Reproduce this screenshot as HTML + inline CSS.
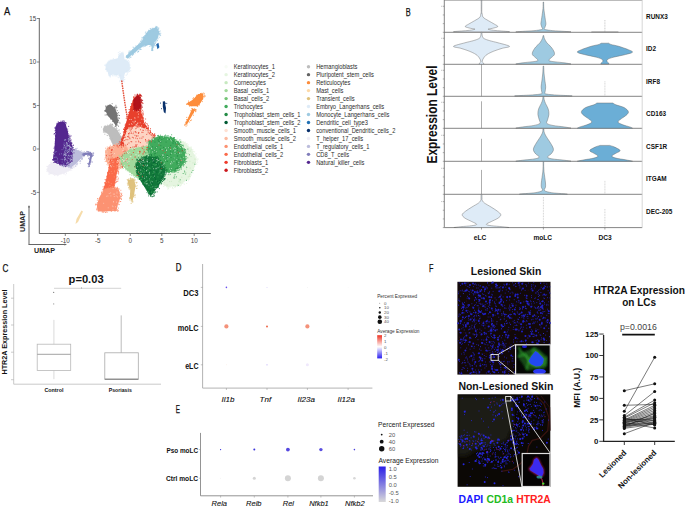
<!DOCTYPE html>
<html><head><meta charset="utf-8"><style>
html,body{margin:0;padding:0;background:#fff;}
body{width:685px;height:507px;overflow:hidden;}
svg{display:block;font-family:"Liberation Sans",sans-serif;}
</style></head><body>
<svg width="685" height="507" viewBox="0 0 685 507">
<rect width="685" height="507" fill="#fff"/>
<text x="3.9" y="14.8" font-size="10" fill="#111" font-weight="normal" text-anchor="start"  textLength="6.2" lengthAdjust="spacingAndGlyphs" stroke="#111" stroke-width="0.25">A</text>
<line x1="39.3" y1="18" x2="39.3" y2="233.5" stroke="#555" stroke-width="0.9" />
<line x1="39.3" y1="233.5" x2="210.8" y2="233.5" stroke="#555" stroke-width="0.9" />
<line x1="36.8" y1="18.5" x2="39.3" y2="18.5" stroke="#555" stroke-width="0.7" />
<text x="36.3" y="20.7" font-size="6.3" fill="#444" font-weight="normal" text-anchor="end"  >15</text>
<line x1="36.8" y1="62" x2="39.3" y2="62" stroke="#555" stroke-width="0.7" />
<text x="36.3" y="64.2" font-size="6.3" fill="#444" font-weight="normal" text-anchor="end"  >10</text>
<line x1="36.8" y1="105.5" x2="39.3" y2="105.5" stroke="#555" stroke-width="0.7" />
<text x="36.3" y="107.7" font-size="6.3" fill="#444" font-weight="normal" text-anchor="end"  >5</text>
<line x1="36.8" y1="149" x2="39.3" y2="149" stroke="#555" stroke-width="0.7" />
<text x="36.3" y="151.2" font-size="6.3" fill="#444" font-weight="normal" text-anchor="end"  >0</text>
<line x1="36.8" y1="192.4" x2="39.3" y2="192.4" stroke="#555" stroke-width="0.7" />
<text x="36.3" y="194.6" font-size="6.3" fill="#444" font-weight="normal" text-anchor="end"  >-5</text>
<line x1="65.3" y1="233.5" x2="65.3" y2="236" stroke="#555" stroke-width="0.7" />
<text x="65.3" y="242.6" font-size="6.3" fill="#444" font-weight="normal" text-anchor="middle"  >-10</text>
<line x1="97.7" y1="233.5" x2="97.7" y2="236" stroke="#555" stroke-width="0.7" />
<text x="97.7" y="242.6" font-size="6.3" fill="#444" font-weight="normal" text-anchor="middle"  >-5</text>
<line x1="130.3" y1="233.5" x2="130.3" y2="236" stroke="#555" stroke-width="0.7" />
<text x="130.3" y="242.6" font-size="6.3" fill="#444" font-weight="normal" text-anchor="middle"  >0</text>
<line x1="161.8" y1="233.5" x2="161.8" y2="236" stroke="#555" stroke-width="0.7" />
<text x="161.8" y="242.6" font-size="6.3" fill="#444" font-weight="normal" text-anchor="middle"  >5</text>
<line x1="194.2" y1="233.5" x2="194.2" y2="236" stroke="#555" stroke-width="0.7" />
<text x="194.2" y="242.6" font-size="6.3" fill="#444" font-weight="normal" text-anchor="middle"  >10</text>
<line x1="29" y1="206" x2="29" y2="244.5" stroke="#666" stroke-width="1" />
<line x1="28.5" y1="244.5" x2="66" y2="244.5" stroke="#666" stroke-width="1" />
<polygon points="29,205 28,207.6 30,207.6" fill="#666"/>
<polygon points="67,244.5 64.4,243.5 64.4,245.5" fill="#666"/>
<text x="0" y="0" font-size="7" font-weight="bold" fill="#222" transform="translate(25.3,232) rotate(-90)" textLength="21" lengthAdjust="spacingAndGlyphs">UMAP</text>
<text x="34" y="253" font-size="7" fill="#222" font-weight="bold" text-anchor="start"  textLength="21" lengthAdjust="spacingAndGlyphs" >UMAP</text>
<polygon points="47.7,166.3 51.5,162.4 59.2,161.2 69.5,162.4 74.6,163.7 72.1,168.8 65.6,172.7 57.9,175.3 50.3,174.0 47.1,170.1" fill="#efedf5" />
<path d="M52.3,172.9h0.9M53.6,174.3h0.9M48.3,171.8h0.9M57.0,175.8h0.9M49.2,164.6h0.9M46.3,166.4h0.9M52.2,163.0h0.9M50.1,164.4h0.9M71.5,162.3h0.9M54.5,164.9h0.9M56.7,162.1h0.9M74.1,163.7h0.9M56.3,162.8h0.9M48.8,165.3h0.9M57.8,175.4h0.9M73.4,163.8h0.9M70.2,170.0h0.9M62.0,161.7h0.9M55.7,174.7h0.9M74.7,162.8h0.9M64.2,173.3h0.9M73.6,168.0h0.9M47.1,166.6h0.9M47.7,169.7h0.9M73.3,162.7h0.9M66.1,173.5h0.9M68.7,163.4h0.9M67.9,162.5h0.9M65.3,174.8h0.9M47.8,170.5h0.9M51.4,172.6h0.9M47.5,170.0h0.9M47.3,171.7h0.9M74.4,165.3h0.9M49.6,173.0h0.9M71.2,162.0h0.9M54.2,161.8h0.9M47.4,166.4h0.9M47.6,166.5h0.9M60.8,162.0h0.9M67.4,170.3h0.9M66.2,161.4h0.9M67.7,171.5h0.9M55.2,161.0h0.9M50.7,161.9h0.9M68.1,161.7h0.9M51.7,173.4h0.9M49.9,162.4h0.9M63.1,173.7h0.9M58.3,161.5h0.9M69.4,169.2h0.9M53.3,174.4h0.9M49.3,173.2h0.9M75.6,164.7h0.9M56.7,175.0h0.9M48.1,171.1h0.9M54.2,175.5h0.9M72.6,165.4h0.9M73.1,164.4h0.9M71.3,170.3h0.9M51.1,163.3h0.9M58.4,161.7h0.9M61.4,173.5h0.9M47.5,168.5h0.9M46.8,168.8h0.9M71.8,166.5h0.9M63.8,174.1h0.9M74.2,161.0h0.9M54.1,160.9h0.9M65.7,172.0h0.9M55.6,173.5h0.9M48.3,171.9h0.9M69.6,170.6h0.9M63.8,159.8h0.9M55.4,161.4h0.9M53.1,173.3h0.9M60.8,173.2h0.9M68.7,170.1h0.9M55.2,160.7h0.9M73.4,165.7h0.9M49.9,165.4h0.9M48.6,174.3h0.9M75.1,164.1h0.9M63.9,160.0h0.9M55.4,174.9h0.9M48.5,174.1h0.9M56.3,161.9h0.9M46.5,171.3h0.9M48.4,171.0h0.9M48.6,167.4h0.9M48.5,172.9h0.9M55.2,161.7h0.9M48.4,165.2h0.9M47.6,170.0h0.9M50.2,171.4h0.9M63.1,173.5h0.9M60.6,174.2h0.9M49.7,173.9h0.9M74.3,164.2h0.9M71.0,162.7h0.9M69.4,169.8h0.9M46.4,169.6h0.9M73.2,163.2h0.9M58.5,174.1h0.9M46.5,171.2h0.9M48.7,169.4h0.9M66.0,173.0h0.9" stroke="#efedf5" stroke-width="0.9" fill="none"/>
<polygon points="63.1,157.3 69.5,149.6 75.9,149.6 82.3,152.2 84.2,154.7 81.0,158.6 75.9,163.7 70.8,167.6 63.1,166.3 59.2,162.4" fill="#bcbddc" />
<path d="M84.6,152.7h0.9M81.9,152.2h0.9M75.9,163.3h0.9M76.1,149.0h0.9M70.0,147.8h0.9M78.9,159.1h0.9M60.0,161.0h0.9M71.1,167.7h0.9M59.0,162.9h0.9M72.3,147.3h0.9M74.1,150.6h0.9M73.9,150.5h0.9M61.9,165.8h0.9M68.9,151.7h0.9M79.1,161.2h0.9M59.9,163.6h0.9M73.4,167.0h0.9M76.8,164.7h0.9M79.5,152.8h0.9M60.6,162.1h0.9M75.5,166.0h0.9M83.6,156.6h0.9M59.1,164.5h0.9M82.5,155.1h0.9M61.7,165.9h0.9M83.8,151.5h0.9M64.3,156.8h0.9M68.2,167.2h0.9M75.8,164.5h0.9M75.9,161.3h0.9M63.3,158.7h0.9M71.9,147.7h0.9M71.7,168.2h0.9M80.2,151.5h0.9M70.1,167.9h0.9M59.4,160.6h0.9M82.1,158.3h0.9M84.3,153.7h0.9M78.4,150.4h0.9M79.8,163.3h0.9M81.4,158.4h0.9M68.8,167.0h0.9M75.3,148.6h0.9M84.4,154.6h0.9M70.4,166.8h0.9M75.4,150.4h0.9M65.3,165.7h0.9M74.0,162.0h0.9M81.9,158.0h0.9M81.1,157.2h0.9M82.1,155.7h0.9M83.5,153.2h0.9M82.9,153.0h0.9M67.8,152.5h0.9M68.0,153.2h0.9M74.8,149.3h0.9M82.8,154.5h0.9M82.5,153.1h0.9M73.0,150.2h0.9M83.1,152.4h0.9M76.7,148.3h0.9M79.6,158.4h0.9M78.4,151.0h0.9M81.6,159.6h0.9M62.9,166.9h0.9M63.9,158.0h0.9M72.4,149.7h0.9M80.1,160.7h0.9M80.2,161.4h0.9M62.6,158.6h0.9M83.1,155.7h0.9M81.3,159.4h0.9M61.6,166.0h0.9M76.2,161.2h0.9M60.2,160.9h0.9M62.1,160.9h0.9M81.7,158.2h0.9M80.8,150.8h0.9M74.1,163.5h0.9M71.6,150.0h0.9M80.3,158.6h0.9M74.9,166.2h0.9M61.0,165.2h0.9M76.5,162.1h0.9M74.8,149.1h0.9M77.2,161.4h0.9M62.7,165.5h0.9M67.4,151.6h0.9M78.1,151.3h0.9M77.1,151.1h0.9M81.8,158.8h0.9M72.6,151.3h0.9M68.9,151.6h0.9M65.4,155.7h0.9M59.9,160.0h0.9M83.9,152.8h0.9M83.3,156.7h0.9M80.8,157.9h0.9M61.6,164.3h0.9M77.2,163.4h0.9M71.3,166.0h0.9M67.3,152.4h0.9M63.2,166.6h0.9" stroke="#bcbddc" stroke-width="0.9" fill="none"/>
<polygon points="82.3,153.5 86.2,152.4 90.6,152.2 92.6,153.5 91.9,157.3 90.6,162.4 89.4,165.6 88.1,165.0 89.4,159.9 90.0,156.0 87.4,154.7 83.6,155.4" fill="#807dba" />
<path d="M88.9,165.7h0.9M91.8,162.0h0.9M92.6,153.0h0.9M88.9,159.4h0.9M93.0,155.2h0.9M86.9,151.6h0.9M90.3,162.2h0.9M89.4,158.1h0.9M88.5,164.1h0.9M87.3,163.6h0.9M93.2,153.2h0.9M88.9,166.5h0.9M83.9,155.5h0.9M83.6,155.6h0.9M90.0,152.3h0.9M82.9,154.9h0.9M86.4,151.4h0.9M88.1,154.3h0.9M82.7,155.6h0.9M87.4,155.6h0.9M88.7,152.0h0.9M81.9,154.4h0.9M87.9,153.2h0.9M83.4,155.3h0.9M89.4,162.3h0.9M91.1,154.1h0.9M88.5,165.9h0.9M87.5,156.0h0.9M88.4,163.4h0.9M87.9,166.7h0.9M92.0,155.9h0.9M90.1,164.0h0.9M88.0,158.3h0.9M89.7,153.6h0.9M90.6,161.0h0.9M92.4,154.9h0.9M83.8,153.6h0.9M84.8,153.2h0.9M91.6,155.7h0.9M89.7,153.0h0.9M88.1,151.7h0.9M87.5,154.9h0.9M91.7,156.3h0.9" stroke="#807dba" stroke-width="0.9" fill="none"/>
<polygon points="56.7,124.0 59.2,122.1 63.7,121.4 65.6,124.0 67.6,130.4 68.8,136.8 70.8,141.9 72.7,147.1 72.1,152.2 71.4,157.3 69.5,162.4 65.6,165.0 60.5,164.4 55.4,162.4 52.8,159.9 54.1,153.5 54.7,144.5 55.4,134.2 55.4,127.8" fill="#54278f" />
<path d="M68.4,165.1h0.9M69.1,162.0h0.9M61.8,165.5h0.9M63.3,123.5h0.9M67.3,131.1h0.9M56.4,162.0h0.9M68.7,137.9h0.9M59.2,164.6h0.9M67.2,131.7h0.9M62.7,120.7h0.9M53.6,148.3h0.9M56.4,123.9h0.9M54.5,153.8h0.9M56.7,163.5h0.9M65.7,164.6h0.9M65.6,166.0h0.9M52.3,159.7h0.9M70.2,161.4h0.9M54.8,156.6h0.9M53.9,147.1h0.9M71.9,160.0h0.9M59.8,165.2h0.9M71.9,150.6h0.9M64.0,121.2h0.9M54.7,130.8h0.9M71.8,158.3h0.9M53.2,155.2h0.9M55.3,127.9h0.9M66.2,163.2h0.9M55.2,147.3h0.9M60.5,121.2h0.9M53.2,152.3h0.9M55.0,132.5h0.9M61.6,123.2h0.9M71.4,156.2h0.9M54.2,158.8h0.9M67.2,129.1h0.9M72.2,150.3h0.9M54.8,135.1h0.9M70.0,162.5h0.9M70.6,135.9h0.9M55.8,154.9h0.9M58.1,123.5h0.9M55.2,129.0h0.9M72.6,147.8h0.9M69.8,136.9h0.9M56.8,125.9h0.9M69.3,135.2h0.9M67.2,163.1h0.9M53.6,134.1h0.9M55.5,132.6h0.9M53.3,162.4h0.9M70.8,147.9h0.9M55.0,153.4h0.9M62.2,121.3h0.9M67.1,133.3h0.9M54.9,141.6h0.9M64.5,122.9h0.9M56.4,125.3h0.9M70.0,157.9h0.9M55.3,135.4h0.9M54.8,143.3h0.9M52.2,159.9h0.9M72.6,145.4h0.9M66.3,131.7h0.9M58.3,122.6h0.9M64.2,123.3h0.9M65.0,122.6h0.9M73.8,149.8h0.9M55.0,160.9h0.9M66.4,164.6h0.9M69.4,138.6h0.9M68.9,162.9h0.9M68.4,140.2h0.9M59.5,163.9h0.9M72.1,147.8h0.9M70.3,143.1h0.9M55.7,149.4h0.9M54.0,151.9h0.9M71.8,154.2h0.9M69.1,140.5h0.9M71.0,143.7h0.9M65.0,166.6h0.9M65.3,124.9h0.9M64.9,124.1h0.9M54.8,138.8h0.9M54.8,154.1h0.9M59.3,122.5h0.9M67.5,133.5h0.9M54.0,156.1h0.9M71.2,155.1h0.9M55.4,136.3h0.9M63.6,166.0h0.9M55.4,146.1h0.9M71.7,161.4h0.9M54.3,127.9h0.9M64.2,164.6h0.9M54.0,162.2h0.9M68.2,162.6h0.9M59.6,163.1h0.9M72.3,147.8h0.9M68.1,135.2h0.9M71.0,161.0h0.9M61.6,164.0h0.9M57.1,162.9h0.9M66.3,164.8h0.9M65.4,164.4h0.9M69.5,140.6h0.9M65.3,164.4h0.9M64.3,122.4h0.9M56.1,162.7h0.9M53.5,157.3h0.9M68.3,135.8h0.9M55.1,145.2h0.9M72.7,149.4h0.9M56.5,128.0h0.9M56.2,132.1h0.9M68.6,163.2h0.9M71.2,143.4h0.9M68.4,136.9h0.9M55.0,127.1h0.9M54.9,130.4h0.9M70.5,139.7h0.9M65.9,123.0h0.9M53.4,156.4h0.9M53.8,160.4h0.9M55.0,136.3h0.9M71.6,153.5h0.9M72.9,145.2h0.9M54.8,161.8h0.9M72.2,156.9h0.9M71.0,158.6h0.9M56.8,123.2h0.9M70.5,156.3h0.9M58.3,163.2h0.9M70.4,140.6h0.9M69.2,158.7h0.9M59.9,163.9h0.9M55.1,152.3h0.9M70.8,157.5h0.9M67.8,137.6h0.9M56.0,131.7h0.9M68.2,126.4h0.9M55.0,162.3h0.9M56.0,126.5h0.9M67.8,163.1h0.9M71.8,155.1h0.9M70.9,160.8h0.9M69.4,138.5h0.9M53.4,154.1h0.9M54.1,133.5h0.9M73.5,152.9h0.9M53.8,156.1h0.9M57.8,121.8h0.9M71.8,153.2h0.9M55.3,139.5h0.9M64.0,164.7h0.9M54.9,148.3h0.9M65.7,130.2h0.9M54.9,161.7h0.9M54.9,128.6h0.9M55.5,137.0h0.9M52.9,159.5h0.9M67.1,164.6h0.9M69.2,136.7h0.9M71.5,143.1h0.9M65.6,165.0h0.9M60.6,122.8h0.9M71.0,142.3h0.9" stroke="#54278f" stroke-width="0.9" fill="none"/>
<path d="M68.7,153.1h0.9M66.2,150.1h0.9M72.1,150.9h0.9M66.8,162.8h0.9M70.1,155.5h0.9M69.0,146.5h0.9M67.3,156.9h0.9M70.2,157.8h0.9M67.3,150.0h0.9M71.1,150.9h0.9M66.7,152.1h0.9M68.2,149.5h0.9M63.6,146.0h0.9M68.2,146.1h0.9M65.5,154.4h0.9M64.9,150.0h0.9M68.4,138.3h0.9M65.5,144.2h0.9M66.4,151.4h0.9M66.4,142.6h0.9M63.2,148.8h0.9M65.4,139.8h0.9M67.3,158.1h0.9M67.9,138.4h0.9M66.3,163.0h0.9M65.9,148.5h0.9M69.0,137.7h0.9M69.6,149.9h0.9M67.8,139.3h0.9M69.3,151.8h0.9M66.1,163.8h0.9M72.6,147.5h0.9M70.9,156.5h0.9M69.4,142.7h0.9M65.1,158.4h0.9M64.7,153.2h0.9M63.5,144.6h0.9M65.6,146.5h0.9M69.1,145.5h0.9M65.1,157.0h0.9M65.6,147.4h0.9M69.0,144.7h0.9M64.4,140.3h0.9M64.0,151.3h0.9M67.1,150.7h0.9M64.2,140.3h0.9M63.8,155.1h0.9M65.2,150.3h0.9M65.0,148.5h0.9M65.2,154.8h0.9M66.6,146.2h0.9M68.7,155.4h0.9M65.7,155.5h0.9M63.2,154.0h0.9M63.2,147.4h0.9M68.8,161.2h0.9M66.8,144.6h0.9M69.4,149.6h0.9M65.1,159.1h0.9M68.8,156.5h0.9M71.5,155.6h0.9M64.7,151.1h0.9M67.7,155.2h0.9M63.7,143.1h0.9M67.2,143.3h0.9M68.3,139.9h0.9M69.4,159.1h0.9M72.0,151.4h0.9M68.7,150.8h0.9M71.1,151.3h0.9" stroke="#807dba" stroke-width="0.9" fill="none"/>
<path d="M64.0,159.2h0.9M69.8,159.0h0.9M71.6,149.0h0.9M64.6,147.3h0.9M66.6,160.3h0.9M67.0,152.6h0.9M68.5,138.7h0.9M65.4,155.5h0.9M68.0,145.5h0.9M66.5,143.7h0.9M68.8,149.9h0.9M64.7,139.7h0.9M70.9,151.0h0.9M64.5,152.7h0.9M64.7,154.2h0.9M64.2,160.0h0.9M65.3,159.3h0.9M64.1,157.6h0.9M66.7,145.1h0.9M69.0,148.2h0.9M67.8,162.5h0.9M68.3,158.3h0.9M70.5,147.8h0.9M66.0,142.8h0.9M68.2,155.3h0.9M67.1,162.1h0.9M68.5,140.7h0.9M64.0,154.4h0.9M65.6,153.7h0.9M70.7,147.6h0.9M69.3,146.2h0.9M64.2,145.6h0.9M68.2,141.4h0.9M66.8,145.9h0.9M70.9,155.8h0.9M66.5,163.6h0.9M68.1,151.7h0.9M70.1,147.3h0.9M68.8,139.8h0.9M69.7,146.9h0.9" stroke="#bcbddc" stroke-width="0.9" fill="none"/>
<path d="M61.7,162.1h0.9M55.5,160.7h0.9M54.3,160.7h0.9M57.2,162.4h0.9M55.6,157.6h0.9M63.2,164.0h0.9M61.1,153.8h0.9M54.0,157.3h0.9M54.1,154.2h0.9M55.7,151.5h0.9M54.8,152.2h0.9M59.1,154.1h0.9M57.2,159.9h0.9M60.7,159.3h0.9M55.5,156.9h0.9M63.4,155.7h0.9M57.1,158.3h0.9M64.5,161.8h0.9M61.6,149.6h0.9M62.5,159.2h0.9M63.1,155.0h0.9M64.3,160.1h0.9M63.5,164.2h0.9M57.4,162.0h0.9M61.9,159.7h0.9" stroke="#807dba" stroke-width="0.9" fill="none"/>
<polygon points="121.2,52.3 123.6,52.8 124.6,59.7 127.6,60.7 129.6,63.6 130.0,68.6 128.6,71.5 125.1,72.5 124.1,76.5 123.2,81.4 121.2,81.4 119.7,77.4 118.7,74.5 116.7,75.5 112.8,74.5 108.9,76.5 107.9,72.5 105.9,69.6 105.4,65.6 107.9,61.7 111.8,59.7 117.7,58.2 119.2,54.8" fill="#deebf7" />
<path d="M119.2,74.5h0.9M128.0,72.0h0.9M127.8,62.1h0.9M113.5,75.9h0.9M108.1,73.7h0.9M108.8,75.5h0.9M107.9,64.5h0.9M112.9,58.6h0.9M116.9,74.4h0.9M105.5,64.2h0.9M126.8,61.1h0.9M114.4,75.3h0.9M123.6,77.4h0.9M108.6,62.4h0.9M106.3,71.2h0.9M107.7,63.1h0.9M124.3,60.1h0.9M109.8,77.0h0.9M120.2,76.0h0.9M126.1,71.4h0.9M119.7,75.9h0.9M117.6,77.1h0.9M119.5,51.7h0.9M123.7,77.5h0.9M123.2,80.9h0.9M123.6,79.6h0.9M123.8,81.9h0.9M104.6,65.5h0.9M128.2,68.4h0.9M115.3,60.0h0.9M118.1,75.2h0.9M118.0,54.8h0.9M107.1,69.9h0.9M129.1,62.0h0.9M118.8,55.7h0.9M108.1,62.7h0.9M120.1,75.4h0.9M124.6,60.1h0.9M121.2,54.6h0.9M105.3,69.2h0.9M105.0,69.2h0.9M119.8,55.0h0.9M117.9,52.7h0.9M106.4,68.8h0.9M126.7,74.4h0.9M130.1,67.8h0.9M109.3,73.3h0.9M109.9,62.4h0.9M129.1,71.5h0.9M121.5,81.4h0.9M127.9,70.4h0.9M119.2,55.5h0.9M125.6,71.7h0.9M119.4,81.7h0.9M123.9,73.0h0.9M119.6,80.4h0.9M116.4,75.9h0.9M109.2,75.3h0.9M118.6,57.1h0.9M124.4,79.4h0.9M124.8,61.3h0.9M117.8,58.5h0.9M118.9,56.2h0.9M115.4,76.0h0.9M128.2,60.6h0.9M129.5,65.1h0.9M127.0,73.1h0.9M126.1,60.0h0.9M109.8,76.1h0.9M130.3,70.8h0.9M123.0,78.0h0.9M129.8,67.9h0.9M124.2,71.4h0.9M118.1,57.0h0.9M125.7,75.3h0.9M119.6,76.0h0.9M104.6,64.9h0.9M106.7,63.2h0.9M124.9,60.1h0.9M122.5,80.9h0.9M129.2,70.1h0.9M123.2,80.6h0.9M119.7,74.8h0.9M126.8,71.9h0.9M109.6,76.2h0.9M128.6,69.7h0.9M119.2,53.4h0.9M109.9,60.5h0.9M122.4,52.2h0.9M109.8,59.9h0.9M121.7,81.7h0.9M108.6,60.6h0.9M118.4,77.7h0.9M111.6,59.6h0.9M108.1,70.1h0.9M120.4,80.2h0.9M121.9,81.0h0.9M120.4,77.0h0.9M106.1,69.4h0.9M117.0,74.2h0.9M112.0,75.8h0.9M125.0,57.1h0.9M112.5,74.9h0.9M107.7,61.7h0.9M113.7,59.5h0.9M125.3,60.3h0.9M118.1,57.0h0.9M125.5,72.4h0.9" stroke="#deebf7" stroke-width="0.9" fill="none"/>
<polygon points="155.7,27.3 158.1,29.2 159.2,32.4 158.4,36.3 156.5,40.2 154.6,42.1 153.7,45.0 153.1,48.9 151.8,50.5 151.5,45.0 148.6,45.0 143.9,45.8 139.2,48.9 134.4,52.9 130.5,55.7 127.3,58.4 125.8,56.8 128.1,53.7 132.9,48.9 137.6,45.0 141.5,41.8 143.9,37.1 146.3,33.1 149.4,30.0" fill="#9ecae1" />
<path d="M145.4,32.0h0.9M146.6,34.1h0.9M156.7,40.2h0.9M157.5,28.3h0.9M144.8,37.8h0.9M144.1,37.6h0.9M152.0,44.5h0.9M154.2,43.2h0.9M149.3,32.2h0.9M157.8,31.1h0.9M158.3,27.9h0.9M126.9,57.8h0.9M154.8,43.5h0.9M140.3,41.5h0.9M146.4,45.2h0.9M152.3,46.4h0.9M158.6,34.2h0.9M138.5,44.1h0.9M156.9,37.3h0.9M158.1,29.2h0.9M152.3,30.6h0.9M142.6,46.8h0.9M158.7,33.9h0.9M143.2,41.3h0.9M126.7,57.4h0.9M126.4,56.2h0.9M141.6,37.4h0.9M136.5,46.8h0.9M154.8,45.6h0.9M153.9,45.1h0.9M155.2,29.1h0.9M158.0,31.7h0.9M156.9,40.7h0.9M159.7,31.0h0.9M140.0,44.3h0.9M136.6,47.5h0.9M152.0,49.8h0.9M148.1,32.5h0.9M139.9,49.4h0.9M128.7,58.0h0.9M151.8,28.3h0.9M141.6,41.9h0.9M151.9,29.1h0.9M153.9,44.6h0.9M129.5,55.7h0.9M132.5,53.1h0.9M151.0,45.8h0.9M142.8,37.9h0.9M128.3,52.8h0.9M144.2,37.4h0.9M140.6,40.9h0.9M133.2,54.6h0.9M159.6,34.4h0.9M148.0,31.2h0.9M132.9,53.2h0.9M139.2,49.7h0.9M132.8,52.2h0.9M141.3,39.2h0.9M144.5,45.2h0.9M148.0,31.3h0.9M156.2,26.8h0.9M154.2,28.8h0.9M145.6,45.4h0.9M142.4,38.1h0.9M132.0,55.0h0.9M130.0,57.1h0.9M150.5,44.6h0.9M150.4,45.7h0.9M153.3,47.3h0.9M129.7,51.0h0.9M137.8,51.2h0.9M138.8,44.6h0.9M159.3,35.0h0.9M156.8,28.0h0.9M149.4,46.3h0.9M148.0,30.3h0.9M128.2,57.6h0.9M133.4,47.8h0.9M128.8,52.3h0.9M145.3,45.2h0.9M153.5,44.2h0.9M140.2,48.9h0.9M144.6,46.5h0.9M151.6,48.2h0.9M150.4,28.9h0.9M132.4,49.9h0.9M126.6,57.2h0.9M158.7,37.3h0.9M128.7,51.2h0.9M148.5,44.4h0.9M156.2,28.5h0.9M151.5,45.1h0.9M132.1,55.0h0.9M156.8,38.1h0.9M139.4,42.9h0.9M151.7,50.3h0.9M126.3,55.5h0.9M152.5,50.2h0.9M142.9,37.5h0.9M154.5,45.9h0.9M128.3,56.6h0.9M137.0,52.1h0.9M143.9,37.2h0.9M151.9,50.6h0.9M130.3,51.4h0.9M160.2,35.6h0.9M135.8,50.8h0.9M131.8,54.5h0.9M144.9,33.0h0.9M146.3,34.6h0.9M145.1,45.2h0.9M155.9,27.2h0.9M158.8,33.8h0.9M131.2,51.1h0.9M152.9,46.7h0.9M158.3,28.9h0.9M153.2,45.6h0.9M143.5,37.9h0.9M149.8,28.6h0.9M143.2,36.6h0.9M144.4,35.5h0.9M127.5,57.6h0.9M151.4,45.1h0.9M152.4,45.5h0.9M146.9,34.2h0.9M143.9,38.2h0.9M155.0,27.5h0.9M127.0,56.6h0.9M138.8,44.3h0.9M135.4,46.0h0.9M157.0,27.1h0.9M152.2,49.7h0.9M132.8,49.7h0.9M129.0,56.7h0.9M153.9,44.0h0.9M159.2,33.2h0.9M156.0,27.4h0.9M147.1,32.0h0.9M158.8,31.6h0.9M130.5,57.2h0.9M155.3,40.9h0.9M132.9,52.8h0.9M138.2,51.4h0.9M156.1,27.8h0.9M136.7,46.3h0.9M143.2,37.5h0.9M140.6,49.5h0.9M151.3,50.4h0.9M157.6,38.8h0.9M134.7,52.9h0.9M132.7,47.2h0.9M140.6,46.6h0.9M137.0,46.1h0.9M126.8,57.2h0.9M138.1,51.7h0.9M141.2,41.0h0.9M143.6,46.2h0.9M146.6,33.7h0.9M140.6,46.7h0.9M151.0,49.1h0.9M155.5,26.4h0.9M143.5,40.5h0.9M160.3,33.3h0.9M155.3,42.5h0.9M132.8,53.4h0.9M152.8,28.3h0.9M153.5,40.1h0.9M155.5,41.6h0.9M130.5,55.1h0.9" stroke="#9ecae1" stroke-width="0.9" fill="none"/>
<polygon points="156.2,44.2 158.4,42.8 159.4,47.3 157.5,49.2" fill="#2166ac" />
<polygon points="103.9,126.6 110.6,124.8 117.3,130.1 121.3,136.8 123.1,143.9 119.4,149.8 114.6,150.9 111.9,142.6 107.9,133.8 102.9,130.6" fill="#bdbdbd" />
<path d="M115.1,151.0h0.9M104.6,125.8h0.9M121.6,146.5h0.9M110.4,124.2h0.9M111.0,125.2h0.9M107.3,133.5h0.9M114.1,151.7h0.9M114.0,150.4h0.9M109.2,125.2h0.9M120.6,147.7h0.9M106.6,135.3h0.9M119.8,133.7h0.9M105.1,130.5h0.9M122.1,143.8h0.9M122.6,145.8h0.9M113.0,144.9h0.9M110.6,125.2h0.9M118.7,132.9h0.9M122.0,142.5h0.9M118.8,149.5h0.9M109.4,125.0h0.9M118.8,129.8h0.9M103.8,128.9h0.9M103.9,127.0h0.9M120.0,133.4h0.9M118.4,149.4h0.9M123.3,142.4h0.9M111.3,139.7h0.9M114.0,127.8h0.9M118.2,130.3h0.9M109.5,126.8h0.9M103.6,130.3h0.9M106.2,131.3h0.9M119.8,149.2h0.9M122.4,140.4h0.9M116.7,132.5h0.9M110.1,139.8h0.9M104.5,129.2h0.9M105.1,128.3h0.9M113.0,146.8h0.9M113.0,144.9h0.9M111.5,138.2h0.9M119.7,136.6h0.9M119.5,145.2h0.9M120.7,137.1h0.9M116.4,128.4h0.9M114.3,126.6h0.9M115.8,130.3h0.9M124.2,141.8h0.9M121.7,148.5h0.9M118.0,150.4h0.9M115.8,128.9h0.9M109.3,138.6h0.9M104.4,134.4h0.9M116.5,149.1h0.9M111.6,125.1h0.9M104.1,131.7h0.9M104.2,129.9h0.9M119.6,148.3h0.9M111.2,141.9h0.9M104.3,132.7h0.9M103.9,126.7h0.9M116.0,127.3h0.9M123.1,145.0h0.9M103.3,128.7h0.9M116.7,150.7h0.9M116.8,130.4h0.9M104.0,128.3h0.9M122.4,139.9h0.9M111.9,142.1h0.9M102.9,132.2h0.9M122.4,143.1h0.9M111.3,139.4h0.9M103.5,130.2h0.9M123.0,143.4h0.9M121.5,136.5h0.9M103.1,131.7h0.9M109.1,134.8h0.9M114.6,150.4h0.9M105.8,132.8h0.9M116.3,129.0h0.9M118.9,150.6h0.9M121.5,149.0h0.9M103.5,129.5h0.9M107.0,125.2h0.9M111.2,126.5h0.9M115.2,129.6h0.9M120.9,151.3h0.9M114.9,128.3h0.9M112.4,125.6h0.9M121.2,138.5h0.9M104.2,129.7h0.9M107.2,135.6h0.9M115.1,148.4h0.9M114.5,151.7h0.9M115.7,150.3h0.9M120.7,146.1h0.9M102.8,129.2h0.9M105.3,126.1h0.9M122.3,147.7h0.9M118.7,131.0h0.9M108.9,125.3h0.9M105.7,132.2h0.9M105.4,132.2h0.9M121.7,145.2h0.9M118.9,134.8h0.9M101.1,127.0h0.9M110.0,124.1h0.9M104.3,131.2h0.9M112.9,149.9h0.9M122.6,143.8h0.9M119.3,149.1h0.9M112.4,142.9h0.9" stroke="#bdbdbd" stroke-width="0.9" fill="none"/>
<polygon points="106.1,106.6 110.6,104.5 114.6,108.0 117.3,114.6 118.1,122.6 115.9,125.8 111.9,120.0 107.9,116.0 105.3,110.6" fill="#737373" />
<path d="M110.2,106.4h0.9M104.7,110.6h0.9M116.5,107.3h0.9M114.6,108.1h0.9M104.9,111.0h0.9M107.1,113.8h0.9M111.7,103.7h0.9M118.5,122.2h0.9M104.7,115.0h0.9M118.1,126.2h0.9M109.4,105.5h0.9M114.2,108.0h0.9M115.8,124.7h0.9M112.2,121.3h0.9M105.3,106.8h0.9M115.6,108.8h0.9M118.1,120.8h0.9M109.1,115.5h0.9M115.5,107.0h0.9M107.6,107.1h0.9M106.6,115.0h0.9M117.5,119.1h0.9M112.6,108.1h0.9M110.4,119.1h0.9M107.3,110.0h0.9M119.5,123.1h0.9M118.2,112.7h0.9M115.9,112.3h0.9M111.8,124.3h0.9M105.4,105.9h0.9M115.5,105.3h0.9M104.9,111.1h0.9M116.3,113.2h0.9M108.5,106.2h0.9M107.3,111.6h0.9M118.4,117.8h0.9M108.9,105.3h0.9M112.4,119.4h0.9M116.5,124.6h0.9M105.9,108.2h0.9M117.5,120.0h0.9M106.1,109.0h0.9M104.6,110.5h0.9M115.2,126.0h0.9M116.9,113.4h0.9M116.7,110.6h0.9M106.5,108.5h0.9M107.9,114.5h0.9M107.0,107.1h0.9M113.9,107.1h0.9M114.8,109.5h0.9M107.6,105.4h0.9M115.4,126.5h0.9M111.2,106.1h0.9M117.8,120.4h0.9M116.0,107.3h0.9M104.7,111.4h0.9M116.0,122.4h0.9M112.3,106.5h0.9M115.0,110.6h0.9M116.5,125.2h0.9M110.5,118.5h0.9M114.8,107.0h0.9M109.4,104.9h0.9M114.2,122.0h0.9M119.1,115.5h0.9M115.2,111.7h0.9M115.1,124.9h0.9M106.4,114.7h0.9M107.7,106.7h0.9M118.8,118.5h0.9M114.0,107.6h0.9M112.7,121.4h0.9M107.7,105.7h0.9M116.4,125.3h0.9M117.0,115.3h0.9M107.6,114.5h0.9M110.3,106.4h0.9M108.1,106.0h0.9M105.2,110.3h0.9M117.7,115.1h0.9M111.7,107.8h0.9M107.0,109.5h0.9" stroke="#737373" stroke-width="0.9" fill="none"/>
<polygon points="162.8,101.3 164.7,101.8 166.0,108.0 165.5,113.6 163.9,112.2 162.8,106.6" fill="#08306b" />
<path d="M163.4,104.5h0.9M160.1,103.1h0.9M166.3,103.4h0.9M161.1,108.7h0.9M163.9,102.3h0.9M164.0,101.8h0.9M164.2,111.4h0.9M165.0,103.2h0.9M164.3,103.1h0.9M163.0,103.2h0.9" stroke="#08306b" stroke-width="0.9" fill="none"/>
<polygon points="186.1,104.1 192.3,100.1 198.5,93.9 202.9,93.7 203.4,98.3 199.4,104.5 196.7,106.3 190.5,106.3" fill="#fd8d3c" />
<path d="M187.9,102.5h0.9M198.1,94.6h0.9M201.8,101.6h0.9M199.6,99.3h0.9M200.1,93.6h0.9M196.4,95.5h0.9M196.6,95.0h0.9M192.8,101.2h0.9M201.4,93.3h0.9M196.7,96.3h0.9M196.8,95.4h0.9M203.2,93.1h0.9M186.0,104.3h0.9M201.1,94.0h0.9M198.8,105.0h0.9M202.7,94.9h0.9M196.9,106.4h0.9M203.8,96.9h0.9M199.8,102.6h0.9M204.0,93.9h0.9M198.7,104.7h0.9M188.2,103.0h0.9M204.3,95.7h0.9M201.9,93.8h0.9M192.5,98.6h0.9M202.5,96.2h0.9M192.4,109.0h0.9M191.2,105.7h0.9M187.9,103.4h0.9M200.4,100.8h0.9M200.3,93.6h0.9M195.7,96.9h0.9M201.6,99.7h0.9M189.8,105.5h0.9M203.3,96.7h0.9M193.1,97.8h0.9M189.1,106.1h0.9M204.7,96.2h0.9M199.4,101.7h0.9M202.2,99.2h0.9M200.7,94.7h0.9M197.4,105.9h0.9M188.1,101.1h0.9M201.9,97.9h0.9M197.2,105.6h0.9M189.7,102.2h0.9" stroke="#fd8d3c" stroke-width="0.9" fill="none"/>
<polygon points="192.3,108.2 195.1,110.0 190.9,117.8 186.2,125.1 185.4,124.0 188.9,116.1" fill="#fd8d3c" />
<path d="M192.9,112.6h0.9M195.4,111.1h0.9M192.9,115.2h0.9M194.3,109.4h0.9M186.7,122.7h0.9M188.8,122.1h0.9M186.2,119.9h0.9M186.5,121.3h0.9M187.2,119.5h0.9M185.0,122.8h0.9M188.0,121.6h0.9M192.8,112.9h0.9M186.3,117.4h0.9M195.2,111.7h0.9M186.8,121.5h0.9M185.6,126.2h0.9M190.0,120.6h0.9M184.6,124.3h0.9M186.6,122.7h0.9M186.6,125.0h0.9M186.9,122.9h0.9M195.2,109.8h0.9M193.4,110.1h0.9M188.4,117.9h0.9M194.2,110.3h0.9M184.8,124.8h0.9M192.6,111.7h0.9M191.0,120.0h0.9M191.4,108.5h0.9M195.7,109.8h0.9M194.2,108.8h0.9M187.6,120.5h0.9M194.9,109.9h0.9M192.7,110.1h0.9M184.2,125.2h0.9M186.5,119.5h0.9M190.4,110.7h0.9M194.9,109.9h0.9M185.7,121.8h0.9" stroke="#fd8d3c" stroke-width="0.9" fill="none"/>
<polygon points="81.5,210.5 83.0,211.5 78.0,222.0 75.5,224.0 76.5,219.0" fill="#f6dcaa" />
<polygon points="171.9,138.1 183.9,141.8 191.9,149.8 196.4,159.9 194.0,168.5 188.4,179.1 178.6,185.8 167.9,187.1 160.4,182.9 164.7,175.4 175.9,170.1 183.4,162.6 180.7,149.8" fill="#e5f5e0" />
<path d="M181.7,142.3h0.9M179.4,165.6h0.9M174.5,187.0h0.9M181.2,184.7h0.9M180.2,185.6h0.9M175.9,144.1h0.9M181.9,155.0h0.9M181.3,183.7h0.9M172.0,187.5h0.9M164.2,185.8h0.9M170.0,172.3h0.9M181.3,164.4h0.9M185.2,161.0h0.9M181.3,182.9h0.9M192.1,149.9h0.9M194.7,160.1h0.9M164.5,183.8h0.9M162.9,180.5h0.9M190.3,173.5h0.9M179.7,164.8h0.9M159.8,183.2h0.9M190.7,147.1h0.9M162.4,178.7h0.9M191.8,170.4h0.9M169.1,173.2h0.9M184.0,163.3h0.9M161.2,180.1h0.9M178.7,148.9h0.9M174.6,170.5h0.9M178.2,168.6h0.9M194.2,164.6h0.9M181.0,140.2h0.9M181.5,146.8h0.9M175.1,140.6h0.9M191.6,152.5h0.9M178.2,164.6h0.9M164.3,175.5h0.9M180.0,185.9h0.9M194.2,151.8h0.9M171.0,171.4h0.9M169.2,186.0h0.9M194.2,154.8h0.9M183.8,184.3h0.9M166.9,185.3h0.9M195.1,158.2h0.9M167.2,186.4h0.9M177.0,186.4h0.9M178.2,140.9h0.9M194.2,155.4h0.9M180.9,183.5h0.9M171.9,188.0h0.9M192.8,153.4h0.9M192.5,173.1h0.9M186.4,143.5h0.9M195.6,153.8h0.9M181.9,157.1h0.9M164.5,185.2h0.9M182.1,183.4h0.9M176.4,144.0h0.9M180.8,151.5h0.9M178.1,167.2h0.9M174.7,170.5h0.9M188.8,178.2h0.9M177.3,138.2h0.9M189.4,147.2h0.9M182.2,152.4h0.9M177.0,169.3h0.9M189.2,176.8h0.9M174.2,141.3h0.9M180.7,156.1h0.9M193.5,151.8h0.9M161.5,181.9h0.9M176.8,139.2h0.9M173.9,185.5h0.9M164.9,181.5h0.9M161.0,182.4h0.9M184.6,142.4h0.9M181.0,166.1h0.9M173.2,141.0h0.9M177.9,145.3h0.9M168.1,187.2h0.9M170.9,138.9h0.9M164.7,176.0h0.9M174.2,143.4h0.9M183.2,180.6h0.9M164.4,185.2h0.9M192.9,164.5h0.9M175.2,141.1h0.9M181.1,158.6h0.9M181.1,142.3h0.9M182.1,152.4h0.9M182.3,156.6h0.9M174.2,142.7h0.9M168.2,188.8h0.9M165.3,185.2h0.9M172.6,188.7h0.9M196.1,159.1h0.9M166.1,186.5h0.9M183.3,141.7h0.9M179.9,150.9h0.9M187.6,147.3h0.9M181.9,152.1h0.9M189.5,147.5h0.9M183.9,159.1h0.9M195.5,156.6h0.9M181.2,154.7h0.9M190.3,148.2h0.9M190.6,147.3h0.9M178.9,147.3h0.9M197.8,159.1h0.9M182.8,159.0h0.9M192.8,170.3h0.9M188.6,178.0h0.9M179.8,152.3h0.9M165.1,184.8h0.9M167.4,186.2h0.9M160.6,185.0h0.9M180.5,185.2h0.9M179.8,164.4h0.9M195.8,157.7h0.9M189.2,178.4h0.9M187.9,144.9h0.9M173.6,140.2h0.9M177.3,168.1h0.9M194.3,166.1h0.9M195.4,159.4h0.9M163.7,175.5h0.9M186.4,144.8h0.9M163.2,186.3h0.9M192.1,170.9h0.9M193.3,167.9h0.9M182.1,164.7h0.9M178.7,146.1h0.9M192.6,151.5h0.9M183.1,161.9h0.9M160.6,181.1h0.9M196.7,160.3h0.9M176.7,140.8h0.9M195.7,163.7h0.9M167.0,189.0h0.9M186.5,178.9h0.9M183.6,159.4h0.9M177.3,144.4h0.9M161.0,183.3h0.9M193.8,155.4h0.9M175.7,186.1h0.9M180.6,148.9h0.9M175.2,185.4h0.9M177.2,184.9h0.9M186.8,179.4h0.9M186.0,146.9h0.9M169.3,173.4h0.9M182.4,156.2h0.9M162.5,177.1h0.9M177.9,145.9h0.9M170.1,173.7h0.9M175.6,169.0h0.9M183.1,157.8h0.9M167.3,175.4h0.9M180.5,165.3h0.9M197.2,162.2h0.9M189.9,176.6h0.9M189.2,175.3h0.9M191.0,175.0h0.9M185.7,144.8h0.9M182.9,163.4h0.9M164.0,178.2h0.9M186.8,178.6h0.9M166.8,187.4h0.9M194.1,166.3h0.9M177.4,144.1h0.9M186.6,143.8h0.9M194.9,158.4h0.9M173.3,139.1h0.9M171.2,173.2h0.9M161.6,182.1h0.9M174.7,170.6h0.9M179.0,185.9h0.9M163.1,179.4h0.9M168.2,188.3h0.9M173.1,185.6h0.9M181.8,158.6h0.9M162.5,183.8h0.9M160.8,179.0h0.9M188.7,175.7h0.9M192.6,149.9h0.9M175.2,171.5h0.9M193.5,156.1h0.9M177.3,169.2h0.9M163.9,175.3h0.9M189.6,175.7h0.9M190.4,149.2h0.9M163.5,177.8h0.9M192.6,151.6h0.9M188.1,180.8h0.9M193.6,160.8h0.9M187.4,179.3h0.9M181.2,150.0h0.9M187.9,179.5h0.9M159.4,180.5h0.9M194.6,155.3h0.9M194.9,164.5h0.9M195.6,161.9h0.9M185.2,144.2h0.9M167.8,175.1h0.9M181.5,165.5h0.9M183.1,156.9h0.9M174.9,172.0h0.9M196.4,164.3h0.9M197.1,159.0h0.9M169.6,187.5h0.9M163.5,180.2h0.9M191.5,150.0h0.9M160.6,183.1h0.9M162.9,178.8h0.9M178.0,147.1h0.9M188.8,179.5h0.9M160.1,184.2h0.9M167.4,184.9h0.9M163.3,184.5h0.9M193.6,169.7h0.9M183.4,183.1h0.9M190.2,175.2h0.9M173.8,139.3h0.9M162.9,181.7h0.9M184.8,142.1h0.9M174.5,187.3h0.9M182.6,142.1h0.9M194.2,156.6h0.9M186.3,183.5h0.9M182.5,158.2h0.9M171.9,172.3h0.9M160.8,182.6h0.9M182.1,166.6h0.9" stroke="#e5f5e0" stroke-width="0.9" fill="none"/>
<polyline points="121.7,80.5 123,90 125,104 127,116 128.5,126" fill="none" stroke="#e34a33" stroke-width="1.4" stroke-dasharray="1.6,0.8"/>
<polygon points="133.3,98.7 137.3,95.2 140.2,97.1 141.0,109.3 144.2,122.6 149.5,130.6 155.1,137.3 149.2,141.8 141.3,142.9 133.3,141.8 125.3,144.5 119.4,147.1 122.6,136.0 125.3,125.3 129.3,112.0" fill="#e8402c" />
<path d="M133.6,141.2h0.9M124.0,129.9h0.9M131.4,104.3h0.9M143.4,142.0h0.9M124.8,124.8h0.9M130.5,107.6h0.9M151.2,139.2h0.9M124.5,131.1h0.9M125.6,126.1h0.9M126.6,143.5h0.9M151.4,137.1h0.9M146.3,127.9h0.9M147.9,128.5h0.9M128.7,109.5h0.9M131.0,105.8h0.9M128.3,142.6h0.9M154.2,135.7h0.9M132.0,142.7h0.9M140.1,95.5h0.9M154.3,134.0h0.9M139.1,95.6h0.9M153.5,134.4h0.9M153.9,136.4h0.9M126.8,143.5h0.9M153.6,135.1h0.9M154.8,135.6h0.9M140.5,102.0h0.9M139.4,142.9h0.9M140.7,102.6h0.9M120.7,142.9h0.9M142.6,114.6h0.9M142.9,113.8h0.9M138.1,97.5h0.9M139.9,96.4h0.9M120.2,147.4h0.9M138.4,96.4h0.9M122.0,142.2h0.9M129.4,112.2h0.9M145.7,123.6h0.9M122.4,136.1h0.9M127.8,114.4h0.9M141.3,96.5h0.9M122.0,145.3h0.9M137.0,94.7h0.9M123.5,144.9h0.9M139.1,144.2h0.9M143.2,140.7h0.9M140.4,108.2h0.9M126.9,144.6h0.9M136.7,95.8h0.9M120.9,139.6h0.9M130.3,144.5h0.9M130.0,108.6h0.9M137.2,96.9h0.9M127.9,143.0h0.9M141.4,141.3h0.9M126.3,124.3h0.9M148.4,141.8h0.9M139.0,95.2h0.9M141.3,103.8h0.9M118.5,143.6h0.9M131.7,105.0h0.9M135.7,140.5h0.9M124.1,129.4h0.9M125.2,129.3h0.9M133.3,96.7h0.9M148.1,125.9h0.9M145.2,119.0h0.9M140.2,143.5h0.9M133.3,97.8h0.9M121.8,145.0h0.9M132.5,101.1h0.9M134.7,139.3h0.9M125.8,118.4h0.9M126.6,116.8h0.9M128.8,120.5h0.9M122.7,139.6h0.9M123.1,129.3h0.9M154.1,136.4h0.9M142.5,115.8h0.9M149.1,139.8h0.9M144.7,140.6h0.9M138.4,95.7h0.9M129.2,112.5h0.9M133.8,97.0h0.9M137.3,96.5h0.9M150.1,131.4h0.9M125.3,124.0h0.9M139.4,94.4h0.9M142.4,118.2h0.9M152.2,140.7h0.9M151.1,141.3h0.9M150.1,133.1h0.9M122.8,145.6h0.9M142.6,123.2h0.9M142.6,143.7h0.9M133.5,141.3h0.9M127.6,115.8h0.9M130.5,142.1h0.9M129.6,109.7h0.9M146.6,143.9h0.9M143.3,120.7h0.9M151.9,133.7h0.9M125.0,130.7h0.9M140.2,99.9h0.9M130.0,106.6h0.9M124.4,145.2h0.9M138.4,142.1h0.9M123.2,129.2h0.9M153.5,135.0h0.9M143.2,118.8h0.9M134.4,95.0h0.9M133.3,97.7h0.9M138.9,103.8h0.9M147.9,141.4h0.9M124.3,144.9h0.9M138.4,95.8h0.9M125.9,143.3h0.9M149.8,130.3h0.9M154.2,134.1h0.9M138.0,142.2h0.9M125.7,128.8h0.9M121.7,145.6h0.9M149.8,140.4h0.9M130.4,108.9h0.9M139.2,96.2h0.9M135.1,142.3h0.9M138.9,143.3h0.9M127.0,144.0h0.9M134.4,142.7h0.9M126.0,144.8h0.9M138.6,96.4h0.9M142.8,117.7h0.9M144.3,123.4h0.9M134.1,142.8h0.9M119.7,142.4h0.9M147.9,128.0h0.9M150.3,142.7h0.9M129.9,142.6h0.9M141.5,112.6h0.9M148.8,132.0h0.9M122.1,145.3h0.9M130.2,106.8h0.9M134.4,98.8h0.9M144.3,140.8h0.9M141.2,143.1h0.9M145.0,122.3h0.9M141.0,113.5h0.9M142.0,102.7h0.9M140.2,106.3h0.9M139.3,94.2h0.9M140.8,99.1h0.9M141.1,142.8h0.9M140.0,110.7h0.9M130.0,111.1h0.9M134.4,97.9h0.9M146.1,142.9h0.9M128.6,115.1h0.9M126.6,122.0h0.9M122.5,142.6h0.9M125.9,124.7h0.9M140.2,142.8h0.9M133.6,142.1h0.9M121.4,138.0h0.9M142.1,113.5h0.9M147.1,124.1h0.9M144.7,126.2h0.9M133.0,103.8h0.9M131.7,142.3h0.9M150.1,131.2h0.9M123.6,137.0h0.9M150.6,132.9h0.9M138.2,141.6h0.9M121.1,145.1h0.9M142.2,117.3h0.9M123.1,146.0h0.9M124.9,130.0h0.9M136.9,95.7h0.9M126.1,145.0h0.9M118.9,141.8h0.9M127.4,142.0h0.9M153.1,135.7h0.9M147.5,127.7h0.9M139.5,104.0h0.9M143.9,125.1h0.9M142.7,112.0h0.9M138.3,142.4h0.9M120.5,141.9h0.9M150.1,128.7h0.9M147.4,125.8h0.9M138.5,98.0h0.9M121.7,147.3h0.9M146.1,126.3h0.9M124.7,125.9h0.9M120.3,146.5h0.9M135.9,140.9h0.9M147.7,127.4h0.9M140.0,94.5h0.9M153.9,136.8h0.9M124.2,129.1h0.9M135.3,142.1h0.9M119.1,145.4h0.9M121.7,138.4h0.9M123.8,132.3h0.9M134.1,99.2h0.9M121.6,138.8h0.9M139.8,141.9h0.9M149.0,141.9h0.9M131.9,104.5h0.9M125.6,145.6h0.9M124.3,134.1h0.9M121.6,147.0h0.9M131.5,106.7h0.9M130.7,141.9h0.9M128.2,112.4h0.9M136.5,98.5h0.9M152.1,134.0h0.9M140.8,108.6h0.9M123.3,144.9h0.9M142.2,110.3h0.9M121.3,139.5h0.9M122.9,131.9h0.9M124.1,127.6h0.9M129.5,111.6h0.9M150.5,142.2h0.9M126.6,126.4h0.9M151.9,133.6h0.9" stroke="#e8402c" stroke-width="0.9" fill="none"/>
<polygon points="133.3,100.0 137.3,95.2 140.5,97.1 141.0,105.3 138.9,109.8 133.5,109.8" fill="#b2121b" />
<path d="M134.4,110.7h0.9M134.2,103.8h0.9M139.5,106.8h0.9M139.8,108.2h0.9M139.4,105.0h0.9M135.6,110.2h0.9M138.4,106.1h0.9M134.8,108.9h0.9M133.4,100.6h0.9M140.0,105.8h0.9M138.3,110.6h0.9M135.4,96.9h0.9M140.7,105.0h0.9M136.1,110.9h0.9M134.9,108.0h0.9M135.7,95.2h0.9M141.7,107.4h0.9M138.3,95.2h0.9M133.4,104.0h0.9M139.4,107.6h0.9M139.4,98.9h0.9M141.5,100.4h0.9M138.5,109.7h0.9M140.9,95.4h0.9M134.9,104.6h0.9M140.1,95.6h0.9M133.9,103.9h0.9M139.3,108.4h0.9M142.5,103.4h0.9M141.3,105.3h0.9M140.7,100.3h0.9M138.4,109.7h0.9M140.9,102.4h0.9M130.9,103.7h0.9M141.3,101.1h0.9M139.4,103.0h0.9M140.0,100.1h0.9M136.0,110.6h0.9M140.8,107.1h0.9M132.8,109.8h0.9M140.1,97.6h0.9M136.9,94.2h0.9M138.0,110.5h0.9M140.2,106.3h0.9M140.4,107.0h0.9M133.5,105.4h0.9M142.2,100.4h0.9M138.7,95.3h0.9M137.6,96.0h0.9M141.2,99.8h0.9M137.6,97.2h0.9M134.3,98.5h0.9M136.9,94.7h0.9M141.0,101.3h0.9M134.4,99.8h0.9M134.0,107.7h0.9M141.5,106.7h0.9M136.6,110.0h0.9M136.1,109.8h0.9M139.5,110.4h0.9M140.5,109.3h0.9" stroke="#b2121b" stroke-width="0.9" fill="none"/>
<polygon points="127.4,129.3 135.9,126.4 145.5,129.0 151.1,136.0 152.4,143.9 147.1,152.5 135.9,153.8 125.3,149.8 123.4,140.0" fill="#fdd5c4" />
<path d="M151.9,139.1h0.9M130.7,151.1h0.9M152.0,137.9h0.9M149.0,149.5h0.9M139.3,152.8h0.9M145.3,154.3h0.9M150.2,133.5h0.9M151.1,136.7h0.9M125.0,145.0h0.9M140.4,127.4h0.9M128.5,127.6h0.9M150.0,148.4h0.9M150.5,134.3h0.9M149.1,150.0h0.9M139.3,127.8h0.9M142.7,152.5h0.9M144.4,128.9h0.9M153.8,140.4h0.9M144.5,128.6h0.9M129.4,151.3h0.9M126.5,133.0h0.9M151.4,136.7h0.9M145.2,152.1h0.9M151.8,136.2h0.9M125.8,135.6h0.9M124.7,141.4h0.9M149.0,131.4h0.9M149.6,136.2h0.9M151.2,133.8h0.9M124.7,139.9h0.9M151.1,147.5h0.9M133.0,127.7h0.9M151.6,134.9h0.9M147.5,151.7h0.9M148.4,149.9h0.9M133.0,153.3h0.9M145.8,129.5h0.9M145.1,128.3h0.9M145.3,129.5h0.9M152.5,136.1h0.9M151.5,138.4h0.9M146.0,129.9h0.9M152.6,144.1h0.9M139.7,127.2h0.9M134.2,152.3h0.9M140.2,129.0h0.9M139.9,128.3h0.9M149.3,147.9h0.9M124.6,146.6h0.9M124.4,138.5h0.9M123.7,136.4h0.9M127.1,130.9h0.9M123.6,141.6h0.9M147.6,132.7h0.9M128.7,128.9h0.9M136.6,127.4h0.9M152.9,143.8h0.9M140.3,152.0h0.9M135.6,125.6h0.9M122.5,141.5h0.9M149.4,134.1h0.9M137.7,126.9h0.9M151.7,139.7h0.9M145.9,129.8h0.9M152.4,142.2h0.9M131.0,129.3h0.9M151.0,138.0h0.9M126.3,150.2h0.9M152.1,139.5h0.9M134.6,153.6h0.9M143.6,153.9h0.9M131.9,153.2h0.9M146.6,130.1h0.9M149.2,135.0h0.9M123.9,142.4h0.9M123.7,142.2h0.9M134.6,127.3h0.9M149.9,135.2h0.9M133.0,153.7h0.9M129.9,151.3h0.9M147.4,131.1h0.9M148.4,130.2h0.9M135.0,154.0h0.9M134.4,126.9h0.9M123.6,133.7h0.9M147.2,129.8h0.9M123.4,139.8h0.9M124.1,146.9h0.9M150.4,149.7h0.9M139.7,127.7h0.9M130.4,128.8h0.9M129.4,152.3h0.9M149.4,150.2h0.9M148.7,152.7h0.9M125.3,148.7h0.9M125.2,149.6h0.9M124.0,146.5h0.9M146.9,151.2h0.9M125.6,148.7h0.9M146.7,131.4h0.9M126.9,130.4h0.9M138.6,127.3h0.9M125.1,145.9h0.9M149.2,132.3h0.9M145.5,130.4h0.9M125.4,140.4h0.9M151.6,135.2h0.9M127.5,132.1h0.9M134.4,153.6h0.9M141.5,127.4h0.9M130.7,127.3h0.9M138.3,155.6h0.9M126.1,132.8h0.9M151.2,139.1h0.9M143.3,154.0h0.9M147.8,152.5h0.9M147.8,151.4h0.9M136.3,154.0h0.9M145.0,128.2h0.9M147.3,133.0h0.9M148.6,133.3h0.9M150.6,138.2h0.9M133.2,154.2h0.9M124.1,138.3h0.9M135.3,126.8h0.9M129.7,127.6h0.9M149.1,131.5h0.9M138.6,126.0h0.9M149.5,148.7h0.9M138.3,152.5h0.9M126.0,136.1h0.9M124.1,147.3h0.9M151.1,136.4h0.9M123.9,147.4h0.9M134.0,126.4h0.9M133.7,152.7h0.9M151.5,142.1h0.9M129.4,150.6h0.9M147.4,153.2h0.9M141.8,153.4h0.9M132.5,152.7h0.9M151.6,149.3h0.9M125.3,151.1h0.9M124.7,144.2h0.9" stroke="#fdd5c4" stroke-width="0.9" fill="none"/>
<polygon points="107.1,147.9 115.9,144.7 125.8,146.6 131.1,153.8 128.5,163.1 120.5,168.5 111.4,168.5 106.1,161.5 105.5,153.3" fill="#fcae91" />
<path d="M109.9,148.4h0.9M106.2,161.1h0.9M107.0,150.3h0.9M125.7,146.2h0.9M106.1,156.7h0.9M107.2,163.5h0.9M106.6,160.4h0.9M104.8,157.5h0.9M114.1,144.7h0.9M107.9,147.4h0.9M126.4,163.8h0.9M104.8,161.5h0.9M106.7,160.2h0.9M124.4,148.6h0.9M125.7,147.2h0.9M115.6,144.2h0.9M132.9,153.1h0.9M109.4,167.0h0.9M108.5,166.8h0.9M105.8,159.6h0.9M105.5,161.0h0.9M106.7,152.2h0.9M129.4,161.7h0.9M129.2,149.7h0.9M124.2,166.5h0.9M104.1,159.2h0.9M117.9,144.9h0.9M128.0,158.2h0.9M111.9,146.9h0.9M130.6,154.2h0.9M107.1,149.1h0.9M129.0,163.0h0.9M126.9,163.5h0.9M127.4,164.5h0.9M106.8,147.0h0.9M105.3,150.3h0.9M106.6,154.4h0.9M106.6,148.8h0.9M112.4,146.0h0.9M106.4,155.0h0.9M106.8,154.9h0.9M107.5,159.9h0.9M117.9,145.8h0.9M113.6,145.1h0.9M118.7,169.3h0.9M106.1,151.4h0.9M130.0,150.6h0.9M113.4,168.0h0.9M115.0,147.2h0.9M125.3,146.7h0.9M129.3,151.9h0.9M109.8,164.3h0.9M119.4,146.0h0.9M129.9,153.3h0.9M105.0,152.3h0.9M106.9,154.0h0.9M126.4,147.7h0.9M107.3,148.4h0.9M109.9,145.3h0.9M117.9,169.8h0.9M128.2,160.7h0.9M122.0,167.2h0.9M111.5,146.9h0.9M113.8,145.0h0.9M116.7,145.8h0.9M121.2,167.1h0.9M106.1,155.7h0.9M117.2,144.1h0.9M124.5,144.8h0.9M128.7,148.1h0.9M105.2,158.2h0.9M106.6,164.6h0.9M105.1,151.4h0.9M110.7,163.7h0.9M114.6,145.2h0.9M126.6,162.9h0.9M118.0,168.6h0.9M124.6,165.9h0.9M105.4,150.9h0.9M122.4,144.7h0.9M106.1,158.9h0.9M132.0,154.1h0.9M105.8,153.6h0.9M109.5,146.5h0.9M111.3,147.2h0.9M110.5,170.8h0.9M108.4,165.0h0.9M126.8,148.2h0.9M112.6,168.7h0.9M110.3,166.0h0.9M131.7,157.9h0.9M131.9,152.9h0.9M120.0,168.3h0.9M123.7,146.5h0.9M107.4,149.7h0.9M122.1,167.2h0.9M124.7,166.0h0.9M107.7,165.3h0.9M124.7,166.6h0.9M124.2,165.2h0.9M115.0,167.6h0.9M106.6,150.0h0.9M114.0,169.3h0.9M131.5,155.1h0.9M122.4,165.5h0.9M105.1,152.3h0.9M113.8,147.1h0.9M128.9,160.7h0.9M105.1,148.2h0.9M124.7,166.0h0.9M106.7,152.5h0.9M131.6,154.9h0.9M105.1,156.9h0.9M131.3,154.0h0.9M121.9,166.2h0.9M122.2,145.1h0.9M108.6,147.4h0.9M116.1,143.5h0.9M121.5,168.7h0.9M109.5,146.6h0.9M120.0,145.4h0.9M105.2,154.2h0.9M104.9,155.3h0.9M113.7,145.8h0.9M106.8,149.9h0.9M106.1,151.9h0.9" stroke="#fcae91" stroke-width="0.9" fill="none"/>
<polygon points="110.1,159.4 116.5,157.8 117.8,167.9 115.4,181.3 113.8,189.8 107.9,192.4 103.4,189.8 106.3,178.6 108.7,167.9" fill="#fb6a4a" />
<path d="M109.4,163.3h0.9M113.4,190.8h0.9M117.0,163.9h0.9M106.9,176.3h0.9M106.4,193.3h0.9M113.8,181.7h0.9M108.1,190.8h0.9M106.2,184.1h0.9M107.1,174.0h0.9M117.5,179.8h0.9M111.8,190.8h0.9M117.5,163.4h0.9M109.3,168.5h0.9M117.5,157.9h0.9M111.4,191.9h0.9M118.1,163.2h0.9M110.1,166.8h0.9M109.6,191.5h0.9M108.2,167.7h0.9M105.3,180.0h0.9M108.9,168.3h0.9M115.9,160.7h0.9M103.8,191.0h0.9M112.1,158.0h0.9M116.4,173.5h0.9M115.3,176.6h0.9M111.4,191.2h0.9M110.7,192.0h0.9M113.5,185.2h0.9M107.2,172.6h0.9M110.4,191.1h0.9M107.4,193.1h0.9M113.8,190.0h0.9M107.2,192.3h0.9M112.5,160.5h0.9M117.2,171.9h0.9M110.3,192.4h0.9M110.3,159.7h0.9M117.9,159.3h0.9M113.7,189.0h0.9M116.0,158.2h0.9M108.1,192.2h0.9M104.1,190.4h0.9M104.7,179.6h0.9M104.1,186.5h0.9M108.5,190.0h0.9M104.9,187.7h0.9M117.2,169.9h0.9M113.0,187.3h0.9M104.7,189.6h0.9M114.2,189.9h0.9M107.8,172.0h0.9M118.1,171.4h0.9M104.2,188.0h0.9M117.2,166.6h0.9M109.0,191.6h0.9M105.8,192.1h0.9M114.1,189.1h0.9M115.7,179.8h0.9M104.9,186.7h0.9M115.4,178.1h0.9M116.4,159.2h0.9M116.1,163.5h0.9M110.3,159.9h0.9M108.1,191.6h0.9M117.9,157.9h0.9M117.3,181.4h0.9M105.5,190.3h0.9M102.7,186.8h0.9M117.3,170.7h0.9M104.8,191.6h0.9M106.6,184.1h0.9M108.3,190.2h0.9M108.4,162.0h0.9M110.6,193.8h0.9M104.6,183.1h0.9M109.5,190.1h0.9M106.4,191.7h0.9M107.3,172.7h0.9M104.8,188.2h0.9M115.9,181.7h0.9M114.1,188.2h0.9M114.6,189.8h0.9M118.0,173.9h0.9M107.9,176.1h0.9M118.2,172.7h0.9M102.6,189.4h0.9M107.3,173.6h0.9M113.5,159.7h0.9M109.8,166.9h0.9M108.2,192.0h0.9M113.0,159.3h0.9M110.3,191.8h0.9M117.1,161.6h0.9M103.6,188.2h0.9M105.1,182.8h0.9M115.1,158.0h0.9M104.6,182.7h0.9M115.8,177.8h0.9M102.9,190.9h0.9M108.0,173.3h0.9M115.7,182.2h0.9M115.0,182.7h0.9M105.3,183.7h0.9M104.4,190.4h0.9M114.8,180.1h0.9M109.6,162.4h0.9M106.4,176.2h0.9M104.9,190.8h0.9M108.5,171.8h0.9M107.5,192.8h0.9M116.6,176.7h0.9M117.9,166.1h0.9M106.5,176.9h0.9M108.8,192.2h0.9M108.4,174.6h0.9M110.2,162.2h0.9M117.2,167.2h0.9M114.0,185.3h0.9M109.4,168.9h0.9M110.0,190.8h0.9M102.8,189.8h0.9M117.2,157.5h0.9M104.7,191.8h0.9M104.2,182.9h0.9M108.9,167.0h0.9M117.8,178.2h0.9M116.8,170.5h0.9M109.2,162.0h0.9M118.2,162.8h0.9" stroke="#fb6a4a" stroke-width="0.9" fill="none"/>
<polygon points="104.7,188.7 113.3,187.4 119.1,190.3 120.5,197.2 117.8,205.2 116.5,211.1 98.1,211.4 96.8,205.2 99.4,197.2" fill="#fc9272" />
<path d="M98.3,208.2h0.9M120.7,199.1h0.9M98.5,198.8h0.9M120.5,196.6h0.9M103.0,189.9h0.9M118.8,195.0h0.9M103.4,193.3h0.9M115.3,187.9h0.9M118.8,204.6h0.9M112.5,188.0h0.9M119.3,192.4h0.9M98.3,201.0h0.9M121.3,193.3h0.9M108.5,188.4h0.9M97.0,198.5h0.9M110.9,211.4h0.9M107.2,188.4h0.9M120.9,196.6h0.9M120.4,190.3h0.9M121.7,195.5h0.9M116.0,189.0h0.9M109.4,210.1h0.9M120.1,196.4h0.9M103.4,188.3h0.9M115.6,188.6h0.9M114.5,211.2h0.9M116.7,210.5h0.9M117.5,189.6h0.9M96.5,209.8h0.9M114.4,187.5h0.9M97.2,207.7h0.9M115.9,205.6h0.9M101.5,193.2h0.9M95.2,204.9h0.9M103.6,189.6h0.9M97.2,206.5h0.9M115.3,207.7h0.9M114.1,209.1h0.9M111.8,186.5h0.9M105.5,188.2h0.9M99.1,198.4h0.9M106.7,212.3h0.9M105.6,190.1h0.9M119.6,195.8h0.9M100.6,195.3h0.9M110.7,187.2h0.9M119.6,198.3h0.9M120.6,198.4h0.9M117.2,209.7h0.9M107.5,189.4h0.9M97.9,209.4h0.9M101.0,192.5h0.9M101.6,191.4h0.9M116.7,189.4h0.9M96.0,204.3h0.9M118.0,208.1h0.9M102.7,212.2h0.9M116.4,190.8h0.9M117.4,211.5h0.9M116.7,188.2h0.9M103.0,211.9h0.9M114.3,187.0h0.9M110.2,187.5h0.9M120.9,194.4h0.9M107.1,210.6h0.9M105.1,212.2h0.9M96.9,200.1h0.9M96.6,209.8h0.9M112.3,188.0h0.9M97.7,202.5h0.9M98.9,202.1h0.9M107.0,209.6h0.9M96.5,209.2h0.9M118.1,190.5h0.9M116.6,188.9h0.9M120.9,194.2h0.9M100.0,202.3h0.9M120.3,201.5h0.9M101.9,211.8h0.9M116.4,188.3h0.9M117.9,188.8h0.9M117.2,205.3h0.9M96.9,202.9h0.9M95.2,204.2h0.9M117.4,202.6h0.9M113.4,186.8h0.9M119.7,198.2h0.9M96.9,208.0h0.9M101.2,195.4h0.9M99.6,199.9h0.9M111.1,188.8h0.9M114.5,189.1h0.9M114.3,187.3h0.9M115.7,189.1h0.9M98.3,209.5h0.9M121.1,199.4h0.9M118.4,191.6h0.9M105.9,211.8h0.9M101.7,211.8h0.9M116.9,187.3h0.9M119.0,196.1h0.9M97.7,210.8h0.9M98.2,207.8h0.9M117.8,210.5h0.9M118.0,190.0h0.9M98.7,208.6h0.9M104.8,212.5h0.9M119.7,193.4h0.9M118.8,189.0h0.9M98.0,202.6h0.9M98.9,205.3h0.9M120.8,195.0h0.9M108.1,189.4h0.9M103.8,211.4h0.9M96.6,208.3h0.9M101.0,193.8h0.9M118.9,195.2h0.9M119.3,201.8h0.9M117.1,188.5h0.9M115.5,210.6h0.9M120.1,201.5h0.9M111.1,188.6h0.9M103.5,189.9h0.9M108.0,188.8h0.9M99.6,198.0h0.9M116.8,187.9h0.9M118.3,204.3h0.9" stroke="#fc9272" stroke-width="0.9" fill="none"/>
<polygon points="119.4,157.3 130.6,148.7 147.1,146.1 152.4,151.4 149.8,162.6 143.4,171.1 147.1,181.8 138.6,179.1 130.1,172.5 122.1,165.8" fill="#a1d99b" />
<path d="M149.5,148.5h0.9M145.3,177.8h0.9M126.7,153.5h0.9M130.4,171.5h0.9M120.2,163.1h0.9M145.9,181.4h0.9M145.0,148.3h0.9M121.5,163.9h0.9M145.6,146.5h0.9M151.2,154.4h0.9M122.8,165.2h0.9M133.8,175.2h0.9M143.6,176.2h0.9M128.9,172.3h0.9M125.8,169.3h0.9M150.8,156.2h0.9M132.6,175.2h0.9M143.8,180.8h0.9M150.5,148.5h0.9M141.4,170.0h0.9M138.4,179.3h0.9M148.9,165.4h0.9M136.5,176.5h0.9M147.5,146.4h0.9M131.0,175.1h0.9M143.0,182.4h0.9M151.7,152.1h0.9M150.9,151.0h0.9M131.6,147.4h0.9M150.5,154.4h0.9M125.2,168.5h0.9M143.1,147.0h0.9M139.0,147.7h0.9M149.7,148.4h0.9M132.6,173.0h0.9M134.1,148.1h0.9M122.6,164.3h0.9M143.6,170.9h0.9M149.3,164.5h0.9M128.6,171.4h0.9M119.9,159.8h0.9M125.3,169.8h0.9M120.8,158.3h0.9M137.3,178.9h0.9M149.1,147.1h0.9M145.8,145.6h0.9M148.2,146.6h0.9M133.6,175.8h0.9M150.9,151.3h0.9M124.5,166.6h0.9M124.2,152.9h0.9M119.7,158.8h0.9M148.2,147.5h0.9M143.9,181.2h0.9M150.4,160.1h0.9M129.8,170.7h0.9M149.5,162.9h0.9M146.8,180.5h0.9M153.0,152.8h0.9M142.1,180.0h0.9M120.1,164.1h0.9M131.2,173.5h0.9M145.3,181.2h0.9M147.3,147.1h0.9M121.0,163.3h0.9M146.6,177.9h0.9M149.0,149.4h0.9M138.6,178.9h0.9M124.2,152.6h0.9M147.3,167.5h0.9M151.6,149.0h0.9M141.2,148.0h0.9M141.0,147.3h0.9M148.7,163.1h0.9M122.8,153.7h0.9M148.1,146.3h0.9M145.5,181.0h0.9M123.9,167.5h0.9M127.4,169.3h0.9M119.5,156.6h0.9M147.0,146.7h0.9M121.9,155.3h0.9M137.8,146.9h0.9M152.2,158.1h0.9M146.4,180.1h0.9M145.1,177.6h0.9M149.7,157.9h0.9M148.5,180.2h0.9M145.1,175.1h0.9M127.5,151.2h0.9M120.6,161.6h0.9M143.9,170.6h0.9M122.8,168.5h0.9M123.0,164.2h0.9M149.5,160.8h0.9M144.8,146.9h0.9M126.8,169.3h0.9M131.1,173.5h0.9M142.3,147.4h0.9M146.7,148.9h0.9M118.6,155.4h0.9M152.4,150.2h0.9M145.0,178.9h0.9M153.6,150.0h0.9M151.8,151.5h0.9M137.9,175.5h0.9M135.1,176.4h0.9M149.7,163.8h0.9M149.3,147.8h0.9M143.9,176.7h0.9M145.7,176.1h0.9M149.0,162.9h0.9M146.9,178.3h0.9M136.0,176.7h0.9M128.0,151.3h0.9M131.6,173.6h0.9M150.4,161.4h0.9M146.8,146.3h0.9M128.9,150.1h0.9M152.7,155.0h0.9M143.7,172.7h0.9M120.2,166.3h0.9M149.5,148.6h0.9M143.2,170.8h0.9M146.8,146.2h0.9M122.8,156.4h0.9M151.7,154.1h0.9M144.8,169.3h0.9M142.5,175.3h0.9M126.9,170.5h0.9M149.6,166.2h0.9M144.7,168.1h0.9M144.7,175.3h0.9M146.7,178.1h0.9M144.3,169.1h0.9M121.8,154.9h0.9M143.8,146.5h0.9M126.8,169.4h0.9M121.8,166.2h0.9M120.3,156.5h0.9M120.0,158.5h0.9M120.1,156.6h0.9M135.7,177.3h0.9M141.3,180.0h0.9M141.9,180.8h0.9M139.6,179.7h0.9M120.4,164.2h0.9M125.0,151.4h0.9M129.5,174.7h0.9M151.5,159.6h0.9M118.6,158.8h0.9M149.0,163.0h0.9M140.4,179.6h0.9M143.9,170.0h0.9M141.4,179.6h0.9M145.2,168.3h0.9M122.6,166.4h0.9M130.3,148.1h0.9M134.2,177.7h0.9M133.0,173.7h0.9M137.8,148.3h0.9M130.0,150.4h0.9M119.4,157.0h0.9M142.7,179.7h0.9M135.9,147.0h0.9M152.1,152.5h0.9M148.8,165.3h0.9M151.9,153.2h0.9M126.9,170.8h0.9M144.5,171.6h0.9M133.4,175.9h0.9M142.9,147.0h0.9M127.0,167.9h0.9M143.9,172.6h0.9M149.0,149.3h0.9M126.9,154.1h0.9M136.2,175.6h0.9" stroke="#a1d99b" stroke-width="0.9" fill="none"/>
<polygon points="148.7,141.3 158.6,136.0 171.1,136.8 179.1,142.1 184.4,150.6 185.8,159.9 181.8,165.8 176.4,171.1 167.9,172.5 159.4,168.5 151.4,160.5 147.4,150.6" fill="#41ab5d" />
<path d="M182.5,145.1h0.9M184.5,158.6h0.9M175.6,171.8h0.9M173.6,138.8h0.9M164.5,135.6h0.9M162.4,171.5h0.9M149.6,158.5h0.9M169.7,171.5h0.9M173.6,171.8h0.9M162.3,137.1h0.9M161.8,136.3h0.9M163.6,170.6h0.9M148.0,152.3h0.9M182.0,145.6h0.9M173.8,138.1h0.9M185.7,158.6h0.9M184.0,152.3h0.9M152.3,161.6h0.9M150.1,157.0h0.9M168.1,172.8h0.9M180.1,167.5h0.9M168.6,172.4h0.9M184.3,149.6h0.9M173.6,171.5h0.9M185.2,149.7h0.9M171.7,172.1h0.9M148.1,146.9h0.9M180.6,148.0h0.9M184.7,151.6h0.9M180.3,166.3h0.9M177.2,170.1h0.9M165.8,172.4h0.9M148.6,153.8h0.9M180.3,166.3h0.9M157.3,135.5h0.9M174.4,171.4h0.9M147.6,147.0h0.9M185.2,162.0h0.9M157.6,135.9h0.9M183.2,148.3h0.9M153.5,163.1h0.9M183.8,164.7h0.9M163.4,171.4h0.9M166.4,135.9h0.9M157.3,164.9h0.9M149.1,154.3h0.9M182.9,166.0h0.9M160.4,169.3h0.9M168.2,172.1h0.9M156.0,164.7h0.9M147.6,152.8h0.9M178.2,170.4h0.9M177.6,172.4h0.9M182.5,163.1h0.9M148.6,156.0h0.9M172.4,172.2h0.9M149.0,153.0h0.9M158.3,165.6h0.9M152.1,161.2h0.9M156.1,165.1h0.9M151.6,158.9h0.9M183.9,153.6h0.9M180.5,144.7h0.9M181.2,144.9h0.9M176.0,140.2h0.9M171.1,171.6h0.9M161.6,168.4h0.9M152.6,161.6h0.9M146.6,142.9h0.9M183.0,163.0h0.9M167.8,174.6h0.9M180.4,142.4h0.9M149.6,149.2h0.9M165.1,135.1h0.9M157.1,167.8h0.9M161.2,137.1h0.9M151.7,138.8h0.9M166.9,171.6h0.9M176.6,170.1h0.9M148.5,151.7h0.9M181.4,165.4h0.9M183.2,152.0h0.9M183.1,146.0h0.9M151.2,139.9h0.9M151.2,140.2h0.9M156.1,168.7h0.9M149.0,141.2h0.9M171.2,134.8h0.9M153.4,138.5h0.9M170.6,171.2h0.9M184.9,161.6h0.9M172.7,138.6h0.9M181.0,169.0h0.9M172.7,138.1h0.9M171.7,171.2h0.9M158.0,135.4h0.9M149.2,142.5h0.9M149.3,140.4h0.9M159.6,136.0h0.9M147.8,148.0h0.9M171.1,171.9h0.9M170.2,136.9h0.9M148.0,145.0h0.9M184.9,156.6h0.9M184.8,152.8h0.9M151.9,160.3h0.9M184.6,152.7h0.9M160.6,136.7h0.9M175.7,140.4h0.9M179.7,144.4h0.9M181.0,167.2h0.9M151.3,161.0h0.9M184.7,152.6h0.9M185.4,159.4h0.9M182.7,162.1h0.9M179.7,168.9h0.9M184.2,161.0h0.9M151.6,157.3h0.9M155.4,163.1h0.9M185.6,153.3h0.9M159.0,169.3h0.9M180.7,146.0h0.9M150.9,158.5h0.9M184.3,149.5h0.9M179.5,139.9h0.9M185.9,156.4h0.9M155.4,165.4h0.9M170.1,136.9h0.9M152.9,137.5h0.9M161.5,170.7h0.9M178.6,169.0h0.9M184.4,149.7h0.9M162.8,170.4h0.9M147.9,141.7h0.9M164.2,136.3h0.9M175.5,171.4h0.9M160.9,137.1h0.9M160.6,137.0h0.9M179.0,170.0h0.9M172.7,138.6h0.9M160.0,135.2h0.9M149.3,154.5h0.9M179.2,146.0h0.9M173.7,137.5h0.9M162.6,169.0h0.9M182.9,162.4h0.9M167.6,135.5h0.9M161.5,136.3h0.9M154.2,139.5h0.9M185.3,151.1h0.9M157.9,169.6h0.9M159.2,167.6h0.9M184.8,149.9h0.9M177.0,141.6h0.9M169.2,172.5h0.9M182.7,165.1h0.9M174.1,172.1h0.9M150.8,159.6h0.9M147.9,149.1h0.9M179.7,166.8h0.9M146.6,148.1h0.9M173.7,139.0h0.9M165.8,174.0h0.9M174.8,171.7h0.9M182.7,163.9h0.9M180.2,141.8h0.9M148.2,152.0h0.9M177.4,170.5h0.9M166.9,171.8h0.9M174.8,139.9h0.9M177.7,141.5h0.9M184.1,162.5h0.9M170.9,137.4h0.9M154.1,138.6h0.9M155.4,137.3h0.9M159.0,169.1h0.9M153.5,162.7h0.9M152.2,162.1h0.9M185.1,163.1h0.9M173.0,172.1h0.9M148.2,150.9h0.9M146.5,149.8h0.9M182.8,164.7h0.9M146.8,150.1h0.9M154.4,137.1h0.9M158.2,138.1h0.9M173.8,137.5h0.9" stroke="#41ab5d" stroke-width="0.9" fill="none"/>
<polygon points="138.1,159.9 146.6,155.7 155.1,157.0 161.8,162.6 165.8,170.6 163.1,179.1 157.8,187.1 150.6,196.4 146.0,189.2 140.7,181.3 136.7,173.3 135.4,165.3" fill="#11773a" />
<path d="M148.6,194.2h0.9M164.2,174.3h0.9M142.2,184.1h0.9M148.2,195.9h0.9M165.0,178.8h0.9M139.3,179.2h0.9M142.8,159.1h0.9M150.3,196.4h0.9M154.9,157.1h0.9M135.3,164.0h0.9M136.2,159.1h0.9M158.9,188.6h0.9M157.6,159.8h0.9M142.8,183.5h0.9M162.1,164.3h0.9M164.1,166.3h0.9M155.4,158.1h0.9M136.9,175.2h0.9M162.1,181.4h0.9M137.3,160.7h0.9M136.8,158.9h0.9M154.9,192.6h0.9M163.9,172.3h0.9M156.7,157.8h0.9M155.9,158.3h0.9M156.8,158.8h0.9M144.8,187.1h0.9M148.1,193.2h0.9M138.4,159.1h0.9M136.1,170.5h0.9M147.9,193.8h0.9M135.6,171.0h0.9M137.4,173.3h0.9M143.8,156.4h0.9M151.1,155.6h0.9M139.5,159.9h0.9M142.1,157.5h0.9M162.5,178.3h0.9M156.7,191.9h0.9M138.9,177.1h0.9M153.6,192.6h0.9M160.2,160.3h0.9M141.6,159.0h0.9M148.4,155.5h0.9M162.1,178.4h0.9M136.2,165.0h0.9M147.1,191.4h0.9M165.3,167.6h0.9M157.1,156.4h0.9M153.6,195.0h0.9M157.7,159.2h0.9M156.6,159.8h0.9M163.5,178.5h0.9M136.2,160.1h0.9M136.1,172.8h0.9M158.4,158.8h0.9M166.5,170.8h0.9M160.0,182.2h0.9M151.7,196.6h0.9M152.0,157.7h0.9M150.2,193.7h0.9M154.1,195.9h0.9M148.7,156.6h0.9M139.6,159.2h0.9M145.8,188.5h0.9M145.3,156.8h0.9M134.2,166.7h0.9M137.4,172.9h0.9M155.6,156.6h0.9M163.0,177.8h0.9M166.2,171.9h0.9M136.8,173.5h0.9M140.8,157.9h0.9M154.7,158.1h0.9M153.9,193.2h0.9M145.6,189.0h0.9M161.3,161.6h0.9M135.8,162.7h0.9M166.4,169.5h0.9M143.0,158.0h0.9M160.8,182.3h0.9M151.7,196.7h0.9M155.4,156.9h0.9M164.3,172.1h0.9M161.8,163.5h0.9M152.9,194.9h0.9M136.1,166.0h0.9M136.6,172.3h0.9M135.5,164.0h0.9M157.8,157.6h0.9M162.9,180.4h0.9M162.6,162.8h0.9M144.0,184.1h0.9M141.3,181.2h0.9M154.7,191.6h0.9M148.0,191.1h0.9M144.7,185.7h0.9M137.9,157.8h0.9M139.1,176.3h0.9M156.8,157.8h0.9M142.8,156.8h0.9M146.0,190.1h0.9M164.7,174.8h0.9M164.6,175.8h0.9M166.4,170.2h0.9M145.4,152.9h0.9M151.7,194.0h0.9M164.1,178.5h0.9M162.2,181.1h0.9M153.0,192.7h0.9M137.1,159.6h0.9M149.2,156.2h0.9M150.9,154.6h0.9M136.9,168.2h0.9M158.2,158.7h0.9M157.6,186.8h0.9M136.8,172.5h0.9M165.4,172.9h0.9M156.1,157.7h0.9M153.9,158.5h0.9M165.0,174.9h0.9M163.6,179.9h0.9M162.5,163.9h0.9M155.6,186.2h0.9M141.4,159.6h0.9M157.7,187.3h0.9M152.4,192.7h0.9M164.0,175.9h0.9M152.8,196.5h0.9M138.9,175.6h0.9M163.7,174.0h0.9M143.5,185.2h0.9M159.5,180.6h0.9M163.7,179.6h0.9M139.6,179.4h0.9M162.6,165.4h0.9M164.0,179.4h0.9M146.6,192.6h0.9M145.7,157.6h0.9M141.1,180.2h0.9M160.3,160.8h0.9M160.9,183.8h0.9M161.9,162.7h0.9M156.1,159.3h0.9M157.8,186.6h0.9M145.9,155.5h0.9M139.0,178.9h0.9M160.7,183.7h0.9M135.9,165.4h0.9M147.0,156.7h0.9M139.3,178.8h0.9M160.4,164.5h0.9M165.5,173.0h0.9M148.4,154.9h0.9M151.0,194.3h0.9M138.6,175.3h0.9M136.6,169.2h0.9M141.1,156.9h0.9M163.8,169.0h0.9M147.5,155.4h0.9M154.8,158.2h0.9M147.6,190.6h0.9M151.6,157.6h0.9M157.6,186.7h0.9M136.3,175.0h0.9M161.6,163.9h0.9M163.7,176.7h0.9M137.9,172.0h0.9M163.9,167.5h0.9M156.7,187.7h0.9M152.2,193.0h0.9" stroke="#11773a" stroke-width="0.9" fill="none"/>
<polygon points="127.7,179.9 133.5,178.9 135.7,185.2 134.1,194.6 132.2,201.8 129.8,197.5 130.3,189.2 128.2,183.9" fill="#dfc27d" />
<path d="M130.9,180.6h0.9M132.8,179.2h0.9M130.4,198.2h0.9M133.5,194.8h0.9M129.6,181.0h0.9M128.1,179.1h0.9M134.5,179.6h0.9M129.6,178.8h0.9M129.0,198.0h0.9M130.3,179.8h0.9M129.5,186.8h0.9M134.4,182.0h0.9M128.5,187.9h0.9M130.7,203.5h0.9M129.8,189.8h0.9M128.3,187.6h0.9M136.2,188.5h0.9M126.8,179.5h0.9M131.9,178.8h0.9M130.0,187.6h0.9M129.0,186.3h0.9M135.0,195.0h0.9M129.6,184.0h0.9M134.2,195.6h0.9M134.3,180.2h0.9M130.7,178.7h0.9M136.5,182.3h0.9M129.3,181.9h0.9M133.4,194.0h0.9M133.4,179.0h0.9M127.6,183.9h0.9M127.3,180.3h0.9M133.2,196.4h0.9M133.0,194.6h0.9M130.0,194.0h0.9M134.3,180.4h0.9M128.2,181.5h0.9M128.1,182.0h0.9M131.9,178.9h0.9M130.7,179.0h0.9M131.5,198.1h0.9M136.7,185.7h0.9M129.4,198.0h0.9M133.0,196.8h0.9M132.3,193.0h0.9M132.2,201.9h0.9M134.0,184.0h0.9M135.5,186.5h0.9M130.9,201.8h0.9M129.2,187.9h0.9M133.7,182.1h0.9M128.1,180.1h0.9M129.9,186.4h0.9M128.8,189.2h0.9M127.0,185.0h0.9M127.7,182.1h0.9M130.3,188.3h0.9M128.1,182.9h0.9M136.5,188.3h0.9M130.8,200.2h0.9M130.2,177.8h0.9M129.7,198.5h0.9M130.2,194.0h0.9M131.7,179.9h0.9M136.2,183.0h0.9M129.5,200.0h0.9M131.1,190.9h0.9M131.1,197.1h0.9M132.4,201.9h0.9M130.1,178.7h0.9M129.7,188.3h0.9M129.1,185.2h0.9M131.9,199.3h0.9M128.7,186.0h0.9M132.2,200.8h0.9M131.0,191.4h0.9M135.7,182.6h0.9M134.4,186.5h0.9M126.9,183.2h0.9M128.1,185.0h0.9M130.3,194.9h0.9M130.4,197.2h0.9M130.5,188.3h0.9M134.6,197.2h0.9" stroke="#dfc27d" stroke-width="0.9" fill="none"/>
<path d="M148.8,133.7h0.9M135.9,145.9h0.9M135.0,128.7h0.9M135.2,145.0h0.9M135.6,146.1h0.9M128.4,136.1h0.9M146.3,149.5h0.9M131.7,128.4h0.9M130.1,147.5h0.9M145.1,130.3h0.9M133.1,137.9h0.9M137.6,135.9h0.9M124.7,137.1h0.9M139.2,151.5h0.9M135.3,132.0h0.9M129.5,138.8h0.9M132.5,147.0h0.9M124.3,140.6h0.9M129.6,129.2h0.9M127.0,136.6h0.9M130.7,133.0h0.9M134.8,131.6h0.9M145.0,139.5h0.9M141.4,138.2h0.9M129.7,130.2h0.9M128.1,137.0h0.9M137.4,127.3h0.9M135.6,132.7h0.9M143.4,152.1h0.9M135.9,128.1h0.9M140.0,142.6h0.9M135.5,141.8h0.9M147.7,132.9h0.9M133.9,146.9h0.9M125.3,145.2h0.9M128.4,134.1h0.9M146.8,147.5h0.9M135.4,146.7h0.9M128.5,143.0h0.9M139.7,152.0h0.9M148.4,140.7h0.9M130.4,131.2h0.9M131.3,141.8h0.9M143.5,149.9h0.9M136.5,144.7h0.9M148.3,139.9h0.9M142.5,132.4h0.9M131.9,137.3h0.9M142.9,130.2h0.9M146.3,134.4h0.9M124.4,137.5h0.9M129.0,133.0h0.9M125.6,139.6h0.9M138.2,132.7h0.9M144.1,151.8h0.9M128.0,133.5h0.9M129.2,137.9h0.9M135.9,136.0h0.9M139.5,151.3h0.9M140.0,129.7h0.9M138.0,141.1h0.9M137.9,133.4h0.9M134.5,135.3h0.9M136.3,136.0h0.9M130.6,141.6h0.9M141.9,137.0h0.9M133.8,149.6h0.9M138.4,132.8h0.9M127.4,139.7h0.9M143.0,136.8h0.9M142.7,146.1h0.9M141.9,148.5h0.9M127.1,144.3h0.9M132.9,152.5h0.9M139.2,153.1h0.9M146.6,141.0h0.9M132.7,133.7h0.9M131.1,129.2h0.9M142.5,130.2h0.9M150.9,140.6h0.9M141.4,132.3h0.9M135.3,138.1h0.9M150.9,141.8h0.9M139.4,138.2h0.9M136.9,138.7h0.9M138.5,142.0h0.9M146.7,147.6h0.9M133.5,132.2h0.9M145.2,140.9h0.9M130.8,133.2h0.9" stroke="#e8402c" stroke-width="0.9" fill="none"/>
<path d="M129.5,129.9h0.9M141.5,112.6h0.9M141.6,113.5h0.9M132.3,132.3h0.9M138.0,114.1h0.9M143.5,136.6h0.9M129.5,136.0h0.9M138.7,139.6h0.9M153.4,136.6h0.9M126.9,130.1h0.9M140.8,130.1h0.9M141.9,137.2h0.9M136.2,124.7h0.9M137.7,117.0h0.9M149.3,131.4h0.9M133.6,122.8h0.9M134.8,121.4h0.9M135.3,129.0h0.9M134.2,132.4h0.9M138.1,137.8h0.9M128.4,128.4h0.9M140.2,136.1h0.9M132.0,132.5h0.9M141.5,139.9h0.9M151.5,137.9h0.9M141.4,119.2h0.9M134.7,121.2h0.9M151.0,133.2h0.9M148.2,131.8h0.9M140.6,134.3h0.9M134.0,141.4h0.9M128.8,124.3h0.9M130.1,132.2h0.9M137.4,123.0h0.9M147.8,133.6h0.9M126.3,130.5h0.9M129.4,119.5h0.9M151.5,139.3h0.9M142.8,129.2h0.9M141.1,125.9h0.9" stroke="#fdd5c4" stroke-width="0.9" fill="none"/>
<path d="M145.1,130.5h0.7M133.2,110.7h0.7M140.9,112.8h0.7M137.4,125.2h0.7M146.7,127.4h0.7M137.3,130.0h0.7M142.2,128.6h0.7M140.1,127.5h0.7M139.8,122.8h0.7M136.8,112.0h0.7M143.5,123.4h0.7M143.1,128.8h0.7M134.6,118.6h0.7M135.7,124.4h0.7M131.0,123.6h0.7M131.1,119.6h0.7M139.5,109.7h0.7M140.0,132.1h0.7M132.6,121.6h0.7M138.1,111.4h0.7M131.7,124.4h0.7M136.9,123.5h0.7M134.5,117.5h0.7M132.9,127.0h0.7M147.8,131.1h0.7" stroke="#ffffff" stroke-width="0.7" fill="none"/>
<path d="M113.4,147.6h0.9M115.7,162.3h0.9M122.1,167.3h0.9M123.0,146.1h0.9M116.7,145.1h0.9M127.0,162.6h0.9M108.5,155.6h0.9M125.8,153.1h0.9M119.3,145.6h0.9M119.2,145.4h0.9M117.2,168.1h0.9M122.2,155.1h0.9M124.6,151.1h0.9M119.0,158.6h0.9M114.9,159.9h0.9M112.2,163.1h0.9M121.3,164.0h0.9M116.2,159.9h0.9M112.6,154.4h0.9M110.7,155.8h0.9M116.7,146.0h0.9M105.9,155.6h0.9M121.0,147.1h0.9M110.7,152.4h0.9M117.7,147.0h0.9M125.2,160.9h0.9M126.8,159.0h0.9M117.2,157.4h0.9M110.5,165.5h0.9M107.8,157.7h0.9M117.0,164.2h0.9M116.9,157.7h0.9M123.3,151.1h0.9M110.4,160.6h0.9M111.4,149.5h0.9M111.2,150.4h0.9M117.3,159.2h0.9M110.6,158.2h0.9M113.0,159.7h0.9M123.2,161.6h0.9M121.2,156.5h0.9M109.1,148.1h0.9M112.7,165.3h0.9M111.8,149.9h0.9M113.5,145.7h0.9M125.7,159.8h0.9M111.6,154.4h0.9M121.7,166.4h0.9M122.0,157.9h0.9M108.4,159.2h0.9" stroke="#e8402c" stroke-width="0.9" fill="none"/>
<path d="M113.2,146.9h0.9M110.8,166.8h0.9M122.5,150.6h0.9M119.9,160.9h0.9M119.3,166.8h0.9M111.8,154.0h0.9M128.0,153.4h0.9M116.4,162.1h0.9M112.4,162.8h0.9M121.1,165.7h0.9M122.7,150.6h0.9M129.7,156.7h0.9M106.4,153.4h0.9M106.8,157.6h0.9M123.1,161.2h0.9M108.2,161.4h0.9M129.3,152.5h0.9M114.1,153.6h0.9M125.8,158.8h0.9M110.2,165.7h0.9M119.2,162.8h0.9M118.4,166.3h0.9M126.3,158.8h0.9M106.6,151.9h0.9M112.9,154.3h0.9M116.9,160.6h0.9M118.9,166.3h0.9M107.6,155.5h0.9M107.9,157.2h0.9M120.5,157.0h0.9M110.4,165.8h0.9M122.1,159.5h0.9M109.3,163.3h0.9M124.1,165.6h0.9M113.7,147.4h0.9M126.3,160.7h0.9M111.3,160.4h0.9M113.3,149.0h0.9M128.5,158.8h0.9M123.0,148.7h0.9" stroke="#fdd5c4" stroke-width="0.9" fill="none"/>
<path d="M170.0,170.0h0.9M154.5,151.0h0.9M176.4,161.1h0.9M154.3,155.9h0.9M172.4,140.5h0.9M176.6,168.4h0.9M159.9,142.0h0.9M156.1,164.6h0.9M161.7,161.9h0.9M165.9,158.1h0.9M158.7,141.7h0.9M154.9,153.3h0.9M173.1,138.1h0.9M169.2,139.5h0.9M153.3,150.7h0.9M180.9,157.2h0.9M149.6,154.0h0.9M173.4,158.5h0.9M176.0,146.7h0.9M167.0,155.8h0.9M154.5,153.7h0.9M180.2,162.1h0.9M182.1,150.5h0.9M160.8,141.9h0.9M179.1,167.4h0.9M174.5,170.2h0.9M161.4,139.5h0.9M176.8,156.0h0.9M160.8,164.1h0.9M167.3,155.6h0.9M174.9,142.3h0.9M151.9,146.9h0.9M171.7,152.1h0.9M173.2,141.3h0.9M177.6,159.2h0.9M168.8,147.7h0.9M160.4,145.7h0.9M177.0,150.3h0.9M151.7,150.7h0.9M159.7,149.2h0.9M161.1,155.1h0.9M163.0,147.4h0.9M159.3,138.6h0.9M161.2,166.1h0.9M165.6,142.1h0.9M169.9,151.2h0.9M164.5,160.6h0.9M176.4,162.7h0.9M170.6,157.5h0.9M155.8,159.5h0.9M181.9,159.9h0.9M175.2,168.7h0.9M172.5,142.3h0.9M175.3,143.8h0.9M179.3,146.4h0.9M176.4,169.3h0.9M180.1,166.6h0.9M177.9,165.2h0.9M178.1,153.2h0.9M176.7,164.2h0.9M154.5,142.1h0.9M182.0,160.1h0.9M158.4,163.6h0.9M166.4,161.2h0.9M165.1,168.8h0.9M177.3,155.9h0.9M149.5,148.3h0.9M178.9,152.1h0.9M153.8,154.1h0.9M151.4,139.9h0.9M164.8,165.4h0.9M176.5,162.1h0.9M160.0,156.8h0.9M172.6,143.6h0.9M173.3,150.8h0.9M154.9,147.9h0.9M172.1,162.3h0.9M158.2,141.9h0.9M162.2,169.3h0.9M167.0,161.4h0.9M167.5,157.7h0.9M157.5,162.2h0.9M152.5,158.8h0.9M178.5,159.6h0.9M156.3,152.6h0.9M184.1,150.5h0.9M156.4,146.6h0.9M159.1,137.3h0.9M170.1,154.4h0.9M155.3,162.4h0.9M157.2,161.5h0.9M161.7,154.2h0.9M157.7,140.1h0.9M178.2,144.9h0.9M157.8,139.9h0.9M170.3,145.4h0.9M162.8,157.2h0.9M160.3,149.2h0.9M167.8,157.7h0.9M165.0,149.6h0.9M163.4,154.5h0.9M166.3,155.2h0.9M158.8,155.9h0.9M175.7,153.5h0.9M176.9,164.1h0.9M163.0,157.3h0.9M176.9,148.4h0.9M176.9,167.8h0.9M163.4,138.0h0.9M157.7,159.6h0.9" stroke="#238b45" stroke-width="0.9" fill="none"/>
<path d="M181.2,160.3h0.7M173.8,158.0h0.7M162.8,164.2h0.7M180.5,158.2h0.7M170.4,149.5h0.7M173.6,161.3h0.7M161.8,154.7h0.7M167.0,139.2h0.7M174.1,151.0h0.7M171.8,162.9h0.7M158.1,160.5h0.7M171.0,153.3h0.7M170.2,170.4h0.7M160.4,141.5h0.7M174.3,147.9h0.7M179.2,166.7h0.7M152.1,151.9h0.7M168.8,137.6h0.7M179.4,153.1h0.7M161.7,149.5h0.7M151.3,148.7h0.7M176.5,159.6h0.7M152.9,139.5h0.7M169.4,168.9h0.7M168.2,147.7h0.7M157.0,160.1h0.7M168.7,157.6h0.7M167.1,156.6h0.7M175.4,148.4h0.7M162.5,155.4h0.7M165.1,160.4h0.7M162.9,154.9h0.7M153.9,150.5h0.7M177.8,164.7h0.7M178.5,145.4h0.7M167.6,158.9h0.7M171.0,161.8h0.7M163.4,167.2h0.7M175.1,150.8h0.7M180.7,153.1h0.7M163.2,137.1h0.7M153.3,138.9h0.7M170.2,163.5h0.7M170.1,139.8h0.7M166.0,150.2h0.7M182.6,160.1h0.7M152.2,158.6h0.7M178.5,162.4h0.7M156.0,151.8h0.7M148.8,145.2h0.7M171.3,140.8h0.7M151.1,148.2h0.7M165.4,147.7h0.7M151.0,140.1h0.7M173.0,148.9h0.7M163.9,163.2h0.7M156.0,147.4h0.7M179.0,153.2h0.7M171.2,168.5h0.7M174.7,153.6h0.7M149.6,146.9h0.7M157.0,159.3h0.7M177.1,169.8h0.7M148.9,151.0h0.7M170.5,164.1h0.7M176.1,142.7h0.7M163.0,157.5h0.7M160.7,161.5h0.7M158.5,143.0h0.7M166.0,150.2h0.7" stroke="#ffffff" stroke-width="0.7" fill="none"/>
<path d="M160.9,168.5h0.8M176.6,144.6h0.8M181.8,150.8h0.8M160.8,162.8h0.8M170.2,148.0h0.8M162.6,150.6h0.8M164.9,152.6h0.8M180.7,160.4h0.8M177.8,152.2h0.8M158.7,145.1h0.8" stroke="#e8402c" stroke-width="0.8" fill="none"/>
<path d="M142.7,165.6h0.9M151.0,195.6h0.9M152.8,177.3h0.9M143.8,171.8h0.9M140.0,174.6h0.9M154.7,186.4h0.9M141.9,171.1h0.9M159.1,166.3h0.9M153.7,172.0h0.9M138.0,169.9h0.9M147.5,191.4h0.9M153.6,192.2h0.9M158.7,167.8h0.9M158.9,172.7h0.9M151.1,184.4h0.9M151.2,192.1h0.9M149.0,162.7h0.9M147.2,181.2h0.9M146.9,180.8h0.9M160.7,174.7h0.9M141.2,179.5h0.9M148.8,168.4h0.9M144.2,158.9h0.9M149.7,168.3h0.9M158.8,160.3h0.9M150.2,161.8h0.9M145.2,181.5h0.9M143.0,161.9h0.9M158.0,164.1h0.9M158.3,173.9h0.9M155.2,164.8h0.9M140.9,173.1h0.9M142.0,160.8h0.9M146.5,161.1h0.9M155.9,164.8h0.9M140.0,172.9h0.9M157.5,176.9h0.9M148.6,167.6h0.9M150.6,176.5h0.9M147.6,170.2h0.9M160.2,163.0h0.9M144.0,166.4h0.9M148.4,173.4h0.9M154.3,172.7h0.9M153.5,191.7h0.9M143.1,168.5h0.9M148.7,180.6h0.9M141.5,176.9h0.9M159.8,172.7h0.9M159.2,181.7h0.9M162.6,172.9h0.9M152.0,166.8h0.9M139.1,177.5h0.9M138.8,170.9h0.9M147.8,191.5h0.9M139.8,165.9h0.9M147.9,156.4h0.9M147.4,169.5h0.9M150.7,181.0h0.9M146.1,171.4h0.9M140.6,164.6h0.9M149.9,182.0h0.9M149.9,177.3h0.9M153.9,164.0h0.9M153.1,171.8h0.9M157.1,161.3h0.9M147.8,156.1h0.9M146.4,183.4h0.9M150.5,187.4h0.9M152.5,173.6h0.9M154.5,165.3h0.9M153.6,188.2h0.9M143.8,176.2h0.9M161.1,170.7h0.9M159.5,161.9h0.9M146.9,164.8h0.9M140.2,179.8h0.9M157.6,186.0h0.9M161.8,178.7h0.9M155.8,180.8h0.9M140.8,167.1h0.9M159.6,169.6h0.9M144.1,169.6h0.9M160.4,170.6h0.9M155.9,186.2h0.9M154.3,158.7h0.9M138.7,175.7h0.9M152.7,164.5h0.9M158.4,182.4h0.9M158.5,167.7h0.9" stroke="#41ab5d" stroke-width="0.9" fill="none"/>
<path d="M139.4,162.3h0.7M146.4,181.2h0.7M138.6,161.2h0.7M149.3,172.4h0.7M144.6,183.0h0.7M141.8,165.2h0.7M146.8,183.8h0.7M146.7,161.6h0.7M146.0,170.2h0.7M155.6,168.8h0.7M157.6,167.8h0.7M149.9,182.8h0.7M140.8,174.0h0.7M152.6,186.8h0.7M156.8,159.6h0.7M149.3,173.9h0.7M146.1,176.8h0.7M144.5,162.1h0.7M154.1,172.3h0.7M161.8,165.6h0.7M146.5,166.2h0.7M145.4,165.1h0.7M142.6,158.3h0.7M149.1,178.8h0.7M155.5,188.6h0.7M147.3,157.0h0.7M148.6,185.1h0.7M145.9,183.9h0.7M141.2,159.2h0.7M161.3,179.3h0.7M156.6,159.6h0.7M154.0,176.2h0.7M151.8,181.7h0.7M159.7,171.0h0.7M152.7,161.1h0.7M137.3,166.7h0.7M146.8,159.9h0.7M153.4,160.3h0.7M146.4,170.1h0.7M150.9,195.4h0.7M154.7,188.7h0.7M142.6,162.3h0.7M156.0,162.2h0.7M153.0,168.7h0.7M140.1,163.7h0.7M138.3,171.9h0.7M142.1,177.1h0.7M155.8,168.3h0.7M143.4,173.4h0.7M144.2,178.3h0.7" stroke="#ffffff" stroke-width="0.7" fill="none"/>
<path d="M148.8,191.2h0.9M159.0,180.7h0.9M162.4,179.7h0.9M153.2,189.9h0.9M152.1,183.8h0.9M142.9,163.4h0.9M138.7,170.9h0.9M159.1,182.7h0.9M159.8,167.3h0.9M160.4,168.9h0.9M153.0,187.2h0.9M158.3,185.3h0.9M142.8,180.5h0.9M141.6,166.4h0.9M152.9,174.8h0.9M146.8,181.4h0.9M153.3,161.1h0.9M155.1,179.1h0.9M161.2,179.8h0.9M156.4,172.0h0.9M157.5,159.3h0.9M145.2,169.3h0.9M150.0,193.6h0.9M153.2,162.3h0.9M147.4,189.3h0.9M154.0,162.8h0.9M151.4,165.1h0.9M141.8,160.8h0.9M157.0,181.4h0.9M148.3,181.0h0.9M154.2,177.2h0.9M150.6,182.4h0.9M147.7,161.4h0.9M150.0,190.9h0.9M161.0,178.4h0.9M161.8,169.6h0.9M146.7,175.7h0.9M149.4,161.6h0.9M141.8,177.0h0.9M145.8,172.5h0.9M154.0,172.3h0.9M150.4,170.7h0.9M160.6,172.9h0.9M145.8,169.5h0.9M162.7,172.3h0.9M137.6,168.5h0.9M157.3,164.2h0.9M152.5,159.9h0.9M148.7,182.7h0.9M142.5,173.5h0.9M148.9,177.9h0.9M161.8,176.8h0.9M139.9,167.1h0.9M148.7,184.8h0.9M156.8,187.1h0.9M141.5,161.3h0.9M144.3,186.0h0.9M158.4,169.0h0.9M143.3,176.2h0.9M157.7,184.7h0.9" stroke="#005a32" stroke-width="0.9" fill="none"/>
<path d="M141.5,147.0h0.8M142.6,153.9h0.8M136.8,175.5h0.8M128.5,165.7h0.8M138.7,161.5h0.8M131.9,159.6h0.8M130.9,154.8h0.8M134.6,157.1h0.8M141.6,159.8h0.8M134.8,157.0h0.8M137.9,172.2h0.8M134.7,167.0h0.8M137.7,175.5h0.8M139.3,173.5h0.8M142.1,176.3h0.8M124.2,153.6h0.8M142.7,153.9h0.8M143.1,165.7h0.8" stroke="#e8402c" stroke-width="0.8" fill="none"/>
<path d="M136.7,158.3h0.8M148.7,153.0h0.8M124.9,160.2h0.8M127.0,162.4h0.8M140.7,161.8h0.8M138.0,159.2h0.8M142.6,160.5h0.8M128.6,161.3h0.8M136.2,169.6h0.8M137.7,152.3h0.8M135.6,154.7h0.8M123.6,160.6h0.8M147.1,165.3h0.8M140.4,170.1h0.8M134.3,148.4h0.8M123.4,161.3h0.8M147.2,161.8h0.8M143.2,160.1h0.8M130.5,156.7h0.8M131.8,149.1h0.8M122.6,157.6h0.8M138.4,155.7h0.8M126.7,167.2h0.8M127.0,152.3h0.8M148.2,155.4h0.8" stroke="#ffffff" stroke-width="0.8" fill="none"/>
<path d="M109.0,173.7h0.9M110.6,161.9h0.9M110.8,171.4h0.9M112.4,188.6h0.9M112.7,165.2h0.9M113.8,176.9h0.9M109.5,185.5h0.9M114.2,171.8h0.9M108.8,169.3h0.9M111.6,173.6h0.9M117.0,171.1h0.9M108.4,182.5h0.9M112.1,165.1h0.9M110.8,183.7h0.9M113.2,160.0h0.9M107.8,181.7h0.9M108.4,187.2h0.9M111.6,159.9h0.9M114.8,160.0h0.9M113.4,166.5h0.9M116.2,162.2h0.9M114.1,170.9h0.9M116.2,165.7h0.9M116.7,170.6h0.9M111.9,186.8h0.9M112.8,162.2h0.9M113.4,162.0h0.9M114.7,183.8h0.9M116.4,167.1h0.9M105.8,182.7h0.9" stroke="#fc9272" stroke-width="0.9" fill="none"/>
<path d="M113.8,196.5h0.8M106.3,196.3h0.8M112.6,209.9h0.8M115.1,206.8h0.8M112.9,194.1h0.8M112.6,206.7h0.8M116.6,193.1h0.8M110.3,192.9h0.8M115.8,196.0h0.8M112.7,188.6h0.8M107.8,207.8h0.8M110.5,195.9h0.8M103.3,203.3h0.8M117.2,196.9h0.8M119.6,196.1h0.8M113.1,201.7h0.8M114.1,194.1h0.8M118.3,202.3h0.8M117.0,205.2h0.8M108.8,193.5h0.8M113.1,201.9h0.8M116.1,202.1h0.8M116.6,192.0h0.8M107.5,196.0h0.8M111.9,206.0h0.8" stroke="#ffd0c0" stroke-width="0.8" fill="none"/>
<path d="M186.0,169.1h0.9M194.7,162.4h0.9M189.4,174.4h0.9M172.7,172.0h0.9M185.9,172.7h0.9M188.1,157.9h0.9M169.2,174.9h0.9M189.5,161.3h0.9M173.4,185.7h0.9M189.6,176.8h0.9M178.7,170.7h0.9M162.0,180.4h0.9M167.2,179.9h0.9M180.3,145.4h0.9M190.8,149.0h0.9M166.7,185.0h0.9M176.1,177.9h0.9M190.6,156.5h0.9M176.3,169.7h0.9M187.8,176.8h0.9M178.1,145.9h0.9M188.9,176.1h0.9M183.3,157.3h0.9M188.2,151.1h0.9M176.0,140.2h0.9M179.7,182.2h0.9M189.7,168.1h0.9M178.4,181.7h0.9M182.8,147.6h0.9M169.1,181.6h0.9M185.0,154.9h0.9M192.5,162.9h0.9M174.9,186.2h0.9M179.1,146.8h0.9M179.9,147.6h0.9M178.4,178.9h0.9M188.1,153.7h0.9M164.8,175.8h0.9M194.5,159.2h0.9M175.0,140.9h0.9M186.8,153.8h0.9M183.5,150.7h0.9M181.3,177.2h0.9M183.7,173.6h0.9M164.2,182.6h0.9M177.4,184.4h0.9M178.8,180.9h0.9M189.8,151.1h0.9M187.0,167.5h0.9M170.9,181.4h0.9" stroke="#c7e9c0" stroke-width="0.9" fill="none"/>
<path d="M187.4,149.1h0.9M186.0,167.2h0.9M173.3,177.9h0.9M192.5,170.5h0.9M185.2,174.1h0.9M175.9,176.8h0.9M184.0,148.8h0.9M182.7,173.5h0.9M191.3,172.3h0.9M180.3,166.2h0.9M186.1,180.3h0.9M189.0,154.8h0.9M184.4,172.1h0.9M183.3,151.0h0.9M179.8,179.8h0.9M184.0,171.1h0.9M169.8,174.3h0.9M186.6,157.8h0.9M174.6,174.6h0.9M173.9,176.2h0.9M177.8,185.4h0.9M174.2,178.0h0.9M194.4,164.2h0.9M186.3,161.5h0.9M174.3,139.7h0.9" stroke="#41ab5d" stroke-width="0.9" fill="none"/>
<circle cx="226.1" cy="66.70" r="1.7" fill="#f7fcf5"/>
<circle cx="226.1" cy="74.67" r="1.7" fill="#e5f5e0"/>
<circle cx="226.1" cy="82.64" r="1.7" fill="#c7e9c0"/>
<circle cx="226.1" cy="90.61" r="1.7" fill="#a1d99b"/>
<circle cx="226.1" cy="98.58" r="1.7" fill="#74c476"/>
<circle cx="226.1" cy="106.55" r="1.7" fill="#41ab5d"/>
<circle cx="226.1" cy="114.52" r="1.7" fill="#238b45"/>
<circle cx="226.1" cy="122.49" r="1.7" fill="#005a32"/>
<circle cx="226.1" cy="130.46" r="1.7" fill="#fee0d2"/>
<circle cx="226.1" cy="138.43" r="1.7" fill="#fcbba1"/>
<circle cx="226.1" cy="146.40" r="1.7" fill="#fc9272"/>
<circle cx="226.1" cy="154.37" r="1.7" fill="#fb6a4a"/>
<circle cx="226.1" cy="162.34" r="1.7" fill="#ef3b2c"/>
<circle cx="226.1" cy="170.31" r="1.7" fill="#cb181d"/>
<circle cx="308.5" cy="66.70" r="1.7" fill="#bdbdbd"/>
<circle cx="308.5" cy="74.67" r="1.7" fill="#636363"/>
<circle cx="308.5" cy="82.64" r="1.7" fill="#fd8d3c"/>
<circle cx="308.5" cy="90.61" r="1.7" fill="#fdd9a8"/>
<circle cx="308.5" cy="98.58" r="1.7" fill="#dfc27d"/>
<circle cx="308.5" cy="106.55" r="1.7" fill="#deebf7"/>
<circle cx="308.5" cy="114.52" r="1.7" fill="#9ecae1"/>
<circle cx="308.5" cy="122.49" r="1.7" fill="#2171b5"/>
<circle cx="308.5" cy="130.46" r="1.7" fill="#08306b"/>
<circle cx="308.5" cy="138.43" r="1.7" fill="#efedf5"/>
<circle cx="308.5" cy="146.40" r="1.7" fill="#bcbddc"/>
<circle cx="308.5" cy="154.37" r="1.7" fill="#807dba"/>
<circle cx="308.5" cy="162.34" r="1.7" fill="#54278f"/>
<g transform="translate(233.7,0) scale(0.915,1)">
<text x="0" y="68.95" font-size="6.3" fill="#2a2a2a" font-weight="normal" text-anchor="start"  >Keratinocytes_1</text>
<text x="0" y="76.92" font-size="6.3" fill="#2a2a2a" font-weight="normal" text-anchor="start"  >Keratinocytes_2</text>
<text x="0" y="84.89" font-size="6.3" fill="#2a2a2a" font-weight="normal" text-anchor="start"  >Corneocytes</text>
<text x="0" y="92.86" font-size="6.3" fill="#2a2a2a" font-weight="normal" text-anchor="start"  >Basal_cells_1</text>
<text x="0" y="100.83" font-size="6.3" fill="#2a2a2a" font-weight="normal" text-anchor="start"  >Basal_cells_2</text>
<text x="0" y="108.80" font-size="6.3" fill="#2a2a2a" font-weight="normal" text-anchor="start"  >Trichocytes</text>
<text x="0" y="116.77" font-size="6.3" fill="#2a2a2a" font-weight="normal" text-anchor="start"  >Trophoblast_stem_cells_1</text>
<text x="0" y="124.74" font-size="6.3" fill="#2a2a2a" font-weight="normal" text-anchor="start"  >Trophoblast_stem_cells_2</text>
<text x="0" y="132.71" font-size="6.3" fill="#2a2a2a" font-weight="normal" text-anchor="start"  >Smooth_muscle_cells_1</text>
<text x="0" y="140.68" font-size="6.3" fill="#2a2a2a" font-weight="normal" text-anchor="start"  >Smooth_muscle_cells_2</text>
<text x="0" y="148.65" font-size="6.3" fill="#2a2a2a" font-weight="normal" text-anchor="start"  >Endothelial_cells_1</text>
<text x="0" y="156.62" font-size="6.3" fill="#2a2a2a" font-weight="normal" text-anchor="start"  >Endothelial_cells_2</text>
<text x="0" y="164.59" font-size="6.3" fill="#2a2a2a" font-weight="normal" text-anchor="start"  >Fibroblasts_1</text>
<text x="0" y="172.56" font-size="6.3" fill="#2a2a2a" font-weight="normal" text-anchor="start"  >Fibroblasts_2</text>
</g><g transform="translate(316.2,0) scale(0.915,1)">
<text x="0" y="68.95" font-size="6.3" fill="#2a2a2a" font-weight="normal" text-anchor="start"  >Hemangioblasts</text>
<text x="0" y="76.92" font-size="6.3" fill="#2a2a2a" font-weight="normal" text-anchor="start"  >Pluripotent_stem_cells</text>
<text x="0" y="84.89" font-size="6.3" fill="#2a2a2a" font-weight="normal" text-anchor="start"  >Reticulocytes</text>
<text x="0" y="92.86" font-size="6.3" fill="#2a2a2a" font-weight="normal" text-anchor="start"  >Mast_cells</text>
<text x="0" y="100.83" font-size="6.3" fill="#2a2a2a" font-weight="normal" text-anchor="start"  >Transient_cells</text>
<text x="0" y="108.80" font-size="6.3" fill="#2a2a2a" font-weight="normal" text-anchor="start"  >Embryo_Langerhans_cells</text>
<text x="0" y="116.77" font-size="6.3" fill="#2a2a2a" font-weight="normal" text-anchor="start"  >Monocyte_Langerhans_cells</text>
<text x="0" y="124.74" font-size="6.3" fill="#2a2a2a" font-weight="normal" text-anchor="start"  >Dendritic_cell_type3</text>
<text x="0" y="132.71" font-size="6.3" fill="#2a2a2a" font-weight="normal" text-anchor="start"  >conventional_Dendritic_cells_2</text>
<text x="0" y="140.68" font-size="6.3" fill="#2a2a2a" font-weight="normal" text-anchor="start"  >T_helper_17_cells</text>
<text x="0" y="148.65" font-size="6.3" fill="#2a2a2a" font-weight="normal" text-anchor="start"  >T_regulatory_cells_1</text>
<text x="0" y="156.62" font-size="6.3" fill="#2a2a2a" font-weight="normal" text-anchor="start"  >CD8_T_cells</text>
<text x="0" y="164.59" font-size="6.3" fill="#2a2a2a" font-weight="normal" text-anchor="start"  >Natural_killer_cells</text>
</g>
<text x="405.7" y="16.0" font-size="10" fill="#111" font-weight="normal" text-anchor="start"  textLength="4.9" lengthAdjust="spacingAndGlyphs" stroke="#111" stroke-width="0.25">B</text>
<line x1="444.3" y1="32.3" x2="642.2" y2="32.3" stroke="#666" stroke-width="0.8" />
<line x1="444.3" y1="64.3" x2="642.2" y2="64.3" stroke="#666" stroke-width="0.8" />
<line x1="444.3" y1="96.3" x2="642.2" y2="96.3" stroke="#666" stroke-width="0.8" />
<line x1="444.3" y1="128.3" x2="642.2" y2="128.3" stroke="#666" stroke-width="0.8" />
<line x1="444.3" y1="161.3" x2="642.2" y2="161.3" stroke="#666" stroke-width="0.8" />
<line x1="444.3" y1="194.3" x2="642.2" y2="194.3" stroke="#666" stroke-width="0.8" />
<line x1="444.3" y1="227.6" x2="642.2" y2="227.6" stroke="#666" stroke-width="0.8" />
<line x1="444.3" y1="0.5" x2="642.2" y2="0.5" stroke="#bbb" stroke-width="1" />
<line x1="444.3" y1="0" x2="444.3" y2="227.6" stroke="#666" stroke-width="0.8" />
<line x1="642.2" y1="0" x2="642.2" y2="227.6" stroke="#ccc" stroke-width="0.8" />
<line x1="442.8" y1="32.3" x2="444.3" y2="32.3" stroke="#777" stroke-width="0.6" />
<line x1="442.8" y1="23.629999999999995" x2="444.3" y2="23.629999999999995" stroke="#777" stroke-width="0.6" />
<line x1="442.8" y1="14.959999999999997" x2="444.3" y2="14.959999999999997" stroke="#777" stroke-width="0.6" />
<line x1="442.8" y1="6.289999999999999" x2="444.3" y2="6.289999999999999" stroke="#777" stroke-width="0.6" />
<line x1="441" y1="6.289999999999999" x2="442.2" y2="6.289999999999999" stroke="#bbb" stroke-width="0.8" />
<line x1="442.8" y1="64.3" x2="444.3" y2="64.3" stroke="#777" stroke-width="0.6" />
<line x1="442.8" y1="55.629999999999995" x2="444.3" y2="55.629999999999995" stroke="#777" stroke-width="0.6" />
<line x1="442.8" y1="46.959999999999994" x2="444.3" y2="46.959999999999994" stroke="#777" stroke-width="0.6" />
<line x1="442.8" y1="38.29" x2="444.3" y2="38.29" stroke="#777" stroke-width="0.6" />
<line x1="441" y1="38.29" x2="442.2" y2="38.29" stroke="#bbb" stroke-width="0.8" />
<line x1="442.8" y1="96.3" x2="444.3" y2="96.3" stroke="#777" stroke-width="0.6" />
<line x1="442.8" y1="87.63" x2="444.3" y2="87.63" stroke="#777" stroke-width="0.6" />
<line x1="442.8" y1="78.96" x2="444.3" y2="78.96" stroke="#777" stroke-width="0.6" />
<line x1="442.8" y1="70.28999999999999" x2="444.3" y2="70.28999999999999" stroke="#777" stroke-width="0.6" />
<line x1="441" y1="70.28999999999999" x2="442.2" y2="70.28999999999999" stroke="#bbb" stroke-width="0.8" />
<line x1="442.8" y1="128.3" x2="444.3" y2="128.3" stroke="#777" stroke-width="0.6" />
<line x1="442.8" y1="119.63000000000001" x2="444.3" y2="119.63000000000001" stroke="#777" stroke-width="0.6" />
<line x1="442.8" y1="110.96000000000001" x2="444.3" y2="110.96000000000001" stroke="#777" stroke-width="0.6" />
<line x1="442.8" y1="102.29000000000002" x2="444.3" y2="102.29000000000002" stroke="#777" stroke-width="0.6" />
<line x1="441" y1="102.29000000000002" x2="442.2" y2="102.29000000000002" stroke="#bbb" stroke-width="0.8" />
<line x1="442.8" y1="161.3" x2="444.3" y2="161.3" stroke="#777" stroke-width="0.6" />
<line x1="442.8" y1="152.63000000000002" x2="444.3" y2="152.63000000000002" stroke="#777" stroke-width="0.6" />
<line x1="442.8" y1="143.96" x2="444.3" y2="143.96" stroke="#777" stroke-width="0.6" />
<line x1="442.8" y1="135.29000000000002" x2="444.3" y2="135.29000000000002" stroke="#777" stroke-width="0.6" />
<line x1="441" y1="135.29000000000002" x2="442.2" y2="135.29000000000002" stroke="#bbb" stroke-width="0.8" />
<line x1="442.8" y1="194.3" x2="444.3" y2="194.3" stroke="#777" stroke-width="0.6" />
<line x1="442.8" y1="185.63000000000002" x2="444.3" y2="185.63000000000002" stroke="#777" stroke-width="0.6" />
<line x1="442.8" y1="176.96" x2="444.3" y2="176.96" stroke="#777" stroke-width="0.6" />
<line x1="442.8" y1="168.29000000000002" x2="444.3" y2="168.29000000000002" stroke="#777" stroke-width="0.6" />
<line x1="441" y1="168.29000000000002" x2="442.2" y2="168.29000000000002" stroke="#bbb" stroke-width="0.8" />
<line x1="442.8" y1="227.6" x2="444.3" y2="227.6" stroke="#777" stroke-width="0.6" />
<line x1="442.8" y1="218.93" x2="444.3" y2="218.93" stroke="#777" stroke-width="0.6" />
<line x1="442.8" y1="210.26" x2="444.3" y2="210.26" stroke="#777" stroke-width="0.6" />
<line x1="442.8" y1="201.59" x2="444.3" y2="201.59" stroke="#777" stroke-width="0.6" />
<line x1="441" y1="201.59" x2="442.2" y2="201.59" stroke="#bbb" stroke-width="0.8" />
<path d="M481.20,0.00 C481.20,2.07 481.27,10.10 481.20,12.40 C481.13,14.70 481.03,12.98 480.80,13.80 C480.57,14.62 480.83,16.15 479.80,17.30 C478.77,18.45 476.48,19.55 474.60,20.70 C472.72,21.85 470.07,23.22 468.50,24.20 C466.93,25.18 464.87,25.92 465.20,26.60 C465.53,27.28 468.87,27.87 470.50,28.30 C472.13,28.73 475.17,28.87 475.00,29.20 C474.83,29.53 471.75,30.00 469.50,30.30 C467.25,30.60 464.10,30.78 461.50,31.00 C458.90,31.22 455.17,31.47 453.90,31.60 C452.63,31.73 453.90,31.77 453.90,31.80 L509.10,31.80 C509.10,31.77 510.37,31.73 509.10,31.60 C507.83,31.47 504.10,31.22 501.50,31.00 C498.90,30.78 495.75,30.60 493.50,30.30 C491.25,30.00 488.17,29.53 488.00,29.20 C487.83,28.87 490.87,28.73 492.50,28.30 C494.13,27.87 497.47,27.28 497.80,26.60 C498.13,25.92 496.07,25.18 494.50,24.20 C492.93,23.22 490.28,21.85 488.40,20.70 C486.52,19.55 484.23,18.45 483.20,17.30 C482.17,16.15 482.43,14.62 482.20,13.80 C481.97,12.98 481.87,14.70 481.80,12.40 C481.73,10.10 481.80,2.07 481.80,0.00Z" fill="#deebf7" stroke="#666" stroke-width="0.45" stroke-linejoin="round"/>
<path d="M543.15,2.00 C543.12,3.05 543.14,6.33 543.00,8.30 C542.86,10.27 542.58,11.73 542.30,13.80 C542.02,15.87 541.53,18.97 541.30,20.70 C541.07,22.43 540.78,23.05 540.90,24.20 C541.02,25.35 541.77,26.75 542.00,27.60 C542.23,28.45 543.23,28.83 542.30,29.30 C541.37,29.77 539.22,30.08 536.40,30.40 C533.58,30.72 528.83,30.97 525.40,31.20 C521.97,31.43 517.40,31.70 515.80,31.80 L571.00,31.80 C569.40,31.70 564.83,31.43 561.40,31.20 C557.97,30.97 553.22,30.72 550.40,30.40 C547.58,30.08 545.43,29.77 544.50,29.30 C543.57,28.83 544.57,28.45 544.80,27.60 C545.03,26.75 545.78,25.35 545.90,24.20 C546.02,23.05 545.73,22.43 545.50,20.70 C545.27,18.97 544.78,15.87 544.50,13.80 C544.22,11.73 543.94,10.27 543.80,8.30 C543.66,6.33 543.67,3.05 543.65,2.00Z" fill="#9ecae1" stroke="#666" stroke-width="0.45" stroke-linejoin="round"/>
<line x1="604.9" y1="20" x2="604.9" y2="31.8" stroke="#999" stroke-width="0.5" stroke-dasharray="1,0.6"/>
<line x1="591.4" y1="31.9" x2="618.4" y2="31.9" stroke="#666" stroke-width="0.6" />
<path d="M481.20,32.30 C481.08,33.02 480.92,35.53 480.50,36.60 C480.08,37.67 479.92,38.02 478.70,38.70 C477.48,39.38 475.50,40.02 473.20,40.70 C470.90,41.38 468.18,41.87 464.90,42.80 C461.62,43.73 454.18,45.38 453.50,46.30 C452.82,47.22 458.20,47.50 460.80,48.30 C463.40,49.10 466.57,50.07 469.10,51.10 C471.63,52.13 474.28,53.35 476.00,54.50 C477.72,55.65 478.60,56.85 479.40,58.00 C480.20,59.15 480.78,60.53 480.80,61.40 C480.82,62.27 479.80,62.73 479.50,63.20 C479.20,63.67 479.08,64.03 479.00,64.20 L484.00,64.20 C483.92,64.03 483.80,63.67 483.50,63.20 C483.20,62.73 482.18,62.27 482.20,61.40 C482.22,60.53 482.80,59.15 483.60,58.00 C484.40,56.85 485.28,55.65 487.00,54.50 C488.72,53.35 491.37,52.13 493.90,51.10 C496.43,50.07 499.60,49.10 502.20,48.30 C504.80,47.50 510.18,47.22 509.50,46.30 C508.82,45.38 501.38,43.73 498.10,42.80 C494.82,41.87 492.10,41.38 489.80,40.70 C487.50,40.02 485.52,39.38 484.30,38.70 C483.08,38.02 482.92,37.67 482.50,36.60 C482.08,35.53 481.92,33.02 481.80,32.30Z" fill="#deebf7" stroke="#666" stroke-width="0.45" stroke-linejoin="round"/>
<path d="M543.10,35.60 C542.97,36.12 542.83,37.50 542.30,38.70 C541.77,39.90 540.98,41.43 539.90,42.80 C538.82,44.17 536.95,45.52 535.80,46.90 C534.65,48.28 533.57,49.83 533.00,51.10 C532.43,52.37 532.05,53.47 532.40,54.50 C532.75,55.53 534.18,56.37 535.10,57.30 C536.02,58.23 537.90,59.42 537.90,60.10 C537.90,60.78 537.63,60.95 535.10,61.40 C532.57,61.85 525.92,62.37 522.70,62.80 C519.48,63.23 516.95,63.80 515.80,64.00 L571.00,64.00 C569.85,63.80 567.32,63.23 564.10,62.80 C560.88,62.37 554.23,61.85 551.70,61.40 C549.17,60.95 548.90,60.78 548.90,60.10 C548.90,59.42 550.78,58.23 551.70,57.30 C552.62,56.37 554.05,55.53 554.40,54.50 C554.75,53.47 554.37,52.37 553.80,51.10 C553.23,49.83 552.15,48.28 551.00,46.90 C549.85,45.52 547.98,44.17 546.90,42.80 C545.82,41.43 545.03,39.90 544.50,38.70 C543.97,37.50 543.83,36.12 543.70,35.60Z" fill="#9ecae1" stroke="#666" stroke-width="0.45" stroke-linejoin="round"/>
<path d="M601.00,43.20 C600.62,43.42 600.35,43.98 598.70,44.50 C597.05,45.02 593.98,45.43 591.10,46.30 C588.22,47.17 583.70,48.72 581.40,49.70 C579.10,50.68 576.83,51.40 577.30,52.20 C577.77,53.00 580.98,53.65 584.20,54.50 C587.42,55.35 593.62,56.48 596.60,57.30 C599.58,58.12 601.07,58.72 602.10,59.40 C603.13,60.08 602.92,60.83 602.80,61.40 C602.68,61.97 601.73,62.37 601.40,62.80 C601.07,63.23 600.90,63.80 600.80,64.00 L609.00,64.00 C608.90,63.80 608.73,63.23 608.40,62.80 C608.07,62.37 607.12,61.97 607.00,61.40 C606.88,60.83 606.67,60.08 607.70,59.40 C608.73,58.72 610.22,58.12 613.20,57.30 C616.18,56.48 622.38,55.35 625.60,54.50 C628.82,53.65 632.03,53.00 632.50,52.20 C632.97,51.40 630.70,50.68 628.40,49.70 C626.10,48.72 621.58,47.17 618.70,46.30 C615.82,45.43 612.75,45.02 611.10,44.50 C609.45,43.98 609.18,43.42 608.80,43.20Z" fill="#6baed6" stroke="#666" stroke-width="0.45" stroke-linejoin="round"/>
<line x1="481.5" y1="64.3" x2="481.5" y2="96.3" stroke="#777" stroke-width="0.6" />
<path d="M543.10,66.10 C543.05,67.25 542.98,70.68 542.80,73.00 C542.62,75.32 542.28,77.68 542.00,80.00 C541.72,82.32 541.15,84.95 541.10,86.90 C541.05,88.85 541.65,90.55 541.70,91.70 C541.75,92.85 542.95,93.27 541.40,93.80 C539.85,94.33 536.67,94.57 532.40,94.90 C528.13,95.23 518.57,95.60 515.80,95.80 C513.03,96.00 515.80,96.05 515.80,96.10 L571.00,96.10 C571.00,96.05 573.77,96.00 571.00,95.80 C568.23,95.60 558.67,95.23 554.40,94.90 C550.13,94.57 546.95,94.33 545.40,93.80 C543.85,93.27 545.05,92.85 545.10,91.70 C545.15,90.55 545.75,88.85 545.70,86.90 C545.65,84.95 545.08,82.32 544.80,80.00 C544.52,77.68 544.18,75.32 544.00,73.00 C543.82,70.68 543.75,67.25 543.70,66.10Z" fill="#9ecae1" stroke="#666" stroke-width="0.45" stroke-linejoin="round"/>
<line x1="604.9" y1="81.3" x2="604.9" y2="96" stroke="#aaa" stroke-width="0.5" stroke-dasharray="1,0.6"/>
<line x1="481.5" y1="101.3" x2="481.5" y2="128.3" stroke="#777" stroke-width="0.6" />
<path d="M542.90,96.50 C542.87,96.97 542.97,98.15 542.70,99.30 C542.43,100.45 541.98,101.80 541.30,103.40 C540.62,105.00 539.17,107.05 538.60,108.90 C538.03,110.75 537.78,112.65 537.90,114.50 C538.02,116.35 538.97,118.52 539.30,120.00 C539.63,121.48 540.83,122.48 539.90,123.40 C538.97,124.32 536.57,124.92 533.70,125.50 C530.83,126.08 525.68,126.47 522.70,126.90 C519.72,127.33 516.95,127.90 515.80,128.10 L571.00,128.10 C569.85,127.90 567.08,127.33 564.10,126.90 C561.12,126.47 555.97,126.08 553.10,125.50 C550.23,124.92 547.83,124.32 546.90,123.40 C545.97,122.48 547.17,121.48 547.50,120.00 C547.83,118.52 548.78,116.35 548.90,114.50 C549.02,112.65 548.77,110.75 548.20,108.90 C547.63,107.05 546.18,105.00 545.50,103.40 C544.82,101.80 544.37,100.45 544.10,99.30 C543.83,98.15 543.93,96.97 543.90,96.50Z" fill="#9ecae1" stroke="#666" stroke-width="0.45" stroke-linejoin="round"/>
<path d="M596.90,103.00 C596.40,103.30 595.78,104.03 593.90,104.80 C592.02,105.57 587.68,106.45 585.60,107.60 C583.52,108.75 581.75,110.43 581.40,111.70 C581.05,112.97 582.35,114.05 583.50,115.20 C584.65,116.35 586.92,117.45 588.30,118.60 C589.68,119.75 592.03,121.07 591.80,122.10 C591.57,123.13 588.87,124.00 586.90,124.80 C584.93,125.60 581.60,126.33 580.00,126.90 C578.40,127.47 577.75,127.98 577.30,128.20 L632.50,128.20 C632.05,127.98 631.40,127.47 629.80,126.90 C628.20,126.33 624.87,125.60 622.90,124.80 C620.93,124.00 618.23,123.13 618.00,122.10 C617.77,121.07 620.12,119.75 621.50,118.60 C622.88,117.45 625.15,116.35 626.30,115.20 C627.45,114.05 628.75,112.97 628.40,111.70 C628.05,110.43 626.28,108.75 624.20,107.60 C622.12,106.45 617.78,105.57 615.90,104.80 C614.02,104.03 613.40,103.30 612.90,103.00Z" fill="#6baed6" stroke="#666" stroke-width="0.45" stroke-linejoin="round"/>
<line x1="481.5" y1="138.8" x2="481.5" y2="161.3" stroke="#777" stroke-width="0.6" />
<path d="M542.90,129.10 C542.87,129.57 543.03,130.75 542.70,131.90 C542.37,133.05 541.82,134.38 540.90,136.00 C539.98,137.62 538.35,139.75 537.20,141.60 C536.05,143.45 534.62,145.62 534.00,147.10 C533.38,148.58 533.20,149.35 533.50,150.50 C533.80,151.65 534.83,152.92 535.80,154.00 C536.77,155.08 539.42,156.20 539.30,157.00 C539.18,157.80 537.87,158.27 535.10,158.80 C532.33,159.33 525.92,159.80 522.70,160.20 C519.48,160.60 516.95,161.03 515.80,161.20 L571.00,161.20 C569.85,161.03 567.32,160.60 564.10,160.20 C560.88,159.80 554.47,159.33 551.70,158.80 C548.93,158.27 547.62,157.80 547.50,157.00 C547.38,156.20 550.03,155.08 551.00,154.00 C551.97,152.92 553.00,151.65 553.30,150.50 C553.60,149.35 553.42,148.58 552.80,147.10 C552.18,145.62 550.75,143.45 549.60,141.60 C548.45,139.75 546.82,137.62 545.90,136.00 C544.98,134.38 544.43,133.05 544.10,131.90 C543.77,130.75 543.93,129.57 543.90,129.10Z" fill="#9ecae1" stroke="#666" stroke-width="0.45" stroke-linejoin="round"/>
<path d="M600.10,145.40 C599.28,145.68 596.93,146.25 595.20,147.10 C593.47,147.95 589.92,149.47 589.70,150.50 C589.48,151.53 592.52,152.37 593.90,153.30 C595.28,154.23 598.00,155.30 598.00,156.10 C598.00,156.90 596.20,157.48 593.90,158.10 C591.60,158.72 586.97,159.28 584.20,159.80 C581.43,160.32 578.45,160.97 577.30,161.20 L632.50,161.20 C631.35,160.97 628.37,160.32 625.60,159.80 C622.83,159.28 618.20,158.72 615.90,158.10 C613.60,157.48 611.80,156.90 611.80,156.10 C611.80,155.30 614.52,154.23 615.90,153.30 C617.28,152.37 620.32,151.53 620.10,150.50 C619.88,149.47 616.33,147.95 614.60,147.10 C612.87,146.25 610.52,145.68 609.70,145.40Z" fill="#6baed6" stroke="#666" stroke-width="0.45" stroke-linejoin="round"/>
<line x1="481.5" y1="169.9" x2="481.5" y2="194.3" stroke="#777" stroke-width="0.6" />
<path d="M543.10,161.60 C543.10,162.40 543.15,164.68 543.10,166.40 C543.05,168.12 542.98,170.05 542.80,171.90 C542.62,173.75 542.25,175.65 542.00,177.50 C541.75,179.35 541.42,181.40 541.30,183.00 C541.18,184.60 541.13,185.83 541.30,187.10 C541.47,188.37 543.33,189.67 542.30,190.60 C541.27,191.53 538.37,192.17 535.10,192.70 C531.83,193.23 525.32,193.55 522.70,193.80 C520.08,194.05 519.95,194.13 519.40,194.20 L567.40,194.20 C566.85,194.13 566.72,194.05 564.10,193.80 C561.48,193.55 554.97,193.23 551.70,192.70 C548.43,192.17 545.53,191.53 544.50,190.60 C543.47,189.67 545.33,188.37 545.50,187.10 C545.67,185.83 545.62,184.60 545.50,183.00 C545.38,181.40 545.05,179.35 544.80,177.50 C544.55,175.65 544.18,173.75 544.00,171.90 C543.82,170.05 543.75,168.12 543.70,166.40 C543.65,164.68 543.70,162.40 543.70,161.60Z" fill="#9ecae1" stroke="#666" stroke-width="0.45" stroke-linejoin="round"/>
<line x1="604.9" y1="180.9" x2="604.9" y2="194.3" stroke="#aaa" stroke-width="0.5" stroke-dasharray="1,0.6"/>
<path d="M481.10,194.40 C481.08,195.13 481.05,197.83 481.00,198.80 C480.95,199.77 481.18,199.52 480.80,200.20 C480.42,200.88 480.20,201.75 478.70,202.90 C477.20,204.05 473.98,205.72 471.80,207.10 C469.62,208.48 467.20,209.93 465.60,211.20 C464.00,212.47 462.32,213.55 462.20,214.70 C462.08,215.85 463.30,216.95 464.90,218.10 C466.50,219.25 469.83,220.57 471.80,221.60 C473.77,222.63 476.70,223.62 476.70,224.30 C476.70,224.98 474.45,225.30 471.80,225.70 C469.15,226.10 463.78,226.40 460.80,226.70 C457.82,227.00 455.05,227.37 453.90,227.50 L509.10,227.50 C507.95,227.37 505.18,227.00 502.20,226.70 C499.22,226.40 493.85,226.10 491.20,225.70 C488.55,225.30 486.30,224.98 486.30,224.30 C486.30,223.62 489.23,222.63 491.20,221.60 C493.17,220.57 496.50,219.25 498.10,218.10 C499.70,216.95 500.92,215.85 500.80,214.70 C500.68,213.55 499.00,212.47 497.40,211.20 C495.80,209.93 493.38,208.48 491.20,207.10 C489.02,205.72 485.80,204.05 484.30,202.90 C482.80,201.75 482.58,200.88 482.20,200.20 C481.82,199.52 482.05,199.77 482.00,198.80 C481.95,197.83 481.92,195.13 481.90,194.40Z" fill="#deebf7" stroke="#666" stroke-width="0.45" stroke-linejoin="round"/>
<line x1="543.4" y1="197" x2="543.4" y2="227.6" stroke="#999" stroke-width="0.5" stroke-dasharray="0.8,0.8"/>
<line x1="604.9" y1="209" x2="604.9" y2="227.6" stroke="#999" stroke-width="0.5" stroke-dasharray="0.8,0.8"/>
<text x="646.1" y="18.9" font-size="6.4" fill="#111" font-weight="bold" text-anchor="start"  >RUNX3</text>
<text x="646.1" y="51.4" font-size="6.4" fill="#111" font-weight="bold" text-anchor="start"  >ID2</text>
<text x="646.1" y="83.8" font-size="6.4" fill="#111" font-weight="bold" text-anchor="start"  >IRF8</text>
<text x="646.1" y="116.3" font-size="6.4" fill="#111" font-weight="bold" text-anchor="start"  >CD163</text>
<text x="646.1" y="148.7" font-size="6.4" fill="#111" font-weight="bold" text-anchor="start"  >CSF1R</text>
<text x="646.1" y="181.2" font-size="6.4" fill="#111" font-weight="bold" text-anchor="start"  >ITGAM</text>
<text x="646.1" y="213.6" font-size="6.4" fill="#111" font-weight="bold" text-anchor="start"  >DEC-205</text>
<line x1="481.5" y1="227.6" x2="481.5" y2="229.5" stroke="#666" stroke-width="0.6" />
<text x="480" y="240" font-size="6.6" fill="#111" font-weight="bold" text-anchor="middle"  >eLC</text>
<line x1="543.4" y1="227.6" x2="543.4" y2="229.5" stroke="#666" stroke-width="0.6" />
<text x="542.8" y="240" font-size="6.6" fill="#111" font-weight="bold" text-anchor="middle"  >moLC</text>
<line x1="604.9" y1="227.6" x2="604.9" y2="229.5" stroke="#666" stroke-width="0.6" />
<text x="605" y="240" font-size="6.6" fill="#111" font-weight="bold" text-anchor="middle"  >DC3</text>
<text x="0" y="0" font-size="15.3" font-weight="bold" fill="#111" transform="translate(436.7,114.5) rotate(-90)" text-anchor="middle" textLength="98" lengthAdjust="spacingAndGlyphs">Expression Level</text>
<text x="2.4" y="271.6" font-size="10.8" fill="#111" font-weight="normal" text-anchor="start"  textLength="5.9" lengthAdjust="spacingAndGlyphs" stroke="#111" stroke-width="0.25">C</text>
<text x="68.6" y="283" font-size="11.3" fill="#111" font-weight="bold" text-anchor="start"  textLength="35" lengthAdjust="spacingAndGlyphs" >p=0.03</text>
<line x1="54" y1="288.3" x2="121.2" y2="288.3" stroke="#c8c8c8" stroke-width="0.8" />
<line x1="81.5" y1="287.3" x2="81.5" y2="288.6" stroke="#888" stroke-width="0.6" />
<line x1="13.7" y1="284" x2="13.7" y2="384.2" stroke="#bbb" stroke-width="0.8" />
<line x1="13.7" y1="384.2" x2="161" y2="384.2" stroke="#bbb" stroke-width="0.8" />
<line x1="11" y1="298.2" x2="13.7" y2="298.2" stroke="#aaa" stroke-width="0.6" />
<line x1="11" y1="325" x2="13.7" y2="325" stroke="#aaa" stroke-width="0.6" />
<line x1="11" y1="352.2" x2="13.7" y2="352.2" stroke="#aaa" stroke-width="0.6" />
<line x1="11" y1="379.7" x2="13.7" y2="379.7" stroke="#aaa" stroke-width="0.6" />
<text x="0" y="0" font-size="7.5" font-weight="bold" fill="#111" transform="translate(6.7,332) rotate(-90)" text-anchor="middle" textLength="85" lengthAdjust="spacingAndGlyphs">HTR2A Expression Level</text>
<line x1="53.9" y1="319.9" x2="53.9" y2="344.2" stroke="#d6d6d6" stroke-width="0.9" />
<line x1="53.9" y1="370.5" x2="53.9" y2="379.2" stroke="#d6d6d6" stroke-width="0.9" />
<rect x="37.2" y="344.2" width="33.5" height="26.3" fill="none" stroke="#b8b8b8" stroke-width="0.8"/>
<line x1="37.2" y1="354.3" x2="70.7" y2="354.3" stroke="#999" stroke-width="0.9" />
<circle cx="53.7" cy="292.3" r="0.6" fill="#666"/><circle cx="53.7" cy="303.9" r="0.6" fill="#999"/>
<line x1="121.2" y1="315.4" x2="121.2" y2="352.8" stroke="#aaa" stroke-width="0.8" />
<rect x="104.8" y="352.8" width="33.5" height="26.4" fill="none" stroke="#aaa" stroke-width="0.8"/>
<line x1="104.8" y1="379.2" x2="138.3" y2="379.2" stroke="#777" stroke-width="1" />
<text x="53.9" y="392.3" font-size="6.2" fill="#111" font-weight="bold" text-anchor="middle"  textLength="19" lengthAdjust="spacingAndGlyphs" >Control</text>
<text x="120.3" y="392.3" font-size="6.2" fill="#111" font-weight="bold" text-anchor="middle"  textLength="23" lengthAdjust="spacingAndGlyphs" >Psoriasis</text>
<text x="175.7" y="271.0" font-size="10.2" fill="#111" font-weight="normal" text-anchor="start"  textLength="5.7" lengthAdjust="spacingAndGlyphs" stroke="#111" stroke-width="0.25">D</text>
<line x1="202.6" y1="264" x2="202.6" y2="388.1" stroke="#aaa" stroke-width="0.9" />
<line x1="202.6" y1="388.1" x2="372.4" y2="388.1" stroke="#aaa" stroke-width="0.9" />
<line x1="226.4" y1="388.1" x2="226.4" y2="390" stroke="#888" stroke-width="0.5" />
<line x1="267" y1="388.1" x2="267" y2="390" stroke="#888" stroke-width="0.5" />
<line x1="307.4" y1="388.1" x2="307.4" y2="390" stroke="#888" stroke-width="0.5" />
<line x1="348.1" y1="388.1" x2="348.1" y2="390" stroke="#888" stroke-width="0.5" />
<line x1="200.8" y1="287.4" x2="202.6" y2="287.4" stroke="#888" stroke-width="0.5" />
<line x1="200.8" y1="326.4" x2="202.6" y2="326.4" stroke="#888" stroke-width="0.5" />
<line x1="200.8" y1="364.8" x2="202.6" y2="364.8" stroke="#888" stroke-width="0.5" />
<text x="198.5" y="295.6" font-size="8.6" fill="#111" font-weight="bold" text-anchor="end"  textLength="15.2" lengthAdjust="spacingAndGlyphs" >DC3</text>
<text x="198.5" y="331.4" font-size="8.6" fill="#111" font-weight="bold" text-anchor="end"  textLength="20.7" lengthAdjust="spacingAndGlyphs" >moLC</text>
<text x="198.5" y="368.5" font-size="8.6" fill="#111" font-weight="bold" text-anchor="end"  textLength="13.3" lengthAdjust="spacingAndGlyphs" >eLC</text>
<circle cx="226.4" cy="287.4" r="0.8" fill="#6a4ff0"/>
<circle cx="267" cy="287.4" r="0.5" fill="#d8d0fa"/>
<circle cx="307.4" cy="287.4" r="0.3" fill="#e0e0e0"/>
<circle cx="348.1" cy="287.4" r="0.3" fill="#eeeeee"/>
<circle cx="226.4" cy="326.4" r="2.1" fill="#f4927a"/>
<circle cx="267" cy="326.4" r="1.0" fill="#ee6a4c"/>
<circle cx="307.4" cy="326.4" r="2.1" fill="#f4927a"/>
<circle cx="348.1" cy="326.4" r="0.3" fill="#f2f2f2"/>
<circle cx="226.4" cy="364.8" r="0.4" fill="#f8dcd0"/>
<circle cx="267" cy="364.8" r="0.6" fill="#b8a8f6"/>
<circle cx="307.4" cy="364.8" r="1.5" fill="#efe8fc"/>
<circle cx="348.1" cy="364.8" r="0.3" fill="#eeeeee"/>
<text x="228" y="402.2" font-size="8" fill="#111" font-weight="normal" text-anchor="middle" font-style="italic" stroke="#111" stroke-width="0.12">Il1b</text>
<text x="265.4" y="402.2" font-size="8" fill="#111" font-weight="normal" text-anchor="middle" font-style="italic" stroke="#111" stroke-width="0.12">Tnf</text>
<text x="306.3" y="402.2" font-size="8" fill="#111" font-weight="normal" text-anchor="middle" font-style="italic" stroke="#111" stroke-width="0.12">Il23a</text>
<text x="346.2" y="402.2" font-size="8" fill="#111" font-weight="normal" text-anchor="middle" font-style="italic" stroke="#111" stroke-width="0.12">Il12a</text>
<text x="377.2" y="298.1" font-size="4.8" fill="#333" font-weight="normal" text-anchor="start"  textLength="40" lengthAdjust="spacingAndGlyphs" >Percent Expressed</text>
<circle cx="379.8" cy="303.20" r="0.35" fill="#111"/>
<text x="384" y="304.80" font-size="4.4" fill="#555" font-weight="normal" text-anchor="start"  >0</text>
<circle cx="379.8" cy="307.85" r="0.75" fill="#111"/>
<text x="384" y="309.45" font-size="4.4" fill="#555" font-weight="normal" text-anchor="start"  >10</text>
<circle cx="379.8" cy="312.50" r="1.2" fill="#111"/>
<text x="384" y="314.10" font-size="4.4" fill="#555" font-weight="normal" text-anchor="start"  >20</text>
<circle cx="379.8" cy="317.15" r="1.8" fill="#111"/>
<text x="384" y="318.75" font-size="4.4" fill="#555" font-weight="normal" text-anchor="start"  >30</text>
<circle cx="379.8" cy="321.80" r="2.3" fill="#111"/>
<text x="384" y="323.40" font-size="4.4" fill="#555" font-weight="normal" text-anchor="start"  >40</text>
<text x="377.2" y="333.3" font-size="4.8" fill="#333" font-weight="normal" text-anchor="start"  textLength="42.3" lengthAdjust="spacingAndGlyphs" >Average Expression</text>
<defs><linearGradient id="gD" x1="0" y1="0" x2="0" y2="1"><stop offset="0" stop-color="#ee3322"/><stop offset="0.5" stop-color="#ffffff"/><stop offset="1" stop-color="#2a1ef0"/></linearGradient><linearGradient id="gE" x1="0" y1="0" x2="0" y2="1"><stop offset="0" stop-color="#2a1ee8"/><stop offset="1" stop-color="#d9d9d9"/></linearGradient></defs>
<rect x="377.2" y="335.2" width="4.8" height="23.2" fill="url(#gD)"/>
<text x="384" y="337.40" font-size="4.4" fill="#555" font-weight="normal" text-anchor="start"  >2</text>
<text x="384" y="342.60" font-size="4.4" fill="#555" font-weight="normal" text-anchor="start"  >1</text>
<text x="384" y="349.00" font-size="4.4" fill="#555" font-weight="normal" text-anchor="start"  >0</text>
<text x="384" y="354.50" font-size="4.4" fill="#555" font-weight="normal" text-anchor="start"  >-1</text>
<text x="384" y="360.50" font-size="4.4" fill="#555" font-weight="normal" text-anchor="start"  >-2</text>
<text x="175.7" y="412.8" font-size="10.3" fill="#111" font-weight="normal" text-anchor="start"  textLength="4.2" lengthAdjust="spacingAndGlyphs" stroke="#111" stroke-width="0.25">E</text>
<line x1="200.5" y1="432.9" x2="200.5" y2="495.8" stroke="#888" stroke-width="0.9" />
<line x1="200.5" y1="495.8" x2="373" y2="495.8" stroke="#888" stroke-width="0.9" />
<line x1="220.6" y1="495.8" x2="220.6" y2="497.6" stroke="#888" stroke-width="0.5" />
<line x1="254.3" y1="495.8" x2="254.3" y2="497.6" stroke="#888" stroke-width="0.5" />
<line x1="287.9" y1="495.8" x2="287.9" y2="497.6" stroke="#888" stroke-width="0.5" />
<line x1="320.9" y1="495.8" x2="320.9" y2="497.6" stroke="#888" stroke-width="0.5" />
<line x1="354.4" y1="495.8" x2="354.4" y2="497.6" stroke="#888" stroke-width="0.5" />
<line x1="198.8" y1="449.6" x2="200.5" y2="449.6" stroke="#888" stroke-width="0.5" />
<line x1="198.8" y1="478.2" x2="200.5" y2="478.2" stroke="#888" stroke-width="0.5" />
<text x="198" y="453.3" font-size="7.4" fill="#111" font-weight="bold" text-anchor="end"  textLength="31.6" lengthAdjust="spacingAndGlyphs" >Pso moLC</text>
<text x="198" y="480.9" font-size="7.4" fill="#111" font-weight="bold" text-anchor="end"  textLength="32" lengthAdjust="spacingAndGlyphs" >Ctrl moLC</text>
<circle cx="220.6" cy="449.6" r="0.6" fill="#2a22d8"/>
<circle cx="254.3" cy="449.6" r="1.0" fill="#3b34dc"/>
<circle cx="287.9" cy="449.6" r="1.9" fill="#5548e0"/>
<circle cx="320.9" cy="449.6" r="1.7" fill="#5a4ee0"/>
<circle cx="354.4" cy="449.6" r="0.8" fill="#4a40dc"/>
<circle cx="220.6" cy="478.2" r="0.35" fill="#dddddd"/>
<circle cx="254.3" cy="478.2" r="1.5" fill="#d4d4d4"/>
<circle cx="287.9" cy="478.2" r="3.0" fill="#d4d4d4"/>
<circle cx="320.9" cy="478.2" r="3.0" fill="#d4d4d4"/>
<circle cx="354.4" cy="478.2" r="1.3" fill="#d8d8d8"/>
<text x="219.3" y="505.6" font-size="7.5" fill="#111" font-weight="normal" text-anchor="middle" font-style="italic" stroke="#111" stroke-width="0.1">Rela</text>
<text x="253.8" y="505.6" font-size="7.5" fill="#111" font-weight="normal" text-anchor="middle" font-style="italic" stroke="#111" stroke-width="0.1">Relb</text>
<text x="288.4" y="505.6" font-size="7.5" fill="#111" font-weight="normal" text-anchor="middle" font-style="italic" stroke="#111" stroke-width="0.1">Rel</text>
<text x="319" y="505.6" font-size="7.5" fill="#111" font-weight="normal" text-anchor="middle" font-style="italic" stroke="#111" stroke-width="0.1">Nfkb1</text>
<text x="354.8" y="505.6" font-size="7.5" fill="#111" font-weight="normal" text-anchor="middle" font-style="italic" stroke="#111" stroke-width="0.1">Nfkb2</text>
<text x="378" y="427" font-size="7" fill="#222" font-weight="normal" text-anchor="start"  textLength="56.4" lengthAdjust="spacingAndGlyphs" >Percent Expressed</text>
<circle cx="381.7" cy="434.60" r="0.9" fill="#111"/>
<text x="388.7" y="436.70" font-size="5.8" fill="#555" font-weight="normal" text-anchor="start"  >20</text>
<circle cx="381.7" cy="441.65" r="1.9" fill="#111"/>
<text x="388.7" y="443.75" font-size="5.8" fill="#555" font-weight="normal" text-anchor="start"  >40</text>
<circle cx="381.7" cy="448.70" r="2.7" fill="#111"/>
<text x="388.7" y="450.80" font-size="5.8" fill="#555" font-weight="normal" text-anchor="start"  >60</text>
<text x="378.5" y="462.8" font-size="7" fill="#222" font-weight="normal" text-anchor="start"  textLength="60" lengthAdjust="spacingAndGlyphs" >Average Expression</text>
<rect x="378.7" y="466.5" width="7" height="35.5" fill="url(#gE)"/>
<text x="388.7" y="471.10" font-size="5.8" fill="#555" font-weight="normal" text-anchor="start"  >1.0</text>
<text x="388.7" y="479.00" font-size="5.8" fill="#555" font-weight="normal" text-anchor="start"  >0.5</text>
<text x="388.7" y="487.00" font-size="5.8" fill="#555" font-weight="normal" text-anchor="start"  >0.0</text>
<text x="388.7" y="494.90" font-size="5.8" fill="#555" font-weight="normal" text-anchor="start"  >-0.5</text>
<text x="388.7" y="502.50" font-size="5.8" fill="#555" font-weight="normal" text-anchor="start"  >-1.0</text>
<text x="428.9" y="271.9" font-size="10" fill="#111" font-weight="normal" text-anchor="start"  textLength="4.4" lengthAdjust="spacingAndGlyphs" stroke="#111" stroke-width="0.25">F</text>
<text x="470.8" y="275.2" font-size="11.5" fill="#111" font-weight="bold" text-anchor="start"  textLength="70.5" lengthAdjust="spacingAndGlyphs" >Lesioned Skin</text>
<text x="458.4" y="390.4" font-size="11.5" fill="#111" font-weight="bold" text-anchor="start"  textLength="95" lengthAdjust="spacingAndGlyphs" >Non-Lesioned Skin</text>
<defs><clipPath id="cimg2"><rect x="457.6" y="394.3" width="92.7" height="92.5"/></clipPath><filter id="bl3" x="-20%" y="-20%" width="140%" height="140%"><feGaussianBlur stdDeviation="2.5"/></filter></defs>
<rect x="457.4" y="281.8" width="93.1" height="92.8" fill="#120809"/>
<path d="M513.6,339.8h0M472.7,370.1h0M546.7,294.8h0M495.5,303.8h0M482.6,293.9h0M504.5,373.9h0M547.4,309.2h0M548.1,313.6h0M505.9,332.7h0M500.9,344.7h0M525.9,284.5h0M512.5,311.8h0M482.3,354.5h0M484.7,334.5h0M519.0,330.0h0M540.8,335.3h0M501.9,354.1h0M469.2,363.7h0M505.8,287.2h0M503.1,296.9h0M462.0,363.6h0M496.5,284.1h0M522.0,289.0h0M462.1,290.9h0M505.0,347.9h0M512.0,361.0h0M539.8,310.6h0M476.5,334.6h0M546.3,325.3h0M464.4,302.4h0M473.6,286.6h0M525.1,290.4h0M489.0,285.2h0M500.1,311.1h0M511.0,318.4h0M499.2,356.5h0M535.9,292.8h0M531.4,332.3h0M472.0,325.3h0M503.9,284.2h0M498.2,351.8h0M464.3,360.4h0M532.0,306.2h0M495.1,297.9h0M514.0,323.0h0M495.1,311.6h0M480.0,286.1h0M480.2,318.1h0M515.3,314.2h0M487.2,287.7h0M512.5,282.8h0M475.4,329.1h0M489.3,326.3h0M494.3,369.2h0M468.5,318.2h0M491.4,320.4h0M545.3,286.4h0M542.2,313.5h0M465.4,341.9h0M471.2,372.7h0M530.6,331.5h0M513.0,361.1h0M498.8,317.2h0M500.7,349.1h0M464.2,330.0h0M488.8,321.9h0M487.7,351.1h0M484.9,368.0h0M463.6,325.7h0M483.4,322.1h0M526.7,308.8h0M541.6,323.1h0M538.6,316.6h0M478.5,370.0h0M507.3,297.7h0M508.8,327.4h0M532.6,323.7h0M496.5,306.3h0M508.8,308.1h0M513.0,293.1h0M544.8,311.5h0M461.3,320.7h0M474.1,327.0h0M520.1,341.7h0M483.8,294.5h0M544.0,283.2h0M548.2,305.0h0M486.1,296.1h0M535.3,297.9h0M538.3,293.0h0M504.6,316.7h0M489.4,371.8h0M489.4,341.5h0M493.3,372.3h0M463.1,327.7h0M487.7,282.5h0M470.8,290.0h0M486.9,323.2h0M498.6,344.9h0M465.8,285.1h0M503.1,372.7h0M493.8,329.3h0M521.6,290.1h0M539.3,301.0h0M542.5,318.7h0M518.9,330.8h0M476.7,288.0h0M494.5,301.9h0M479.8,316.1h0M489.3,292.7h0M513.1,321.3h0M520.4,308.9h0M513.8,346.7h0M469.0,333.0h0M537.9,329.7h0M502.1,345.1h0M548.0,321.8h0M511.9,318.0h0M470.1,349.2h0M546.8,315.3h0M481.8,290.4h0M519.0,323.0h0M534.8,315.6h0M493.7,356.2h0M515.7,322.9h0M489.8,303.5h0M506.0,321.5h0M485.2,289.2h0M459.2,314.0h0M486.4,334.0h0M468.5,344.8h0M504.8,340.2h0M505.1,370.5h0M491.3,328.2h0M513.4,285.1h0M476.9,291.4h0M546.0,326.1h0M462.5,319.3h0M489.3,321.9h0M491.5,348.9h0M505.2,293.1h0M541.4,322.3h0M493.5,371.8h0M464.5,305.4h0M473.6,312.5h0M509.2,284.3h0M549.8,297.9h0M507.3,283.4h0M475.1,372.3h0M474.1,355.3h0M491.4,282.9h0M538.5,332.7h0M519.2,300.9h0M518.9,285.1h0M506.0,343.7h0M537.1,308.3h0M473.8,316.6h0M546.2,321.9h0M506.7,358.0h0M519.8,282.6h0M501.8,304.5h0M491.4,331.6h0M474.5,325.9h0M479.1,373.8h0M490.1,317.0h0M514.8,371.7h0M531.4,319.8h0M535.7,286.4h0M480.5,296.9h0M527.9,318.4h0M534.0,315.1h0M472.2,314.0h0M533.7,342.2h0M530.1,326.4h0M490.7,364.6h0M498.3,349.4h0M458.2,300.5h0M476.1,323.2h0M460.2,290.7h0M495.6,337.6h0M508.0,361.8h0M484.9,358.7h0M487.1,288.7h0M515.1,325.5h0M523.8,317.7h0M464.2,354.1h0M481.9,325.0h0M523.8,301.9h0M525.8,336.0h0M464.8,336.7h0M461.9,320.1h0M537.3,321.9h0M492.7,362.0h0M474.3,346.6h0M525.8,314.3h0M503.1,351.3h0M458.7,305.3h0M464.4,340.1h0M466.8,289.2h0M462.3,303.2h0M501.8,361.4h0M484.7,291.6h0M534.5,334.9h0M474.0,348.2h0M520.2,313.5h0M463.6,338.4h0M486.0,364.6h0M549.7,292.4h0M502.9,306.2h0M484.3,355.5h0M472.8,328.8h0M472.5,359.1h0M527.6,314.6h0M466.7,323.2h0M465.8,308.1h0M522.8,283.1h0M527.0,316.7h0M541.1,339.7h0M500.2,290.0h0M499.6,360.3h0M484.9,325.1h0M472.6,365.7h0M492.6,337.6h0M544.7,304.2h0M482.2,353.9h0M504.8,325.7h0M522.4,309.1h0M540.0,289.3h0M497.5,285.6h0M507.4,323.1h0M486.9,337.2h0M540.1,334.8h0M492.5,351.6h0M527.8,316.5h0M508.3,291.7h0M532.6,334.1h0M545.7,335.1h0M487.0,308.9h0M548.1,290.7h0M493.8,355.7h0M501.3,329.0h0M460.8,322.6h0M534.3,323.0h0M491.8,319.7h0M491.9,294.3h0M474.6,364.1h0M513.5,367.0h0M474.5,310.3h0M461.4,344.4h0M494.7,356.6h0M544.4,298.6h0M467.4,359.9h0M474.4,300.0h0M501.4,328.6h0M479.0,307.9h0M487.2,303.4h0M491.1,346.7h0M471.0,338.3h0M531.1,301.7h0M517.7,313.0h0M478.3,299.6h0M492.0,343.7h0M519.2,313.7h0M493.6,344.9h0M508.5,373.8h0M478.4,309.2h0M490.8,312.7h0M533.0,336.5h0M495.3,351.5h0M525.4,306.2h0M466.7,340.6h0M459.0,315.1h0M476.6,336.1h0M533.3,322.2h0M462.3,343.7h0M498.5,338.0h0M518.7,319.6h0M537.7,299.6h0M485.8,344.3h0M491.6,321.7h0M492.4,347.4h0M534.8,298.6h0M520.5,328.7h0M498.2,348.9h0M527.0,298.3h0M490.8,334.9h0M466.2,283.1h0M498.9,342.4h0M531.1,289.3h0M485.4,309.9h0M482.5,313.8h0M502.3,290.7h0M513.0,303.8h0M480.3,285.7h0M505.1,372.8h0M512.7,358.7h0M497.6,339.5h0M500.7,367.7h0M509.2,346.8h0M541.2,316.0h0M481.2,330.8h0M494.6,357.4h0M509.0,371.5h0M476.2,315.2h0M471.8,372.7h0M470.2,366.1h0M501.3,337.8h0M472.3,346.2h0M492.0,341.7h0M469.4,294.3h0M519.5,317.5h0M520.3,293.3h0M478.0,339.7h0M461.5,308.5h0M491.5,336.5h0M490.3,355.7h0M496.8,324.0h0M549.9,286.8h0M533.8,282.5h0M463.3,309.7h0M507.8,364.0h0M484.3,344.0h0M464.0,312.9h0M465.2,362.8h0M492.4,314.6h0M502.5,341.8h0M514.3,320.4h0M532.3,331.2h0M542.7,306.5h0M487.5,308.7h0M479.7,299.7h0M490.6,355.3h0M474.9,363.8h0M537.3,312.0h0M478.2,353.6h0M478.3,305.8h0M490.0,305.2h0M489.1,370.8h0M510.6,324.6h0M491.9,325.0h0M510.1,289.7h0M492.9,331.0h0M512.7,306.3h0M535.3,285.8h0M479.2,360.8h0M460.7,296.3h0M478.3,320.2h0M502.9,371.6h0M526.7,320.6h0M467.7,368.3h0M472.1,318.2h0M509.8,289.5h0M459.9,332.6h0M535.9,293.2h0M487.4,320.2h0M531.9,288.2h0M531.4,297.6h0M524.8,321.5h0M490.9,328.0h0M470.5,313.3h0M483.8,340.1h0M475.9,299.0h0M516.6,301.8h0M548.7,301.8h0M462.6,303.0h0M503.8,345.4h0M514.9,284.9h0M516.0,286.5h0M545.5,318.0h0M541.7,301.5h0M492.9,357.3h0M535.7,318.9h0M464.3,318.3h0M506.7,300.6h0M536.1,340.4h0M488.3,306.3h0M472.0,365.7h0M510.2,293.2h0M463.7,367.8h0M521.8,327.1h0M479.9,332.7h0M523.5,327.2h0M495.1,315.2h0M530.3,314.4h0M491.5,318.5h0M478.3,297.1h0M495.3,347.8h0M513.2,329.5h0M464.4,342.5h0M477.7,290.9h0M498.6,337.3h0M485.1,304.6h0M468.6,297.8h0M488.4,313.9h0M458.4,293.7h0M504.2,361.3h0M499.4,287.4h0M542.7,313.9h0M501.5,353.1h0M492.7,310.2h0M499.6,336.3h0M473.9,357.2h0M542.8,295.1h0M467.9,286.5h0M493.3,326.9h0M514.0,364.5h0M508.1,329.9h0M467.9,324.4h0M535.9,316.1h0M549.9,293.4h0M539.2,308.8h0M476.3,372.0h0M469.2,287.4h0M546.7,340.5h0M487.1,310.3h0M473.1,293.5h0M461.8,328.8h0M468.0,310.8h0M513.6,306.0h0M546.9,304.3h0M540.5,303.9h0M490.6,362.1h0M506.9,369.7h0M526.4,298.3h0M526.1,297.8h0M467.5,296.3h0M503.4,361.7h0M539.9,325.2h0M523.9,318.8h0M537.6,318.1h0M519.9,288.0h0M521.0,327.2h0M485.3,288.2h0M485.0,328.1h0M534.3,288.0h0M490.3,329.8h0M499.7,335.7h0M515.5,307.4h0M543.7,311.8h0M518.3,300.4h0M468.7,291.3h0M510.7,314.3h0M473.7,353.8h0M492.5,370.9h0M538.4,316.7h0M459.4,361.4h0M476.6,302.8h0M488.1,317.0h0M485.3,348.0h0M515.9,337.3h0M474.6,354.3h0M533.0,319.3h0M519.4,309.4h0M522.5,306.9h0M474.7,315.8h0M533.4,334.1h0M496.3,355.3h0M512.6,309.5h0M482.7,313.2h0M478.9,361.5h0M515.4,314.8h0M540.7,309.8h0M498.4,362.4h0M490.6,345.4h0M467.1,298.2h0M519.6,307.8h0M537.9,339.7h0M472.9,307.0h0M500.0,288.0h0M497.0,329.6h0M507.3,331.9h0M509.7,314.4h0M522.4,308.2h0M500.8,286.4h0M495.6,308.5h0M495.1,326.6h0M483.5,325.9h0M503.5,302.6h0M471.2,327.1h0M514.8,372.8h0M511.4,303.7h0M519.7,314.5h0M474.3,315.8h0M500.5,309.8h0M476.8,373.3h0M461.3,372.2h0M492.3,295.0h0M474.4,292.2h0M537.4,307.3h0M494.4,349.5h0M495.5,306.0h0M461.7,313.2h0M478.1,288.0h0M471.3,292.2h0M496.0,287.0h0M468.9,320.2h0M526.3,325.2h0M475.4,297.7h0M475.3,370.0h0M465.9,365.7h0M500.9,367.2h0M502.5,335.6h0M511.3,314.5h0M509.8,309.4h0M469.6,357.0h0M506.0,308.3h0M489.9,350.4h0M531.7,288.4h0M488.2,331.4h0M458.8,316.6h0M476.4,285.0h0M493.1,364.3h0M520.0,286.8h0M517.5,321.8h0M493.5,325.8h0M500.2,319.8h0M470.9,328.8h0M508.8,351.7h0M471.9,303.7h0M528.3,324.3h0M464.4,322.8h0M548.1,310.4h0M487.9,344.9h0M532.2,331.8h0M476.5,333.0h0M525.4,341.0h0M504.3,308.1h0M473.7,307.9h0M493.0,321.0h0M542.3,322.4h0M530.3,310.7h0M527.0,321.3h0M509.8,317.3h0M538.6,299.4h0M477.2,329.6h0M458.1,340.7h0M468.0,282.8h0M485.3,362.0h0M473.6,294.8h0M490.9,333.6h0M502.0,300.3h0M531.5,286.3h0M494.4,342.8h0M462.9,367.7h0M489.5,355.4h0M528.4,301.8h0M463.9,352.4h0M532.6,331.2h0M538.4,310.2h0M504.4,367.4h0M499.6,352.4h0M517.2,322.0h0M495.6,369.9h0M502.6,305.9h0M482.6,364.6h0M459.8,301.3h0M535.7,307.6h0M499.3,345.0h0M474.7,318.2h0M515.8,286.6h0M494.3,327.6h0M497.1,329.9h0M478.3,292.8h0M496.2,299.9h0M498.6,350.8h0M488.1,292.9h0M510.3,314.9h0M478.3,285.0h0M467.7,305.1h0M503.1,314.0h0M486.5,338.6h0M458.9,299.1h0M491.0,354.7h0M538.6,290.3h0M546.7,305.2h0M531.7,303.9h0M493.7,341.7h0M504.6,285.1h0M546.9,320.8h0M492.7,354.5h0M485.5,333.7h0M469.3,329.1h0M481.0,350.3h0M514.5,322.4h0M481.2,369.9h0M462.3,290.1h0M506.6,320.6h0M499.2,302.1h0M490.6,333.2h0M464.3,368.4h0M491.9,283.4h0M540.9,292.5h0M504.1,367.5h0M529.7,305.1h0M468.4,329.8h0M458.2,305.0h0M516.6,325.0h0M468.6,306.6h0M541.4,337.9h0M462.6,310.5h0M536.8,302.6h0M547.5,297.7h0M458.8,292.0h0M480.2,363.9h0M497.7,311.6h0M503.5,301.7h0M503.7,286.9h0M489.7,307.7h0M496.2,288.0h0M505.7,336.9h0M514.2,299.7h0M477.7,334.9h0M523.2,341.4h0M544.4,285.9h0M504.9,307.9h0M507.5,362.0h0M513.4,327.2h0M489.4,304.9h0M466.7,348.1h0M479.9,289.9h0M486.4,333.3h0M488.8,347.9h0M516.9,341.8h0M515.0,334.5h0M531.4,284.8h0M522.9,329.3h0M492.1,327.9h0M493.7,335.1h0M492.6,354.2h0M535.8,308.4h0M521.4,315.7h0M535.2,321.9h0M473.0,352.4h0M472.3,321.7h0M483.4,325.7h0M476.7,316.1h0M484.6,364.6h0M509.8,305.1h0M489.3,361.9h0M549.2,343.5h0M460.5,314.8h0M545.2,286.5h0M543.8,298.0h0M506.2,289.9h0M491.8,368.1h0M459.7,300.8h0M535.9,329.0h0M493.1,291.4h0M477.7,292.2h0M460.4,285.4h0M479.9,360.3h0M476.0,320.1h0M538.2,294.6h0M516.9,325.5h0M536.8,319.0h0M491.6,333.3h0M481.8,339.8h0M465.7,357.9h0M546.8,284.0h0M474.4,300.6h0M466.9,316.3h0M486.3,373.0h0M484.6,290.8h0M493.6,329.4h0M520.6,324.1h0M500.9,369.8h0M519.4,285.1h0M475.1,324.5h0M518.2,302.1h0M526.8,328.1h0M497.5,310.2h0M529.2,314.5h0M510.7,324.3h0M547.1,331.3h0M476.8,344.6h0M461.9,341.8h0M497.4,350.2h0M487.8,336.3h0M517.8,338.7h0M479.5,323.3h0M516.0,305.2h0M493.0,316.5h0M482.8,304.1h0M531.5,295.7h0M476.6,299.2h0M524.5,295.3h0M486.5,342.4h0M479.9,329.1h0M509.6,306.2h0M463.9,337.7h0M459.2,282.8h0M479.1,301.7h0M499.5,345.6h0M466.1,316.6h0M487.6,283.3h0M528.8,335.2h0M474.6,305.5h0M501.7,313.6h0M484.0,365.0h0M526.4,343.4h0M466.6,357.0h0M486.1,356.5h0M489.7,291.6h0M525.1,315.1h0M490.0,352.8h0M540.2,325.0h0M461.7,354.0h0M481.1,335.0h0M494.5,303.0h0M498.8,297.4h0M491.8,288.2h0M463.0,339.4h0M504.7,305.3h0M485.6,295.4h0M537.2,312.3h0M492.5,300.7h0M468.2,342.1h0M512.1,292.2h0M488.8,337.5h0M503.3,313.6h0M463.0,324.5h0M469.4,326.7h0M521.9,317.2h0M544.5,302.7h0M492.8,371.5h0M522.3,283.6h0M515.5,294.5h0M479.5,349.1h0M465.8,333.0h0M517.2,311.9h0M511.0,307.5h0M522.7,316.0h0M482.7,358.7h0M509.8,310.3h0M506.7,314.5h0M495.3,309.8h0M498.5,372.4h0M537.9,313.3h0M504.6,323.5h0M529.1,303.4h0M474.6,327.9h0M504.5,324.2h0M499.4,353.9h0M520.2,308.3h0M533.5,301.5h0M534.3,307.0h0M511.0,344.9h0M488.0,350.6h0M507.1,316.9h0M541.0,327.1h0M533.9,323.6h0M479.4,296.6h0M514.2,348.3h0M485.2,321.8h0M490.0,331.3h0M461.3,321.5h0M509.5,322.9h0M469.4,291.8h0M530.5,300.9h0M482.5,313.7h0M542.7,311.9h0M475.2,304.6h0M460.8,347.8h0M481.6,310.7h0M479.0,301.7h0M481.1,304.2h0M525.1,314.6h0M475.2,283.4h0M467.1,358.3h0M533.1,284.9h0M493.2,356.9h0M484.9,287.2h0M470.0,364.7h0M475.0,293.9h0M528.6,283.1h0M472.3,360.8h0M483.0,325.4h0M541.2,287.3h0M509.7,300.0h0M479.2,303.6h0M479.0,292.2h0M467.7,312.5h0M538.4,296.5h0M469.9,311.8h0M531.7,329.8h0M475.5,337.5h0M503.8,347.1h0M513.4,342.1h0M504.5,357.0h0M509.3,361.9h0M469.8,329.3h0M486.6,286.9h0M534.2,303.1h0M489.9,342.8h0" stroke="#2020c4" stroke-width="1.0" stroke-linecap="round" fill="none"/>
<path d="M498.1,339.8h0M510.4,347.8h0M548.8,311.3h0M465.4,350.4h0M499.5,303.1h0M469.0,304.9h0M514.3,313.7h0M462.6,307.3h0M475.6,312.6h0M470.0,285.1h0M511.3,355.6h0M544.0,288.1h0M493.3,362.3h0M475.8,331.0h0M524.2,316.1h0M507.1,297.1h0M489.8,357.6h0M465.9,325.1h0M497.8,313.5h0M461.4,373.6h0M485.0,289.2h0M483.6,305.9h0M543.7,338.5h0M517.7,294.5h0M470.0,337.7h0M523.4,315.6h0M478.7,295.2h0M491.5,329.9h0M474.9,292.0h0M525.4,335.9h0M509.8,317.8h0M473.2,343.5h0M502.6,350.1h0M494.4,372.3h0M480.4,291.3h0M515.6,329.5h0M480.1,295.8h0M489.7,302.3h0M529.9,324.1h0M541.2,306.8h0M512.6,305.5h0M469.2,298.4h0M492.0,360.7h0M462.9,317.2h0M522.2,283.8h0M498.0,346.7h0M544.2,339.7h0M468.9,316.1h0M536.3,335.6h0M496.0,284.4h0M533.0,316.3h0M501.5,351.6h0M538.9,341.1h0M515.6,337.9h0M470.6,319.4h0M480.7,312.1h0M540.9,312.9h0M479.4,372.1h0M463.2,304.4h0M464.9,283.3h0M528.4,304.5h0M516.7,329.6h0M460.7,332.8h0M509.3,288.3h0M490.1,300.1h0M486.0,301.5h0M486.5,339.7h0M500.0,296.7h0M480.7,357.9h0M506.7,284.6h0M504.7,331.9h0M529.7,313.8h0M514.8,309.5h0M484.1,298.4h0M485.2,313.7h0M465.6,290.7h0M515.6,294.6h0M500.5,364.5h0M520.6,303.1h0M521.5,341.3h0M523.2,307.1h0M466.4,310.7h0M499.2,291.2h0M522.0,331.4h0M501.2,299.5h0M542.7,301.2h0M518.6,283.0h0M542.4,305.4h0M542.4,307.9h0M521.7,312.6h0M529.7,336.2h0M505.5,368.0h0M492.6,345.9h0M492.8,282.6h0M515.2,295.9h0M498.5,309.7h0M486.3,350.5h0M488.6,326.4h0M493.2,315.0h0M526.5,301.3h0M473.0,283.5h0M475.3,361.9h0M459.2,329.6h0M490.7,330.6h0M508.4,316.3h0M539.7,319.8h0M479.2,311.8h0M531.5,334.1h0M478.8,321.0h0M465.7,340.3h0M484.4,332.7h0M482.3,342.9h0M506.0,334.8h0M458.8,359.8h0M491.8,308.4h0M472.7,290.6h0M479.7,357.3h0M492.0,366.3h0M473.9,319.9h0M472.4,368.7h0M468.0,323.0h0M488.5,371.7h0M496.8,285.5h0M509.9,296.8h0M482.2,360.6h0M521.2,324.2h0M481.6,334.3h0M480.4,365.7h0M496.1,310.2h0M483.4,323.2h0M473.6,371.9h0M471.4,355.8h0M494.3,337.7h0M496.2,370.0h0M477.2,292.4h0M494.4,335.4h0M462.4,283.7h0M479.5,300.1h0M540.2,303.4h0M501.1,299.3h0M532.3,342.3h0M497.1,350.1h0M489.6,341.9h0M502.4,326.4h0M463.7,307.1h0M543.1,288.8h0M483.8,314.2h0M544.2,294.6h0M523.3,320.9h0M537.9,343.5h0M466.8,290.3h0M460.1,342.8h0M508.5,335.5h0M536.0,331.1h0M492.1,323.7h0M544.2,328.2h0M489.9,300.3h0M500.8,301.5h0M462.6,312.7h0M503.2,343.4h0M529.9,327.3h0M460.4,321.0h0M501.5,304.8h0M532.6,290.6h0M504.9,314.6h0M466.4,335.6h0M504.6,372.1h0M489.9,312.2h0M458.2,323.3h0M469.8,342.0h0M471.2,314.3h0M497.4,369.9h0M479.0,353.3h0M502.9,287.5h0M486.7,321.2h0M507.7,337.5h0M517.8,297.6h0M529.8,312.4h0M483.3,298.3h0M465.8,326.4h0M492.1,369.1h0M460.9,339.6h0M523.1,321.7h0M541.8,323.7h0M547.7,320.0h0M525.8,340.6h0M491.3,297.3h0M495.3,330.5h0M527.5,303.2h0M531.2,306.8h0M492.6,353.5h0M483.1,287.1h0M501.5,325.0h0M549.9,323.0h0M478.7,310.8h0M489.2,297.0h0M523.0,288.6h0M499.0,344.0h0M526.7,295.7h0M473.3,307.7h0M543.7,317.7h0M470.3,373.5h0M493.7,325.5h0" stroke="#2020c4" stroke-width="2.0" stroke-linecap="round" fill="none"/>
<path d="M528.3,312.0h0M506.3,323.4h0M468.0,323.9h0M491.4,324.7h0M502.7,353.5h0M547.2,287.0h0M474.2,321.8h0M459.4,372.9h0M492.0,367.9h0M464.1,291.3h0M474.0,359.2h0M501.0,295.1h0M527.9,338.0h0M543.4,333.5h0M480.6,359.2h0M549.4,336.7h0M474.9,334.4h0M469.8,332.8h0M478.6,345.2h0M538.5,306.6h0M478.4,315.6h0M477.2,305.7h0M476.5,336.2h0M539.7,295.3h0M545.7,295.2h0M478.1,313.4h0M471.8,346.6h0M507.6,349.0h0M464.9,362.7h0M467.4,370.8h0M519.0,314.5h0M502.5,363.7h0M508.6,315.4h0M543.1,309.2h0M527.6,301.5h0M505.2,346.2h0M504.2,319.0h0M482.5,306.2h0M504.2,344.9h0M462.0,369.6h0M463.3,293.6h0M533.9,336.6h0M504.2,332.5h0M492.9,347.9h0M497.4,352.7h0M473.1,334.0h0M548.8,328.3h0M539.7,324.4h0M490.2,373.8h0M497.6,337.8h0M468.0,362.1h0M495.8,286.6h0M525.2,306.8h0M497.0,321.7h0M485.1,307.1h0M481.5,298.1h0M500.8,319.3h0M494.0,357.4h0M471.0,356.4h0M515.5,283.5h0M536.5,343.1h0M474.5,326.9h0M486.2,366.1h0M503.4,312.0h0M526.6,286.0h0M540.2,307.6h0M534.4,314.9h0M503.4,326.5h0M540.4,283.4h0M506.4,284.1h0M502.8,372.1h0M518.0,319.2h0M480.7,303.9h0M547.4,322.6h0M498.0,287.9h0M488.8,293.6h0M544.1,342.6h0M467.0,307.3h0M481.6,289.6h0M474.9,284.6h0M549.0,313.5h0M476.3,366.0h0M528.8,323.5h0M512.8,356.6h0M508.9,288.0h0M481.6,342.9h0M509.3,288.3h0M474.2,334.9h0M475.3,297.6h0M507.2,349.3h0M480.6,346.7h0M460.3,323.6h0M465.5,317.4h0M463.6,308.0h0M462.8,362.4h0M510.2,349.5h0M479.7,318.8h0M503.5,350.5h0M463.1,340.2h0M538.1,307.9h0M540.8,283.1h0M499.4,363.4h0M501.9,315.1h0M471.3,346.1h0M510.1,307.9h0M537.2,291.7h0M492.3,326.0h0M525.8,308.5h0" stroke="#3434f0" stroke-width="1.0" stroke-linecap="round" fill="none"/>
<path d="M540.9,315.9h0M472.7,344.0h0M494.7,297.9h0M500.4,336.0h0M539.8,329.1h0M528.2,290.2h0M481.8,322.2h0M492.5,352.3h0M459.8,339.3h0M527.2,335.8h0M525.8,322.6h0M509.3,343.1h0M464.0,332.7h0M509.7,304.6h0M548.7,316.2h0M492.0,345.3h0M549.4,340.4h0M484.1,353.5h0M510.9,330.7h0M534.6,287.0h0M494.3,370.8h0M546.7,300.0h0M469.5,339.8h0M507.3,363.3h0M527.6,338.0h0M480.3,303.1h0M486.8,354.1h0M492.5,321.1h0M514.2,336.7h0M466.6,301.1h0M505.1,363.4h0M545.4,310.1h0M459.4,337.2h0M512.4,294.1h0M503.5,371.8h0" stroke="#3a1010" stroke-width="1.0" stroke-linecap="round" fill="none"/>
<rect x="457.6" y="394.3" width="92.7" height="92.5" fill="#0b0805"/>
<polygon points="457.9,395.9 513.0,395.9 513.0,424.9 507.2,440.3 489.8,447.1 474.3,450.0 466.6,455.8 457.9,455.8" fill="#1c1c12" filter="url(#bl3)" clip-path="url(#cimg2)"/>
<polyline points="536.2,395.9 543.9,403.6 548.8,417.1 547.8,430.7 540.1,438.4 532.3,440.3 528.5,446.1 526.5,455.8 520.7,463.5 513.0,469.3 501.4,471.3" fill="none" stroke="#3a1410" stroke-width="1.2"/>
<polyline points="541.0,395.9 549.7,407.5 550.1,430.7" fill="none" stroke="#301010" stroke-width="1"/>
<path d="M466.7,444.8h0M514.1,442.5h0M484.0,446.2h0M513.2,438.4h0M534.0,429.3h0M488.1,407.5h0M522.6,438.5h0M524.8,411.1h0M546.9,442.8h0M530.7,423.9h0M467.1,438.6h0M512.0,431.1h0M498.7,446.7h0M523.5,434.5h0M537.0,428.6h0M464.7,411.8h0M520.2,439.1h0M485.3,464.8h0M465.4,438.9h0M528.5,423.5h0M463.6,464.3h0M478.8,433.7h0M511.1,448.3h0M521.1,429.7h0M519.0,452.8h0M480.3,453.4h0M518.3,418.6h0M535.5,406.1h0M479.5,456.9h0M499.7,405.8h0M524.9,423.6h0M502.7,399.8h0M487.1,452.1h0M469.8,449.0h0M521.9,396.5h0M488.5,437.5h0M512.6,421.0h0M511.1,439.8h0M526.5,410.0h0M526.2,414.7h0M498.2,461.9h0M528.0,396.4h0M523.2,425.6h0M528.5,400.2h0M462.7,441.0h0M502.9,459.7h0M487.0,452.6h0M481.6,443.1h0M483.7,435.5h0M491.9,461.8h0M523.8,416.9h0M490.5,443.0h0M485.7,437.1h0M517.4,399.4h0M475.7,443.7h0M487.7,458.8h0M497.4,442.8h0M490.9,441.7h0M492.2,440.9h0M530.3,415.5h0M500.5,448.6h0M516.6,406.3h0M522.6,422.1h0M512.2,400.0h0M521.7,442.9h0M476.7,448.4h0M504.8,457.3h0M514.9,444.0h0M475.8,447.5h0M479.6,453.6h0M498.4,439.4h0M485.2,459.6h0M512.6,414.7h0M482.9,453.0h0M488.9,459.3h0M523.9,404.5h0M508.2,440.8h0M513.4,442.2h0M479.6,463.3h0M475.8,460.9h0M511.9,408.4h0M517.6,406.1h0M481.4,440.2h0M460.2,444.3h0M532.2,396.8h0M531.1,413.3h0M494.5,483.3h0M473.7,436.4h0M484.7,482.1h0M480.1,443.9h0M494.0,419.6h0M481.5,447.7h0M473.8,436.7h0M526.8,435.0h0M501.4,467.6h0M499.1,414.0h0M502.7,461.7h0M515.5,399.7h0M511.9,410.1h0M506.8,458.1h0M516.9,425.1h0" stroke="#2626dc" stroke-width="2.0" stroke-linecap="round" fill="none"/>
<path d="M497.2,449.4h0M540.2,403.1h0M476.7,453.5h0M493.8,443.8h0M539.1,410.7h0M518.1,432.7h0M514.0,430.2h0M528.2,443.5h0M504.2,444.7h0M532.5,413.6h0M526.8,414.9h0M521.4,415.8h0M515.2,438.9h0M500.5,465.5h0M521.1,412.1h0M522.7,427.8h0M495.2,457.0h0M493.8,440.8h0M478.3,439.4h0M525.0,416.3h0M513.4,449.7h0M526.4,427.8h0M522.4,434.3h0M542.2,422.7h0M539.7,415.6h0M495.0,454.0h0M514.3,400.1h0M531.8,397.2h0M504.5,461.2h0M531.1,423.2h0M542.1,420.9h0M540.7,406.4h0M540.1,409.7h0M466.9,435.5h0M497.7,439.2h0M496.2,447.7h0M504.1,457.0h0M543.1,422.8h0M462.7,439.7h0M523.3,443.1h0M519.1,470.2h0M467.1,484.8h0M481.5,449.9h0M505.9,445.3h0M487.5,451.4h0M489.4,460.2h0M504.2,465.8h0M478.3,442.2h0M471.1,437.8h0M531.0,417.2h0M528.9,404.6h0M528.3,415.8h0M505.8,456.1h0M467.2,432.3h0M477.8,456.0h0M531.3,421.4h0M509.0,472.4h0M516.7,447.7h0M501.5,446.5h0M469.8,440.7h0M484.0,453.6h0M461.4,436.2h0M476.6,454.0h0M512.9,396.9h0M490.5,451.5h0M540.8,424.7h0M523.5,430.0h0M528.3,418.3h0M469.9,441.9h0M481.5,418.8h0M507.5,450.1h0M463.3,445.8h0M474.6,431.8h0M529.1,419.3h0M516.1,431.3h0M511.0,436.7h0M514.3,470.2h0M508.0,456.3h0M522.3,445.7h0M496.2,468.6h0M539.7,415.2h0M543.0,421.1h0M516.2,444.3h0M500.6,400.2h0M508.1,460.6h0M481.3,453.1h0M505.9,460.7h0M476.5,399.6h0M517.6,447.3h0M533.9,420.2h0M494.7,405.0h0M539.0,423.5h0M489.6,460.2h0M518.6,419.8h0M469.2,435.3h0M493.0,414.9h0M515.8,405.1h0M529.0,414.6h0M478.3,455.5h0M524.0,400.9h0M482.6,454.7h0M502.7,451.8h0M495.4,456.2h0M509.2,450.0h0M548.4,420.1h0M489.0,449.7h0M463.0,448.5h0M533.8,424.0h0M492.2,398.1h0M536.0,427.9h0M534.5,398.5h0M517.3,411.9h0M504.4,449.5h0M521.7,397.3h0M522.8,443.4h0M512.5,443.0h0M529.0,432.4h0M514.3,454.6h0M467.4,439.3h0M505.9,463.9h0M461.2,435.4h0M529.9,401.4h0M516.8,443.9h0M497.4,415.3h0M513.4,398.9h0M526.9,420.1h0M532.7,412.6h0M507.4,451.3h0M496.9,456.6h0M499.6,440.2h0M478.8,460.8h0M524.8,417.3h0M505.8,449.2h0M508.2,453.8h0M518.9,435.2h0M464.5,414.6h0M509.8,461.7h0M493.3,460.6h0M463.5,448.3h0M538.0,405.9h0M464.2,445.9h0M531.5,399.9h0M521.4,414.1h0M543.7,412.7h0M498.0,466.5h0M465.1,442.0h0M470.2,476.5h0M505.4,451.0h0M528.1,426.4h0M517.4,426.8h0M524.5,405.9h0M482.6,442.8h0M500.9,457.3h0M516.7,441.8h0M483.5,421.2h0M478.7,456.9h0M506.6,442.9h0M530.3,398.5h0M494.7,468.3h0M522.1,427.2h0M541.6,404.2h0M458.9,443.4h0M490.2,442.7h0M495.4,415.5h0M518.6,476.7h0M522.3,445.6h0M463.2,435.5h0M548.2,439.1h0M493.6,467.9h0M486.9,460.2h0M480.6,435.8h0M487.4,477.6h0M494.8,465.1h0M505.6,444.0h0M511.1,400.6h0M514.2,448.5h0M519.3,423.4h0M484.8,465.1h0M519.0,402.5h0M507.2,460.0h0M489.0,452.2h0M495.0,445.6h0M487.9,438.3h0M527.1,424.7h0M503.3,442.3h0M481.4,457.0h0M510.9,456.5h0M482.7,440.6h0M482.4,455.1h0M490.2,447.3h0M482.0,461.1h0M510.2,439.0h0M500.9,449.2h0M539.2,405.5h0M510.8,436.7h0M519.3,426.6h0M523.1,421.1h0M476.8,447.0h0M542.5,430.4h0M487.7,456.2h0M503.1,400.8h0M515.0,424.6h0M503.0,400.1h0M501.4,463.1h0M500.9,457.6h0M511.7,448.4h0M493.2,452.8h0M475.6,398.3h0M503.2,443.8h0M489.0,448.4h0M469.2,462.5h0M510.4,454.7h0M517.3,450.8h0M536.2,417.0h0M546.2,409.0h0M497.8,440.3h0M523.1,417.7h0M471.6,445.5h0M534.5,402.2h0M485.0,466.4h0M487.9,454.1h0M490.3,410.4h0M514.6,450.2h0M487.0,461.0h0M485.3,477.0h0M524.5,436.7h0M504.4,466.8h0M537.9,428.3h0M525.8,407.0h0M530.5,404.4h0M479.3,461.4h0M523.5,403.7h0M527.5,405.3h0M536.4,402.6h0M523.8,436.9h0M538.0,422.9h0M516.1,402.5h0M514.7,430.6h0M460.3,446.2h0M529.6,415.0h0M524.9,413.6h0M461.2,439.3h0M475.8,440.8h0M534.3,412.3h0M472.6,445.0h0M529.0,416.7h0M508.7,471.9h0M537.2,405.2h0M474.8,461.1h0M492.2,468.2h0M515.4,405.1h0M531.3,406.4h0M503.7,453.4h0M494.7,450.1h0M523.4,405.7h0M516.1,428.8h0M510.9,438.7h0M533.1,427.7h0M465.1,411.0h0M507.5,442.7h0M510.9,435.9h0M515.8,404.8h0M477.5,452.8h0M478.5,454.5h0M487.1,461.0h0M462.2,398.2h0M481.9,434.2h0M513.4,430.7h0M481.7,438.7h0M495.1,457.0h0M537.3,398.3h0M485.3,444.6h0M534.0,404.9h0M505.0,403.0h0M501.8,443.7h0M544.8,402.0h0M526.0,418.5h0M505.1,460.8h0M510.5,457.2h0M503.5,448.4h0M509.2,453.9h0M516.0,435.9h0M480.5,450.0h0M469.4,444.2h0M496.2,447.3h0M486.4,449.2h0M483.3,466.0h0M482.9,445.8h0M525.2,433.5h0M542.9,421.9h0M463.7,447.7h0M516.0,443.7h0M517.6,438.9h0M513.9,435.2h0M515.5,427.6h0M517.4,398.5h0M526.1,417.2h0M494.3,411.8h0M522.6,420.4h0M513.7,424.0h0M507.0,463.8h0M487.9,445.1h0M514.6,441.0h0M518.2,451.9h0M476.7,459.5h0M516.8,430.9h0M496.4,460.0h0M511.2,435.6h0M528.4,426.7h0M484.0,450.2h0M513.6,426.6h0M482.6,448.5h0M460.4,437.9h0M498.5,461.0h0M527.5,411.5h0M489.9,445.6h0M499.0,466.3h0M490.2,456.0h0M479.0,411.0h0M506.0,462.2h0M499.2,458.7h0M501.9,471.2h0M542.5,416.2h0M515.9,448.6h0M485.5,465.7h0M536.4,424.3h0M485.3,464.9h0M475.9,432.0h0M478.5,462.3h0M507.5,445.7h0M495.3,454.8h0M532.2,395.2h0M502.6,418.2h0M472.3,469.0h0M516.6,423.8h0M462.1,437.1h0M483.8,457.8h0M489.1,398.7h0M491.1,401.9h0M484.7,459.0h0M515.2,436.8h0M508.1,452.1h0M523.1,417.2h0M536.9,447.1h0M519.8,411.6h0M486.9,446.3h0M495.6,452.7h0M513.7,401.2h0M493.4,412.1h0M536.7,427.0h0M503.0,485.6h0M494.5,444.0h0M519.8,397.4h0M481.7,454.4h0M477.5,455.5h0M493.5,447.5h0M542.3,425.2h0M522.2,433.1h0M495.7,410.3h0M485.3,442.8h0M527.2,423.2h0M495.2,468.5h0M519.4,402.1h0M541.0,416.8h0M538.1,421.3h0M516.2,404.8h0M490.9,435.0h0M460.0,436.6h0M484.0,442.8h0M460.9,439.5h0M458.8,439.4h0M517.8,421.7h0M526.2,429.8h0M497.2,404.2h0M505.6,444.5h0M542.4,425.0h0M462.0,440.4h0M478.5,445.8h0M467.6,447.2h0M516.6,398.0h0M541.5,415.1h0M491.6,407.1h0M540.6,424.9h0M467.3,435.4h0M519.4,433.9h0M537.9,424.9h0M523.5,430.7h0M503.5,458.0h0M514.4,424.6h0M516.4,417.4h0M529.3,429.7h0M489.8,438.3h0M495.8,416.7h0M505.8,449.0h0M513.9,415.5h0M516.7,442.9h0M519.8,410.7h0M511.5,400.8h0M498.5,457.1h0M483.2,398.6h0M517.4,443.4h0M543.6,419.6h0M486.8,437.2h0M462.0,442.2h0M542.2,420.4h0M502.0,461.0h0M464.1,430.2h0M492.8,421.5h0M482.4,459.0h0M523.3,420.9h0M506.9,447.2h0M471.3,450.0h0M505.2,446.9h0M497.8,464.8h0M518.2,424.7h0M526.5,403.6h0M529.4,397.2h0M513.4,456.1h0M518.7,444.6h0M490.9,462.4h0M473.7,441.3h0M533.7,410.4h0M496.9,403.0h0M544.3,412.2h0M518.2,408.1h0M479.6,443.3h0M503.0,403.7h0M487.3,462.3h0M543.9,415.0h0M517.2,454.3h0M535.2,415.8h0M528.1,408.3h0M490.7,449.4h0M541.3,410.3h0M517.3,397.4h0M487.8,462.6h0M464.5,434.9h0M529.3,426.4h0M513.5,462.9h0M507.9,456.7h0M461.0,445.3h0M463.3,448.4h0M516.9,441.1h0M537.6,423.9h0M482.5,449.6h0M483.2,463.5h0M495.4,460.0h0M506.9,454.9h0M469.2,440.5h0M513.2,434.0h0M516.9,444.3h0M538.0,399.1h0M490.0,404.6h0M529.6,416.0h0M471.6,420.6h0M534.9,415.6h0M538.9,417.9h0M514.6,454.5h0M525.5,426.0h0M536.8,408.2h0M530.6,413.2h0M502.0,411.8h0M522.4,428.9h0M508.1,460.0h0M516.9,417.4h0M507.7,456.5h0M490.9,450.5h0M495.2,397.3h0M528.9,428.7h0M530.3,399.8h0M528.7,431.1h0M488.3,427.2h0M480.2,463.5h0M532.0,399.2h0M522.6,422.9h0M464.4,441.9h0M472.9,440.8h0M513.8,401.5h0M538.7,418.1h0M505.3,450.9h0M499.1,439.4h0M516.9,414.3h0M502.0,446.4h0M534.7,427.6h0M499.7,450.2h0M497.3,415.0h0M527.0,397.8h0M500.6,463.2h0M527.6,423.5h0M484.1,438.3h0M526.8,400.1h0M528.4,430.2h0M478.6,438.1h0M501.7,404.8h0" stroke="#2626dc" stroke-width="1.0" stroke-linecap="round" fill="none"/>
<path d="M488.6,460.9h0M493.1,441.2h0M477.6,441.4h0M514.8,424.7h0M472.4,443.4h0M467.0,441.5h0M487.2,451.6h0M512.3,461.3h0M503.1,454.0h0M509.0,440.3h0M490.4,402.6h0M489.4,438.2h0M492.3,454.0h0M485.0,449.3h0M496.6,448.9h0M532.1,427.1h0M459.4,441.4h0M533.7,414.8h0M463.5,445.7h0M528.2,416.7h0M520.2,434.8h0M498.8,449.6h0M494.0,401.6h0M545.0,416.7h0M491.7,440.3h0M479.9,434.4h0" stroke="#a02060" stroke-width="1.0" stroke-linecap="round" fill="none"/>
<defs><filter id="bl1" x="-50%" y="-50%" width="200%" height="200%"><feGaussianBlur stdDeviation="1.1"/></filter><filter id="bl2" x="-50%" y="-50%" width="200%" height="200%"><feGaussianBlur stdDeviation="0.75"/></filter><clipPath id="ci1"><rect x="515.3" y="344.5" width="35.2" height="30"/></clipPath><clipPath id="ci2"><rect x="521.9" y="453.2" width="28.4" height="33.6"/></clipPath></defs>
<rect x="515.3" y="344.5" width="35.2" height="30" fill="#050705"/>
<g clip-path="url(#ci1)">
<polygon points="517.9,351.8 524.2,351.8 530.5,349.5 533.7,347.1 538.4,348.7 546.3,355.8 547.1,366.0 543.9,369.2 533.7,369.2 526.6,370.8 522.6,363.7 518.7,358.2" fill="#144a16" filter="url(#bl1)"/>
<polyline points="518.7,347.1 521.8,353.4 525.8,355.0 528.9,359.7" fill="none" stroke="#2c902c" stroke-width="1.8" filter="url(#bl1)"/>
<polyline points="522.6,354.2 525.8,355.8 528.9,360.5 526.6,369.2" fill="none" stroke="#2c902c" stroke-width="1.8" filter="url(#bl1)"/>
<polyline points="531.3,351.8 532.9,350.3 535.3,348.7" fill="none" stroke="#2c902c" stroke-width="1.8" filter="url(#bl1)"/>
<polyline points="543.1,366.0 545.5,363.7 546.3,356.6" fill="none" stroke="#2c902c" stroke-width="1.8" filter="url(#bl1)"/>
<polyline points="517.9,356.6 523.4,355.0" fill="none" stroke="#2c902c" stroke-width="1.8" filter="url(#bl1)"/>
<polygon points="527.8,361.3 530.9,356.2 535.3,350.3 538.0,351.8 542.0,355.8 544.6,358.9 543.5,363.7 540.8,366.4 536.0,367.2 530.5,364.9" fill="#48c848" filter="url(#bl1)" opacity="0.7"/>
<polygon points="528.5,360.9 531.3,356.2 535.4,351.0 537.8,352.5 541.6,356.2 543.9,359.1 543.0,363.5 540.6,365.9 536.0,366.5 530.9,364.3" fill="#2448f0" filter="url(#bl2)"/>
<ellipse cx="539.5" cy="371.5" rx="6.5" ry="2.8" fill="#2a38f0" filter="url(#bl2)"/>
<ellipse cx="524.5" cy="346.5" rx="2.5" ry="1.5" fill="#1a1ad0" filter="url(#bl2)"/>
</g>
<rect x="515.6" y="344.8" width="34.7" height="29.4" fill="none" stroke="#e8e8e8" stroke-width="1.2"/>
<rect x="491" y="354.4" width="7.2" height="5.9" fill="none" stroke="#fff" stroke-width="0.8"/>
<line x1="498.2" y1="354.4" x2="515.3" y2="344.5" stroke="#fff" stroke-width="0.8" />
<line x1="498.2" y1="360.3" x2="515.3" y2="374.5" stroke="#fff" stroke-width="0.8" />
<rect x="521.9" y="453.2" width="28.4" height="33.6" fill="#050303"/>
<g clip-path="url(#ci2)">
<polygon points="533.7,459.3 536.7,457.1 538.9,459.3 541.0,464.5 543.6,468.8 544.1,473.2 542.8,476.6 539.3,476.6 535.0,474.0 529.8,470.6 528.4,468.8 530.2,467.1 532.8,463.6" fill="#c0206a" filter="url(#bl1)" opacity="0.9"/>
<polyline points="540.2,477.1 541.9,479.2 542.8,482.7 542.8,486.2" fill="none" stroke="#a02040" stroke-width="1.2" filter="url(#bl2)"/>
<polygon points="533.9,459.7 536.7,457.7 538.6,459.7 540.9,464.7 543.3,469.0 543.5,473.0 542.2,475.9 539.5,475.9 535.4,473.6 530.4,470.4 529.4,468.8 530.8,467.3 533.0,463.8" fill="#3a2cf0" filter="url(#bl2)"/>
<ellipse cx="539.5" cy="477" rx="3" ry="1.5" fill="#30a0a0" filter="url(#bl2)" opacity="0.8"/>
<circle cx="543.2" cy="483.6" r="1.2" fill="#50e030" filter="url(#bl2)"/>
</g>
<rect x="522.2" y="453.5" width="27.8" height="33" fill="none" stroke="#e0e0e0" stroke-width="1.2"/>
<rect x="505.7" y="396.5" width="5.1" height="4.5" fill="none" stroke="#fff" stroke-width="0.8"/>
<line x1="505.7" y1="401" x2="521.9" y2="486.8" stroke="#fff" stroke-width="0.8" />
<line x1="510.8" y1="396.5" x2="550.3" y2="453.2" stroke="#fff" stroke-width="0.8" />
<text x="458.4" y="503.3" font-size="11.3" fill="#1a1aff" font-weight="bold" text-anchor="start"  textLength="24.8" lengthAdjust="spacingAndGlyphs" >DAPI</text>
<text x="486.5" y="503.3" font-size="11.3" fill="#22bb22" font-weight="bold" text-anchor="start"  textLength="26.5" lengthAdjust="spacingAndGlyphs" >CD1a</text>
<text x="516.2" y="503.3" font-size="11.3" fill="#ff2020" font-weight="bold" text-anchor="start"  textLength="34.6" lengthAdjust="spacingAndGlyphs" >HTR2A</text>
<text x="593.5" y="294.4" font-size="10" fill="#111" font-weight="bold" text-anchor="start"  textLength="91.5" lengthAdjust="spacingAndGlyphs" >HTR2A Expression</text>
<text x="639.2" y="306.2" font-size="10" fill="#111" font-weight="bold" text-anchor="middle"  >on LCs</text>
<text x="638.4" y="329.5" font-size="8.8" fill="#444" font-weight="normal" text-anchor="middle"  textLength="36.8" lengthAdjust="spacingAndGlyphs" >p=0.0016</text>
<line x1="622.2" y1="334.6" x2="654.8" y2="334.6" stroke="#111" stroke-width="1.8" />
<line x1="603.6" y1="335" x2="603.6" y2="441.90000000000003" stroke="#222" stroke-width="1.3" />
<line x1="603" y1="441.3" x2="674.8" y2="441.3" stroke="#222" stroke-width="1.3" />
<line x1="599.3" y1="441.3" x2="603.7" y2="441.3" stroke="#222" stroke-width="0.9" />
<text x="598.5" y="444.1" font-size="7.9" fill="#111" font-weight="bold" text-anchor="end"  >0</text>
<line x1="599.3" y1="419.85" x2="603.7" y2="419.85" stroke="#222" stroke-width="0.9" />
<text x="598.5" y="422.7" font-size="7.9" fill="#111" font-weight="bold" text-anchor="end"  >25</text>
<line x1="599.3" y1="398.40000000000003" x2="603.7" y2="398.40000000000003" stroke="#222" stroke-width="0.9" />
<text x="598.5" y="401.2" font-size="7.9" fill="#111" font-weight="bold" text-anchor="end"  >50</text>
<line x1="599.3" y1="376.95000000000005" x2="603.7" y2="376.95000000000005" stroke="#222" stroke-width="0.9" />
<text x="598.5" y="379.8" font-size="7.9" fill="#111" font-weight="bold" text-anchor="end"  >75</text>
<line x1="599.3" y1="355.5" x2="603.7" y2="355.5" stroke="#222" stroke-width="0.9" />
<text x="598.5" y="358.3" font-size="7.9" fill="#111" font-weight="bold" text-anchor="end"  >100</text>
<line x1="599.3" y1="334.05" x2="603.7" y2="334.05" stroke="#222" stroke-width="0.9" />
<text x="598.5" y="336.9" font-size="7.9" fill="#111" font-weight="bold" text-anchor="end"  >125</text>
<line x1="624.3" y1="441.3" x2="624.3" y2="445" stroke="#222" stroke-width="0.9" />
<line x1="654.7" y1="441.3" x2="654.7" y2="445" stroke="#222" stroke-width="0.9" />
<text x="0" y="0" font-size="8.6" font-weight="bold" fill="#111" transform="translate(580.1,387.8) rotate(-90)" text-anchor="middle" textLength="40" lengthAdjust="spacingAndGlyphs">MFI (A.U.)</text>
<text x="0" y="0" font-size="8" font-weight="bold" fill="#111" transform="translate(627,453.3) rotate(-45)" text-anchor="end">Lesioned</text>
<text x="0" y="0" font-size="8" font-weight="bold" fill="#111" transform="translate(657,453.3) rotate(-45)" text-anchor="end">Non-lesioned</text>
<g stroke="#222" stroke-width="0.6"><line x1="624.3" y1="411.3" x2="654.7" y2="357.2"/><line x1="624.3" y1="390.7" x2="654.7" y2="383.8"/><line x1="624.3" y1="405.3" x2="654.7" y2="404.4"/><line x1="624.3" y1="415.6" x2="654.7" y2="391.5"/><line x1="624.3" y1="417.3" x2="654.7" y2="400.1"/><line x1="624.3" y1="418.1" x2="654.7" y2="402.7"/><line x1="624.3" y1="419.9" x2="654.7" y2="405.3"/><line x1="624.3" y1="420.7" x2="654.7" y2="407.0"/><line x1="624.3" y1="421.6" x2="654.7" y2="408.7"/><line x1="624.3" y1="422.4" x2="654.7" y2="410.4"/><line x1="624.3" y1="423.3" x2="654.7" y2="412.1"/><line x1="624.3" y1="424.1" x2="654.7" y2="413.8"/><line x1="624.3" y1="422.4" x2="654.7" y2="415.6"/><line x1="624.3" y1="425.0" x2="654.7" y2="417.3"/><line x1="624.3" y1="425.9" x2="654.7" y2="418.1"/><line x1="624.3" y1="426.7" x2="654.7" y2="419.9"/><line x1="624.3" y1="419.0" x2="654.7" y2="420.7"/><line x1="624.3" y1="427.6" x2="654.7" y2="421.6"/><line x1="624.3" y1="420.7" x2="654.7" y2="422.4"/><line x1="624.3" y1="424.1" x2="654.7" y2="423.3"/><line x1="624.3" y1="428.4" x2="654.7" y2="424.1"/><line x1="624.3" y1="425.9" x2="654.7" y2="424.1"/><line x1="624.3" y1="418.1" x2="654.7" y2="425.0"/><line x1="624.3" y1="433.7" x2="654.7" y2="422.4"/><line x1="624.3" y1="422.4" x2="654.7" y2="428.0"/><line x1="624.3" y1="419.9" x2="654.7" y2="419.0"/><line x1="624.3" y1="425.0" x2="654.7" y2="416.4"/><line x1="624.3" y1="426.7" x2="654.7" y2="413.0"/></g>
<g fill="#111"><circle cx="624.3" cy="411.3" r="1.5"/><circle cx="654.7" cy="357.2" r="1.5"/><circle cx="624.3" cy="390.7" r="1.5"/><circle cx="654.7" cy="383.8" r="1.5"/><circle cx="624.3" cy="405.3" r="1.5"/><circle cx="654.7" cy="404.4" r="1.5"/><circle cx="624.3" cy="415.6" r="1.5"/><circle cx="654.7" cy="391.5" r="1.5"/><circle cx="624.3" cy="417.3" r="1.5"/><circle cx="654.7" cy="400.1" r="1.5"/><circle cx="624.3" cy="418.1" r="1.5"/><circle cx="654.7" cy="402.7" r="1.5"/><circle cx="624.3" cy="419.9" r="1.5"/><circle cx="654.7" cy="405.3" r="1.5"/><circle cx="624.3" cy="420.7" r="1.5"/><circle cx="654.7" cy="407.0" r="1.5"/><circle cx="624.3" cy="421.6" r="1.5"/><circle cx="654.7" cy="408.7" r="1.5"/><circle cx="624.3" cy="422.4" r="1.5"/><circle cx="654.7" cy="410.4" r="1.5"/><circle cx="624.3" cy="423.3" r="1.5"/><circle cx="654.7" cy="412.1" r="1.5"/><circle cx="624.3" cy="424.1" r="1.5"/><circle cx="654.7" cy="413.8" r="1.5"/><circle cx="624.3" cy="422.4" r="1.5"/><circle cx="654.7" cy="415.6" r="1.5"/><circle cx="624.3" cy="425.0" r="1.5"/><circle cx="654.7" cy="417.3" r="1.5"/><circle cx="624.3" cy="425.9" r="1.5"/><circle cx="654.7" cy="418.1" r="1.5"/><circle cx="624.3" cy="426.7" r="1.5"/><circle cx="654.7" cy="419.9" r="1.5"/><circle cx="624.3" cy="419.0" r="1.5"/><circle cx="654.7" cy="420.7" r="1.5"/><circle cx="624.3" cy="427.6" r="1.5"/><circle cx="654.7" cy="421.6" r="1.5"/><circle cx="624.3" cy="420.7" r="1.5"/><circle cx="654.7" cy="422.4" r="1.5"/><circle cx="624.3" cy="424.1" r="1.5"/><circle cx="654.7" cy="423.3" r="1.5"/><circle cx="624.3" cy="428.4" r="1.5"/><circle cx="654.7" cy="424.1" r="1.5"/><circle cx="624.3" cy="425.9" r="1.5"/><circle cx="654.7" cy="424.1" r="1.5"/><circle cx="624.3" cy="418.1" r="1.5"/><circle cx="654.7" cy="425.0" r="1.5"/><circle cx="624.3" cy="433.7" r="1.5"/><circle cx="654.7" cy="422.4" r="1.5"/><circle cx="624.3" cy="422.4" r="1.5"/><circle cx="654.7" cy="428.0" r="1.5"/><circle cx="624.3" cy="419.9" r="1.5"/><circle cx="654.7" cy="419.0" r="1.5"/><circle cx="624.3" cy="425.0" r="1.5"/><circle cx="654.7" cy="416.4" r="1.5"/><circle cx="624.3" cy="426.7" r="1.5"/><circle cx="654.7" cy="413.0" r="1.5"/></g>
</svg></body></html>
